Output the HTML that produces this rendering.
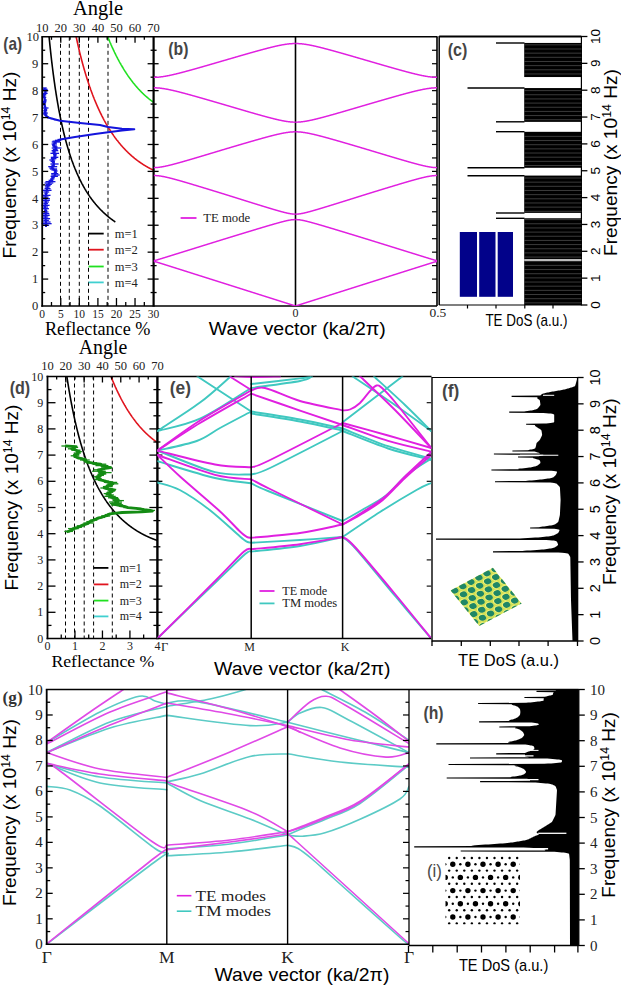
<!DOCTYPE html>
<html><head><meta charset="utf-8"><style>
html,body{margin:0;padding:0;background:#fff;}
svg{display:block;}
</style></head><body>
<svg width="621" height="987" viewBox="0 0 621 987">
<rect width="621" height="987" fill="#fff"/>
<line x1="60.50" y1="36.80" x2="60.50" y2="306.00" stroke="#000" stroke-width="1" stroke-linecap="butt" stroke-dasharray="4,3"/>
<line x1="69.30" y1="36.80" x2="69.30" y2="306.00" stroke="#000" stroke-width="1" stroke-linecap="butt" stroke-dasharray="4,3"/>
<line x1="79.30" y1="36.80" x2="79.30" y2="306.00" stroke="#000" stroke-width="1" stroke-linecap="butt" stroke-dasharray="4,3"/>
<line x1="88.50" y1="36.80" x2="88.50" y2="306.00" stroke="#000" stroke-width="1" stroke-linecap="butt" stroke-dasharray="4,3"/>
<line x1="108.00" y1="36.80" x2="108.00" y2="306.00" stroke="#000" stroke-width="1" stroke-linecap="butt" stroke-dasharray="4,3"/>
<polyline points="49.07,36.62 49.26,38.53 49.44,40.42 49.63,42.28 49.81,44.11 50.00,45.92 50.18,47.70 50.37,49.45 50.55,51.19 50.74,52.89 50.93,54.58 51.11,56.24 51.30,57.88 51.48,59.49 51.67,61.09 51.85,62.66 52.04,64.22 52.23,65.75 52.41,67.26 52.60,68.75 52.78,70.23 52.97,71.68 53.15,73.12 53.34,74.54 53.53,75.93 53.71,77.32 53.90,78.68 54.08,80.03 54.27,81.36 54.45,82.68 54.64,83.98 54.83,85.26 55.01,86.53 55.20,87.78 55.38,89.02 55.57,90.25 55.75,91.45 55.94,92.65 56.12,93.83 56.31,95.00 56.50,96.15 56.68,97.29 56.87,98.42 57.05,99.54 57.24,100.64 57.42,101.73 57.61,102.81 57.80,103.88 57.98,104.93 58.17,105.97 58.35,107.00 58.54,108.03 58.72,109.03 58.91,110.03 59.10,111.02 59.28,112.00 59.47,112.97 59.65,113.92 59.84,114.87 60.02,115.81 60.21,116.73 60.40,117.65 60.58,118.56 60.77,119.46 60.95,120.35 61.14,121.23 61.32,122.10 61.51,122.97 61.70,123.82 61.88,124.67 62.07,125.51 62.25,126.33 62.44,127.16 62.62,127.97 62.81,128.78 62.99,129.57 63.18,130.36 63.37,131.15 63.55,131.92 63.74,132.69 63.92,133.45 64.11,134.20 64.29,134.95 64.48,135.69 64.67,136.42 64.85,137.14 65.04,137.86 65.22,138.58 65.41,139.28 65.59,139.98 65.78,140.67 65.97,141.36 66.15,142.04 66.34,142.72 66.52,143.38 66.71,144.05 66.89,144.70 67.08,145.35 67.27,146.00 67.45,146.64 67.64,147.27 67.82,147.90 68.01,148.52 68.19,149.14 68.38,149.75 68.56,150.36 68.75,150.96 68.94,151.56 69.12,152.15 69.31,152.74 69.49,153.32 69.68,153.90 69.86,154.47 70.05,155.04 70.24,155.60 70.42,156.16 70.61,156.71 70.79,157.26 70.98,157.80 71.16,158.34 71.35,158.88 71.54,159.41 71.72,159.94 71.91,160.46 72.09,160.98 72.28,161.49 72.46,162.00 72.65,162.51 72.84,163.01 73.02,163.51 73.21,164.01 73.39,164.50 73.58,164.98 73.76,165.47 73.95,165.95 74.13,166.42 74.32,166.90 74.51,167.36 74.69,167.83 74.88,168.29 75.06,168.75 75.25,169.20 75.43,169.65 75.62,170.10 75.81,170.55 75.99,170.99 76.18,171.43 76.36,171.86 76.55,172.29 76.73,172.72 76.92,173.14 77.11,173.57 77.29,173.99 77.48,174.40 77.66,174.81 77.85,175.22 78.03,175.63 78.22,176.03 78.41,176.44 78.59,176.83 78.78,177.23 78.96,177.62 79.15,178.01 79.33,178.40 79.52,178.78 79.70,179.17 79.89,179.54 80.08,179.92 80.26,180.29 80.45,180.67 80.63,181.03 80.82,181.40 81.00,181.76 81.19,182.12 81.38,182.48 81.56,182.84 81.75,183.19 81.93,183.54 82.12,183.89 82.30,184.24 82.49,184.58 82.68,184.93 82.86,185.27 83.05,185.60 83.23,185.94 83.42,186.27 83.60,186.60 83.79,186.93 83.97,187.26 84.16,187.58 84.35,187.90 84.53,188.22 84.72,188.54 84.90,188.86 85.09,189.17 85.27,189.48 85.46,189.79 85.65,190.10 85.83,190.41 86.02,190.71 86.20,191.01 86.39,191.31 86.57,191.61 86.76,191.91 86.95,192.20 87.13,192.49 87.32,192.78 87.50,193.07 87.69,193.36 87.87,193.64 88.06,193.93 88.25,194.21 88.43,194.49 88.62,194.77 88.80,195.04 88.99,195.32 89.17,195.59 89.36,195.86 89.55,196.13 89.73,196.40 89.92,196.67 90.10,196.93 90.29,197.19 90.47,197.46 90.66,197.72 90.84,197.97 91.03,198.23 91.22,198.49 91.40,198.74 91.59,198.99 91.77,199.24 91.96,199.49 92.14,199.74 92.33,199.99 92.52,200.23 92.70,200.47 92.89,200.72 93.07,200.96 93.26,201.20 93.44,201.43 93.63,201.67 93.82,201.91 94.00,202.14 94.19,202.37 94.37,202.60 94.56,202.83 94.74,203.06 94.93,203.29 95.11,203.51 95.30,203.74 95.49,203.96 95.67,204.18 95.86,204.40 96.04,204.62 96.23,204.84 96.41,205.05 96.60,205.27 96.79,205.48 96.97,205.70 97.16,205.91 97.34,206.12 97.53,206.33 97.71,206.54 97.90,206.74 98.09,206.95 98.27,207.15 98.46,207.36 98.64,207.56 98.83,207.76 99.01,207.96 99.20,208.16 99.39,208.36 99.57,208.56 99.76,208.75 99.94,208.95 100.13,209.14 100.31,209.33 100.50,209.52 100.69,209.71 100.87,209.90 101.06,210.09 101.24,210.28 101.43,210.47 101.61,210.65 101.80,210.84 101.98,211.02 102.17,211.20 102.36,211.38 102.54,211.56 102.73,211.74 102.91,211.92 103.10,212.10 103.28,212.28 103.47,212.45 103.66,212.63 103.84,212.80 104.03,212.97 104.21,213.14 104.40,213.31 104.58,213.48 104.77,213.65 104.96,213.82 105.14,213.99 105.33,214.16 105.51,214.32 105.70,214.49 105.88,214.65 106.07,214.81 106.25,214.97 106.44,215.14 106.63,215.30 106.81,215.46 107.00,215.61 107.18,215.77 107.37,215.93 107.55,216.09 107.74,216.24 107.93,216.40 108.11,216.55 108.30,216.70 108.48,216.86 108.67,217.01 108.85,217.16 109.04,217.31 109.23,217.46 109.41,217.60 109.60,217.75 109.78,217.90 109.97,218.04 110.15,218.19 110.34,218.33 110.53,218.48 110.71,218.62 110.90,218.76 111.08,218.91 111.27,219.05 111.45,219.19 111.64,219.33 111.83,219.46 112.01,219.60 112.20,219.74 112.38,219.88 112.57,220.01 112.75,220.15 112.94,220.28 113.12,220.42 113.31,220.55 113.50,220.68 113.68,220.81 113.87,220.95 114.05,221.08 114.24,221.21 114.42,221.34 114.61,221.46 114.80,221.59 114.98,221.72 115.17,221.85 115.35,221.97" fill="none" stroke="#000" stroke-width="1.6" stroke-linejoin="round"/>
<polyline points="76.18,36.85 76.36,37.72 76.55,38.58 76.73,39.44 76.92,40.29 77.11,41.13 77.29,41.97 77.48,42.80 77.66,43.63 77.85,44.45 78.03,45.26 78.22,46.07 78.41,46.87 78.59,47.67 78.78,48.46 78.96,49.24 79.15,50.02 79.33,50.80 79.52,51.57 79.70,52.33 79.89,53.09 80.08,53.84 80.26,54.59 80.45,55.33 80.63,56.07 80.82,56.80 81.00,57.53 81.19,58.25 81.38,58.97 81.56,59.68 81.75,60.39 81.93,61.09 82.12,61.79 82.30,62.48 82.49,63.17 82.68,63.85 82.86,64.53 83.05,65.21 83.23,65.88 83.42,66.54 83.60,67.20 83.79,67.86 83.97,68.51 84.16,69.16 84.35,69.81 84.53,70.45 84.72,71.08 84.90,71.71 85.09,72.34 85.27,72.97 85.46,73.59 85.65,74.20 85.83,74.81 86.02,75.42 86.20,76.02 86.39,76.62 86.57,77.22 86.76,77.81 86.95,78.40 87.13,78.99 87.32,79.57 87.50,80.14 87.69,80.72 87.87,81.29 88.06,81.86 88.25,82.42 88.43,82.98 88.62,83.53 88.80,84.09 88.99,84.64 89.17,85.18 89.36,85.73 89.55,86.26 89.73,86.80 89.92,87.33 90.10,87.86 90.29,88.39 90.47,88.91 90.66,89.43 90.84,89.95 91.03,90.46 91.22,90.97 91.40,91.48 91.59,91.99 91.77,92.49 91.96,92.99 92.14,93.48 92.33,93.97 92.52,94.46 92.70,94.95 92.89,95.43 93.07,95.91 93.26,96.39 93.44,96.87 93.63,97.34 93.82,97.81 94.00,98.28 94.19,98.74 94.37,99.20 94.56,99.66 94.74,100.12 94.93,100.57 95.11,101.02 95.30,101.47 95.49,101.92 95.67,102.36 95.86,102.80 96.04,103.24 96.23,103.68 96.41,104.11 96.60,104.54 96.79,104.97 96.97,105.39 97.16,105.82 97.34,106.24 97.53,106.66 97.71,107.07 97.90,107.49 98.09,107.90 98.27,108.31 98.46,108.72 98.64,109.12 98.83,109.52 99.01,109.92 99.20,110.32 99.39,110.72 99.57,111.11 99.76,111.50 99.94,111.89 100.13,112.28 100.31,112.67 100.50,113.05 100.69,113.43 100.87,113.81 101.06,114.19 101.24,114.56 101.43,114.93 101.61,115.30 101.80,115.67 101.98,116.04 102.17,116.40 102.36,116.77 102.54,117.13 102.73,117.49 102.91,117.84 103.10,118.20 103.28,118.55 103.47,118.90 103.66,119.25 103.84,119.60 104.03,119.94 104.21,120.29 104.40,120.63 104.58,120.97 104.77,121.31 104.96,121.64 105.14,121.98 105.33,122.31 105.51,122.64 105.70,122.97 105.88,123.30 106.07,123.63 106.25,123.95 106.44,124.27 106.63,124.59 106.81,124.91 107.00,125.23 107.18,125.55 107.37,125.86 107.55,126.17 107.74,126.48 107.93,126.79 108.11,127.10 108.30,127.41 108.48,127.71 108.67,128.01 108.85,128.31 109.04,128.61 109.23,128.91 109.41,129.21 109.60,129.50 109.78,129.80 109.97,130.09 110.15,130.38 110.34,130.67 110.53,130.96 110.71,131.24 110.90,131.53 111.08,131.81 111.27,132.09 111.45,132.37 111.64,132.65 111.83,132.93 112.01,133.21 112.20,133.48 112.38,133.75 112.57,134.03 112.75,134.30 112.94,134.57 113.12,134.83 113.31,135.10 113.50,135.36 113.68,135.63 113.87,135.89 114.05,136.15 114.24,136.41 114.42,136.67 114.61,136.93 114.80,137.18 114.98,137.44 115.17,137.69 115.35,137.94 115.54,138.19 115.72,138.44 115.91,138.69 116.10,138.94 116.28,139.18 116.47,139.43 116.65,139.67 116.84,139.91 117.02,140.16 117.21,140.40 117.39,140.63 117.58,140.87 117.77,141.11 117.95,141.34 118.14,141.58 118.32,141.81 118.51,142.04 118.69,142.27 118.88,142.50 119.07,142.73 119.25,142.95 119.44,143.18 119.62,143.40 119.81,143.63 119.99,143.85 120.18,144.07 120.37,144.29 120.55,144.51 120.74,144.73 120.92,144.95 121.11,145.16 121.29,145.38 121.48,145.59 121.67,145.80 121.85,146.02 122.04,146.23 122.22,146.44 122.41,146.64 122.59,146.85 122.78,147.06 122.97,147.26 123.15,147.47 123.34,147.67 123.52,147.87 123.71,148.08 123.89,148.28 124.08,148.48 124.26,148.67 124.45,148.87 124.64,149.07 124.82,149.26 125.01,149.46 125.19,149.65 125.38,149.85 125.56,150.04 125.75,150.23 125.94,150.42 126.12,150.61 126.31,150.80 126.49,150.98 126.68,151.17 126.86,151.35 127.05,151.54 127.24,151.72 127.42,151.90 127.61,152.09 127.79,152.27 127.98,152.45 128.16,152.63 128.35,152.80 128.53,152.98 128.72,153.16 128.91,153.33 129.09,153.51 129.28,153.68 129.46,153.85 129.65,154.03 129.83,154.20 130.02,154.37 130.21,154.54 130.39,154.71 130.58,154.87 130.76,155.04 130.95,155.21 131.13,155.37 131.32,155.54 131.51,155.70 131.69,155.86 131.88,156.02 132.06,156.19 132.25,156.35 132.43,156.51 132.62,156.66 132.81,156.82 132.99,156.98 133.18,157.14 133.36,157.29 133.55,157.45 133.73,157.60 133.92,157.75 134.10,157.91 134.29,158.06 134.48,158.21 134.66,158.36 134.85,158.51 135.03,158.66 135.22,158.81 135.40,158.95 135.59,159.10 135.78,159.25 135.96,159.39 136.15,159.54 136.33,159.68 136.52,159.82 136.70,159.97 136.89,160.11 137.08,160.25 137.26,160.39 137.45,160.53 137.63,160.67 137.82,160.80 138.00,160.94 138.19,161.08 138.38,161.21 138.56,161.35 138.75,161.48 138.93,161.62 139.12,161.75 139.30,161.88 139.49,162.01 139.68,162.15 139.86,162.28 140.05,162.41 140.23,162.53 140.42,162.66 140.60,162.79 140.79,162.92 140.97,163.04 141.16,163.17 141.35,163.29 141.53,163.42 141.72,163.54 141.90,163.67 142.09,163.79 142.27,163.91 142.46,164.03 142.65,164.15 142.83,164.27 143.02,164.39 143.20,164.51 143.39,164.63 143.57,164.74 143.76,164.86 143.95,164.98 144.13,165.09 144.32,165.21 144.50,165.32 144.69,165.44 144.87,165.55 145.06,165.66 145.25,165.77 145.43,165.88 145.62,166.00 145.80,166.11 145.99,166.21 146.17,166.32 146.36,166.43 146.54,166.54 146.73,166.65 146.92,166.75 147.10,166.86 147.29,166.96 147.47,167.07 147.66,167.17 147.84,167.28 148.03,167.38 148.22,167.48 148.40,167.58 148.59,167.69 148.77,167.79 148.96,167.89 149.14,167.99 149.33,168.08 149.52,168.18 149.70,168.28 149.89,168.38 150.07,168.47 150.26,168.57 150.44,168.67 150.63,168.76 150.81,168.86 151.00,168.95 151.19,169.04 151.37,169.14 151.56,169.23 151.74,169.32 151.93,169.41 152.11,169.50 152.30,169.59 152.49,169.68 152.67,169.77 152.86,169.86 153.04,169.95 153.23,170.04 153.41,170.12 153.60,170.21" fill="none" stroke="#e0141e" stroke-width="1.6" stroke-linejoin="round"/>
<polyline points="107.74,36.72 107.93,37.19 108.11,37.65 108.30,38.11 108.48,38.57 108.67,39.02 108.85,39.47 109.04,39.92 109.23,40.37 109.41,40.81 109.60,41.26 109.78,41.70 109.97,42.13 110.15,42.57 110.34,43.00 110.53,43.44 110.71,43.86 110.90,44.29 111.08,44.72 111.27,45.14 111.45,45.56 111.64,45.98 111.83,46.39 112.01,46.81 112.20,47.22 112.38,47.63 112.57,48.04 112.75,48.44 112.94,48.85 113.12,49.25 113.31,49.65 113.50,50.05 113.68,50.44 113.87,50.84 114.05,51.23 114.24,51.62 114.42,52.01 114.61,52.39 114.80,52.77 114.98,53.16 115.17,53.54 115.35,53.91 115.54,54.29 115.72,54.67 115.91,55.04 116.10,55.41 116.28,55.78 116.47,56.14 116.65,56.51 116.84,56.87 117.02,57.23 117.21,57.59 117.39,57.95 117.58,58.31 117.77,58.66 117.95,59.01 118.14,59.36 118.32,59.71 118.51,60.06 118.69,60.41 118.88,60.75 119.07,61.09 119.25,61.43 119.44,61.77 119.62,62.11 119.81,62.44 119.99,62.78 120.18,63.11 120.37,63.44 120.55,63.77 120.74,64.09 120.92,64.42 121.11,64.74 121.29,65.07 121.48,65.39 121.67,65.71 121.85,66.02 122.04,66.34 122.22,66.65 122.41,66.97 122.59,67.28 122.78,67.59 122.97,67.90 123.15,68.20 123.34,68.51 123.52,68.81 123.71,69.11 123.89,69.42 124.08,69.71 124.26,70.01 124.45,70.31 124.64,70.60 124.82,70.90 125.01,71.19 125.19,71.48 125.38,71.77 125.56,72.06 125.75,72.34 125.94,72.63 126.12,72.91 126.31,73.19 126.49,73.47 126.68,73.75 126.86,74.03 127.05,74.31 127.24,74.58 127.42,74.86 127.61,75.13 127.79,75.40 127.98,75.67 128.16,75.94 128.35,76.20 128.53,76.47 128.72,76.74 128.91,77.00 129.09,77.26 129.28,77.52 129.46,77.78 129.65,78.04 129.83,78.30 130.02,78.55 130.21,78.80 130.39,79.06 130.58,79.31 130.76,79.56 130.95,79.81 131.13,80.06 131.32,80.30 131.51,80.55 131.69,80.79 131.88,81.04 132.06,81.28 132.25,81.52 132.43,81.76 132.62,82.00 132.81,82.23 132.99,82.47 133.18,82.70 133.36,82.94 133.55,83.17 133.73,83.40 133.92,83.63 134.10,83.86 134.29,84.09 134.48,84.32 134.66,84.54 134.85,84.77 135.03,84.99 135.22,85.21 135.40,85.43 135.59,85.65 135.78,85.87 135.96,86.09 136.15,86.31 136.33,86.52 136.52,86.74 136.70,86.95 136.89,87.16 137.08,87.37 137.26,87.58 137.45,87.79 137.63,88.00 137.82,88.21 138.00,88.41 138.19,88.62 138.38,88.82 138.56,89.02 138.75,89.22 138.93,89.43 139.12,89.63 139.30,89.82 139.49,90.02 139.68,90.22 139.86,90.41 140.05,90.61 140.23,90.80 140.42,90.99 140.60,91.19 140.79,91.38 140.97,91.57 141.16,91.75 141.35,91.94 141.53,92.13 141.72,92.31 141.90,92.50 142.09,92.68 142.27,92.86 142.46,93.05 142.65,93.23 142.83,93.41 143.02,93.59 143.20,93.76 143.39,93.94 143.57,94.12 143.76,94.29 143.95,94.47 144.13,94.64 144.32,94.81 144.50,94.98 144.69,95.15 144.87,95.32 145.06,95.49 145.25,95.66 145.43,95.83 145.62,95.99 145.80,96.16 145.99,96.32 146.17,96.49 146.36,96.65 146.54,96.81 146.73,96.97 146.92,97.13 147.10,97.29 147.29,97.45 147.47,97.60 147.66,97.76 147.84,97.91 148.03,98.07 148.22,98.22 148.40,98.38 148.59,98.53 148.77,98.68 148.96,98.83 149.14,98.98 149.33,99.13 149.52,99.27 149.70,99.42 149.89,99.57 150.07,99.71 150.26,99.86 150.44,100.00 150.63,100.14 150.81,100.28 151.00,100.43 151.19,100.57 151.37,100.71 151.56,100.84 151.74,100.98 151.93,101.12 152.11,101.25 152.30,101.39 152.49,101.52 152.67,101.66 152.86,101.79 153.04,101.92 153.23,102.05 153.41,102.19 153.60,102.32" fill="none" stroke="#20e020" stroke-width="1.6" stroke-linejoin="round"/>
<polyline points="44.50,88.00 45.50,92.00 44.00,96.00 45.00,100.00 44.20,104.00 45.50,108.00 45.00,112.00 45.50,115.00 48.00,117.50 60.00,120.80 80.00,123.00 100.00,125.00 108.00,127.00 122.00,128.80 134.30,129.30 122.00,130.50 108.00,132.20 95.00,134.00 75.00,137.00 60.00,139.50 55.50,142.00 53.50,145.00 56.00,148.00 54.00,152.00 55.00,156.00 52.50,160.00 54.00,164.00 52.00,168.00 55.50,171.00 55.00,175.00 52.00,179.00 49.00,183.00 47.50,187.00 46.50,192.00 45.50,197.00 46.00,202.00 45.00,207.00 46.00,212.00 45.50,217.00 46.00,222.00 46.00,227.00" fill="none" stroke="#1414dc" stroke-width="2.0" stroke-linejoin="round"/>
<line x1="42.57" y1="88.00" x2="46.71" y2="88.00" stroke="#1414dc" stroke-width="1.3" stroke-linecap="butt"/>
<line x1="42.64" y1="89.33" x2="47.61" y2="89.33" stroke="#1414dc" stroke-width="1.3" stroke-linecap="butt"/>
<line x1="43.06" y1="90.67" x2="47.81" y2="90.67" stroke="#1414dc" stroke-width="1.3" stroke-linecap="butt"/>
<line x1="44.46" y1="92.00" x2="46.52" y2="92.00" stroke="#1414dc" stroke-width="1.3" stroke-linecap="butt"/>
<line x1="42.58" y1="93.33" x2="47.63" y2="93.33" stroke="#1414dc" stroke-width="1.3" stroke-linecap="butt"/>
<line x1="42.15" y1="94.67" x2="46.31" y2="94.67" stroke="#1414dc" stroke-width="1.3" stroke-linecap="butt"/>
<line x1="42.30" y1="96.00" x2="45.44" y2="96.00" stroke="#1414dc" stroke-width="1.3" stroke-linecap="butt"/>
<line x1="42.52" y1="97.33" x2="46.23" y2="97.33" stroke="#1414dc" stroke-width="1.3" stroke-linecap="butt"/>
<line x1="43.65" y1="98.67" x2="45.51" y2="98.67" stroke="#1414dc" stroke-width="1.3" stroke-linecap="butt"/>
<line x1="43.58" y1="100.00" x2="46.77" y2="100.00" stroke="#1414dc" stroke-width="1.3" stroke-linecap="butt"/>
<line x1="42.58" y1="101.33" x2="46.44" y2="101.33" stroke="#1414dc" stroke-width="1.3" stroke-linecap="butt"/>
<line x1="42.27" y1="102.67" x2="46.19" y2="102.67" stroke="#1414dc" stroke-width="1.3" stroke-linecap="butt"/>
<line x1="42.27" y1="104.00" x2="45.69" y2="104.00" stroke="#1414dc" stroke-width="1.3" stroke-linecap="butt"/>
<line x1="43.63" y1="105.33" x2="45.86" y2="105.33" stroke="#1414dc" stroke-width="1.3" stroke-linecap="butt"/>
<line x1="43.75" y1="106.67" x2="46.16" y2="106.67" stroke="#1414dc" stroke-width="1.3" stroke-linecap="butt"/>
<line x1="43.03" y1="108.00" x2="48.53" y2="108.00" stroke="#1414dc" stroke-width="1.3" stroke-linecap="butt"/>
<line x1="43.90" y1="109.33" x2="47.16" y2="109.33" stroke="#1414dc" stroke-width="1.3" stroke-linecap="butt"/>
<line x1="43.36" y1="110.67" x2="47.17" y2="110.67" stroke="#1414dc" stroke-width="1.3" stroke-linecap="butt"/>
<line x1="43.69" y1="112.00" x2="46.65" y2="112.00" stroke="#1414dc" stroke-width="1.3" stroke-linecap="butt"/>
<line x1="43.13" y1="113.00" x2="47.77" y2="113.00" stroke="#1414dc" stroke-width="1.3" stroke-linecap="butt"/>
<line x1="42.99" y1="114.00" x2="47.39" y2="114.00" stroke="#1414dc" stroke-width="1.3" stroke-linecap="butt"/>
<line x1="43.96" y1="115.00" x2="46.73" y2="115.00" stroke="#1414dc" stroke-width="1.3" stroke-linecap="butt"/>
<line x1="45.11" y1="115.83" x2="47.23" y2="115.83" stroke="#1414dc" stroke-width="1.3" stroke-linecap="butt"/>
<line x1="45.71" y1="116.67" x2="48.71" y2="116.67" stroke="#1414dc" stroke-width="1.3" stroke-linecap="butt"/>
<line x1="46.99" y1="117.50" x2="49.11" y2="117.50" stroke="#1414dc" stroke-width="1.3" stroke-linecap="butt"/>
<line x1="50.49" y1="118.60" x2="53.34" y2="118.60" stroke="#1414dc" stroke-width="1.3" stroke-linecap="butt"/>
<line x1="53.77" y1="119.70" x2="58.20" y2="119.70" stroke="#1414dc" stroke-width="1.3" stroke-linecap="butt"/>
<line x1="57.55" y1="139.50" x2="62.42" y2="139.50" stroke="#1414dc" stroke-width="1.3" stroke-linecap="butt"/>
<line x1="54.89" y1="140.33" x2="61.15" y2="140.33" stroke="#1414dc" stroke-width="1.3" stroke-linecap="butt"/>
<line x1="52.57" y1="141.17" x2="60.16" y2="141.17" stroke="#1414dc" stroke-width="1.3" stroke-linecap="butt"/>
<line x1="51.75" y1="142.00" x2="60.03" y2="142.00" stroke="#1414dc" stroke-width="1.3" stroke-linecap="butt"/>
<line x1="53.28" y1="143.00" x2="56.66" y2="143.00" stroke="#1414dc" stroke-width="1.3" stroke-linecap="butt"/>
<line x1="51.57" y1="144.00" x2="56.89" y2="144.00" stroke="#1414dc" stroke-width="1.3" stroke-linecap="butt"/>
<line x1="51.97" y1="145.00" x2="54.61" y2="145.00" stroke="#1414dc" stroke-width="1.3" stroke-linecap="butt"/>
<line x1="52.29" y1="146.00" x2="56.93" y2="146.00" stroke="#1414dc" stroke-width="1.3" stroke-linecap="butt"/>
<line x1="53.08" y1="147.00" x2="57.58" y2="147.00" stroke="#1414dc" stroke-width="1.3" stroke-linecap="butt"/>
<line x1="51.71" y1="148.00" x2="61.43" y2="148.00" stroke="#1414dc" stroke-width="1.3" stroke-linecap="butt"/>
<line x1="52.80" y1="149.33" x2="57.65" y2="149.33" stroke="#1414dc" stroke-width="1.3" stroke-linecap="butt"/>
<line x1="51.59" y1="150.67" x2="58.25" y2="150.67" stroke="#1414dc" stroke-width="1.3" stroke-linecap="butt"/>
<line x1="52.18" y1="152.00" x2="56.10" y2="152.00" stroke="#1414dc" stroke-width="1.3" stroke-linecap="butt"/>
<line x1="50.44" y1="153.33" x2="59.06" y2="153.33" stroke="#1414dc" stroke-width="1.3" stroke-linecap="butt"/>
<line x1="53.06" y1="154.67" x2="56.71" y2="154.67" stroke="#1414dc" stroke-width="1.3" stroke-linecap="butt"/>
<line x1="53.23" y1="156.00" x2="56.60" y2="156.00" stroke="#1414dc" stroke-width="1.3" stroke-linecap="butt"/>
<line x1="50.83" y1="157.33" x2="58.34" y2="157.33" stroke="#1414dc" stroke-width="1.3" stroke-linecap="butt"/>
<line x1="50.81" y1="158.67" x2="56.49" y2="158.67" stroke="#1414dc" stroke-width="1.3" stroke-linecap="butt"/>
<line x1="49.36" y1="160.00" x2="55.28" y2="160.00" stroke="#1414dc" stroke-width="1.3" stroke-linecap="butt"/>
<line x1="50.55" y1="161.33" x2="54.98" y2="161.33" stroke="#1414dc" stroke-width="1.3" stroke-linecap="butt"/>
<line x1="51.77" y1="162.67" x2="54.87" y2="162.67" stroke="#1414dc" stroke-width="1.3" stroke-linecap="butt"/>
<line x1="50.43" y1="164.00" x2="58.63" y2="164.00" stroke="#1414dc" stroke-width="1.3" stroke-linecap="butt"/>
<line x1="51.35" y1="165.33" x2="54.78" y2="165.33" stroke="#1414dc" stroke-width="1.3" stroke-linecap="butt"/>
<line x1="48.21" y1="166.67" x2="57.22" y2="166.67" stroke="#1414dc" stroke-width="1.3" stroke-linecap="butt"/>
<line x1="49.28" y1="168.00" x2="54.29" y2="168.00" stroke="#1414dc" stroke-width="1.3" stroke-linecap="butt"/>
<line x1="49.88" y1="169.00" x2="57.09" y2="169.00" stroke="#1414dc" stroke-width="1.3" stroke-linecap="butt"/>
<line x1="51.47" y1="170.00" x2="57.07" y2="170.00" stroke="#1414dc" stroke-width="1.3" stroke-linecap="butt"/>
<line x1="53.83" y1="171.00" x2="57.58" y2="171.00" stroke="#1414dc" stroke-width="1.3" stroke-linecap="butt"/>
<line x1="53.74" y1="172.33" x2="56.93" y2="172.33" stroke="#1414dc" stroke-width="1.3" stroke-linecap="butt"/>
<line x1="51.15" y1="173.67" x2="58.29" y2="173.67" stroke="#1414dc" stroke-width="1.3" stroke-linecap="butt"/>
<line x1="51.31" y1="175.00" x2="59.69" y2="175.00" stroke="#1414dc" stroke-width="1.3" stroke-linecap="butt"/>
<line x1="50.61" y1="176.33" x2="57.98" y2="176.33" stroke="#1414dc" stroke-width="1.3" stroke-linecap="butt"/>
<line x1="51.18" y1="177.67" x2="54.75" y2="177.67" stroke="#1414dc" stroke-width="1.3" stroke-linecap="butt"/>
<line x1="50.05" y1="179.00" x2="54.35" y2="179.00" stroke="#1414dc" stroke-width="1.3" stroke-linecap="butt"/>
<line x1="48.62" y1="180.33" x2="53.32" y2="180.33" stroke="#1414dc" stroke-width="1.3" stroke-linecap="butt"/>
<line x1="45.50" y1="181.67" x2="55.45" y2="181.67" stroke="#1414dc" stroke-width="1.3" stroke-linecap="butt"/>
<line x1="44.57" y1="183.00" x2="53.30" y2="183.00" stroke="#1414dc" stroke-width="1.3" stroke-linecap="butt"/>
<line x1="45.54" y1="184.33" x2="51.87" y2="184.33" stroke="#1414dc" stroke-width="1.3" stroke-linecap="butt"/>
<line x1="45.06" y1="185.67" x2="50.57" y2="185.67" stroke="#1414dc" stroke-width="1.3" stroke-linecap="butt"/>
<line x1="44.79" y1="187.00" x2="49.64" y2="187.00" stroke="#1414dc" stroke-width="1.3" stroke-linecap="butt"/>
<line x1="44.54" y1="188.67" x2="50.57" y2="188.67" stroke="#1414dc" stroke-width="1.3" stroke-linecap="butt"/>
<line x1="42.45" y1="190.33" x2="51.55" y2="190.33" stroke="#1414dc" stroke-width="1.3" stroke-linecap="butt"/>
<line x1="43.50" y1="192.00" x2="49.21" y2="192.00" stroke="#1414dc" stroke-width="1.3" stroke-linecap="butt"/>
<line x1="44.40" y1="193.67" x2="47.69" y2="193.67" stroke="#1414dc" stroke-width="1.3" stroke-linecap="butt"/>
<line x1="41.99" y1="195.33" x2="50.53" y2="195.33" stroke="#1414dc" stroke-width="1.3" stroke-linecap="butt"/>
<line x1="42.92" y1="197.00" x2="48.53" y2="197.00" stroke="#1414dc" stroke-width="1.3" stroke-linecap="butt"/>
<line x1="41.84" y1="198.67" x2="49.94" y2="198.67" stroke="#1414dc" stroke-width="1.3" stroke-linecap="butt"/>
<line x1="42.34" y1="200.33" x2="49.87" y2="200.33" stroke="#1414dc" stroke-width="1.3" stroke-linecap="butt"/>
<line x1="43.41" y1="202.00" x2="48.91" y2="202.00" stroke="#1414dc" stroke-width="1.3" stroke-linecap="butt"/>
<line x1="43.32" y1="203.67" x2="47.99" y2="203.67" stroke="#1414dc" stroke-width="1.3" stroke-linecap="butt"/>
<line x1="41.52" y1="205.33" x2="49.58" y2="205.33" stroke="#1414dc" stroke-width="1.3" stroke-linecap="butt"/>
<line x1="42.62" y1="207.00" x2="48.02" y2="207.00" stroke="#1414dc" stroke-width="1.3" stroke-linecap="butt"/>
<line x1="41.88" y1="208.67" x2="48.95" y2="208.67" stroke="#1414dc" stroke-width="1.3" stroke-linecap="butt"/>
<line x1="44.13" y1="210.33" x2="47.24" y2="210.33" stroke="#1414dc" stroke-width="1.3" stroke-linecap="butt"/>
<line x1="43.75" y1="212.00" x2="48.48" y2="212.00" stroke="#1414dc" stroke-width="1.3" stroke-linecap="butt"/>
<line x1="42.94" y1="213.67" x2="49.27" y2="213.67" stroke="#1414dc" stroke-width="1.3" stroke-linecap="butt"/>
<line x1="42.22" y1="215.33" x2="49.72" y2="215.33" stroke="#1414dc" stroke-width="1.3" stroke-linecap="butt"/>
<line x1="42.96" y1="217.00" x2="48.26" y2="217.00" stroke="#1414dc" stroke-width="1.3" stroke-linecap="butt"/>
<line x1="41.95" y1="218.67" x2="50.11" y2="218.67" stroke="#1414dc" stroke-width="1.3" stroke-linecap="butt"/>
<line x1="43.28" y1="220.33" x2="48.91" y2="220.33" stroke="#1414dc" stroke-width="1.3" stroke-linecap="butt"/>
<line x1="41.89" y1="222.00" x2="50.57" y2="222.00" stroke="#1414dc" stroke-width="1.3" stroke-linecap="butt"/>
<line x1="41.57" y1="223.67" x2="51.64" y2="223.67" stroke="#1414dc" stroke-width="1.3" stroke-linecap="butt"/>
<line x1="42.95" y1="225.33" x2="49.11" y2="225.33" stroke="#1414dc" stroke-width="1.3" stroke-linecap="butt"/>
<line x1="42.20" y1="36.80" x2="42.20" y2="306.80" stroke="#000" stroke-width="1.8" stroke-linecap="butt"/>
<line x1="41.30" y1="306.00" x2="153.60" y2="306.00" stroke="#000" stroke-width="1.6" stroke-linecap="butt"/>
<line x1="41.30" y1="36.80" x2="437.50" y2="36.80" stroke="#000" stroke-width="1.5" stroke-linecap="butt"/>
<line x1="153.60" y1="36.80" x2="153.60" y2="306.80" stroke="#000" stroke-width="2.2" stroke-linecap="butt"/>
<line x1="42.20" y1="292.54" x2="45.20" y2="292.54" stroke="#000" stroke-width="1.3" stroke-linecap="butt"/>
<line x1="150.60" y1="292.54" x2="156.60" y2="292.54" stroke="#000" stroke-width="1.3" stroke-linecap="butt"/>
<line x1="42.20" y1="279.08" x2="48.20" y2="279.08" stroke="#000" stroke-width="1.3" stroke-linecap="butt"/>
<line x1="147.60" y1="279.08" x2="158.60" y2="279.08" stroke="#000" stroke-width="1.3" stroke-linecap="butt"/>
<line x1="42.20" y1="265.62" x2="45.20" y2="265.62" stroke="#000" stroke-width="1.3" stroke-linecap="butt"/>
<line x1="150.60" y1="265.62" x2="156.60" y2="265.62" stroke="#000" stroke-width="1.3" stroke-linecap="butt"/>
<line x1="42.20" y1="252.16" x2="48.20" y2="252.16" stroke="#000" stroke-width="1.3" stroke-linecap="butt"/>
<line x1="147.60" y1="252.16" x2="158.60" y2="252.16" stroke="#000" stroke-width="1.3" stroke-linecap="butt"/>
<line x1="42.20" y1="238.70" x2="45.20" y2="238.70" stroke="#000" stroke-width="1.3" stroke-linecap="butt"/>
<line x1="150.60" y1="238.70" x2="156.60" y2="238.70" stroke="#000" stroke-width="1.3" stroke-linecap="butt"/>
<line x1="42.20" y1="225.24" x2="48.20" y2="225.24" stroke="#000" stroke-width="1.3" stroke-linecap="butt"/>
<line x1="147.60" y1="225.24" x2="158.60" y2="225.24" stroke="#000" stroke-width="1.3" stroke-linecap="butt"/>
<line x1="42.20" y1="211.78" x2="45.20" y2="211.78" stroke="#000" stroke-width="1.3" stroke-linecap="butt"/>
<line x1="150.60" y1="211.78" x2="156.60" y2="211.78" stroke="#000" stroke-width="1.3" stroke-linecap="butt"/>
<line x1="42.20" y1="198.32" x2="48.20" y2="198.32" stroke="#000" stroke-width="1.3" stroke-linecap="butt"/>
<line x1="147.60" y1="198.32" x2="158.60" y2="198.32" stroke="#000" stroke-width="1.3" stroke-linecap="butt"/>
<line x1="42.20" y1="184.86" x2="45.20" y2="184.86" stroke="#000" stroke-width="1.3" stroke-linecap="butt"/>
<line x1="150.60" y1="184.86" x2="156.60" y2="184.86" stroke="#000" stroke-width="1.3" stroke-linecap="butt"/>
<line x1="42.20" y1="171.40" x2="48.20" y2="171.40" stroke="#000" stroke-width="1.3" stroke-linecap="butt"/>
<line x1="147.60" y1="171.40" x2="158.60" y2="171.40" stroke="#000" stroke-width="1.3" stroke-linecap="butt"/>
<line x1="42.20" y1="157.94" x2="45.20" y2="157.94" stroke="#000" stroke-width="1.3" stroke-linecap="butt"/>
<line x1="150.60" y1="157.94" x2="156.60" y2="157.94" stroke="#000" stroke-width="1.3" stroke-linecap="butt"/>
<line x1="42.20" y1="144.48" x2="48.20" y2="144.48" stroke="#000" stroke-width="1.3" stroke-linecap="butt"/>
<line x1="147.60" y1="144.48" x2="158.60" y2="144.48" stroke="#000" stroke-width="1.3" stroke-linecap="butt"/>
<line x1="42.20" y1="131.02" x2="45.20" y2="131.02" stroke="#000" stroke-width="1.3" stroke-linecap="butt"/>
<line x1="150.60" y1="131.02" x2="156.60" y2="131.02" stroke="#000" stroke-width="1.3" stroke-linecap="butt"/>
<line x1="42.20" y1="117.56" x2="48.20" y2="117.56" stroke="#000" stroke-width="1.3" stroke-linecap="butt"/>
<line x1="147.60" y1="117.56" x2="158.60" y2="117.56" stroke="#000" stroke-width="1.3" stroke-linecap="butt"/>
<line x1="42.20" y1="104.10" x2="45.20" y2="104.10" stroke="#000" stroke-width="1.3" stroke-linecap="butt"/>
<line x1="150.60" y1="104.10" x2="156.60" y2="104.10" stroke="#000" stroke-width="1.3" stroke-linecap="butt"/>
<line x1="42.20" y1="90.64" x2="48.20" y2="90.64" stroke="#000" stroke-width="1.3" stroke-linecap="butt"/>
<line x1="147.60" y1="90.64" x2="158.60" y2="90.64" stroke="#000" stroke-width="1.3" stroke-linecap="butt"/>
<line x1="42.20" y1="77.18" x2="45.20" y2="77.18" stroke="#000" stroke-width="1.3" stroke-linecap="butt"/>
<line x1="150.60" y1="77.18" x2="156.60" y2="77.18" stroke="#000" stroke-width="1.3" stroke-linecap="butt"/>
<line x1="42.20" y1="63.72" x2="48.20" y2="63.72" stroke="#000" stroke-width="1.3" stroke-linecap="butt"/>
<line x1="147.60" y1="63.72" x2="158.60" y2="63.72" stroke="#000" stroke-width="1.3" stroke-linecap="butt"/>
<line x1="42.20" y1="50.26" x2="45.20" y2="50.26" stroke="#000" stroke-width="1.3" stroke-linecap="butt"/>
<line x1="150.60" y1="50.26" x2="156.60" y2="50.26" stroke="#000" stroke-width="1.3" stroke-linecap="butt"/>
<line x1="51.48" y1="306.00" x2="51.48" y2="302.00" stroke="#000" stroke-width="1.3" stroke-linecap="butt"/>
<line x1="60.77" y1="306.00" x2="60.77" y2="298.00" stroke="#000" stroke-width="1.3" stroke-linecap="butt"/>
<line x1="70.05" y1="306.00" x2="70.05" y2="302.00" stroke="#000" stroke-width="1.3" stroke-linecap="butt"/>
<line x1="79.33" y1="306.00" x2="79.33" y2="298.00" stroke="#000" stroke-width="1.3" stroke-linecap="butt"/>
<line x1="88.62" y1="306.00" x2="88.62" y2="302.00" stroke="#000" stroke-width="1.3" stroke-linecap="butt"/>
<line x1="97.90" y1="306.00" x2="97.90" y2="298.00" stroke="#000" stroke-width="1.3" stroke-linecap="butt"/>
<line x1="107.18" y1="306.00" x2="107.18" y2="302.00" stroke="#000" stroke-width="1.3" stroke-linecap="butt"/>
<line x1="116.47" y1="306.00" x2="116.47" y2="298.00" stroke="#000" stroke-width="1.3" stroke-linecap="butt"/>
<line x1="125.75" y1="306.00" x2="125.75" y2="302.00" stroke="#000" stroke-width="1.3" stroke-linecap="butt"/>
<line x1="135.03" y1="306.00" x2="135.03" y2="298.00" stroke="#000" stroke-width="1.3" stroke-linecap="butt"/>
<line x1="144.32" y1="306.00" x2="144.32" y2="302.00" stroke="#000" stroke-width="1.3" stroke-linecap="butt"/>
<line x1="51.48" y1="36.80" x2="51.48" y2="39.80" stroke="#000" stroke-width="1.3" stroke-linecap="butt"/>
<line x1="60.77" y1="36.80" x2="60.77" y2="42.80" stroke="#000" stroke-width="1.3" stroke-linecap="butt"/>
<line x1="70.05" y1="36.80" x2="70.05" y2="39.80" stroke="#000" stroke-width="1.3" stroke-linecap="butt"/>
<line x1="79.33" y1="36.80" x2="79.33" y2="42.80" stroke="#000" stroke-width="1.3" stroke-linecap="butt"/>
<line x1="88.62" y1="36.80" x2="88.62" y2="39.80" stroke="#000" stroke-width="1.3" stroke-linecap="butt"/>
<line x1="97.90" y1="36.80" x2="97.90" y2="42.80" stroke="#000" stroke-width="1.3" stroke-linecap="butt"/>
<line x1="107.18" y1="36.80" x2="107.18" y2="39.80" stroke="#000" stroke-width="1.3" stroke-linecap="butt"/>
<line x1="116.47" y1="36.80" x2="116.47" y2="42.80" stroke="#000" stroke-width="1.3" stroke-linecap="butt"/>
<line x1="125.75" y1="36.80" x2="125.75" y2="39.80" stroke="#000" stroke-width="1.3" stroke-linecap="butt"/>
<line x1="135.03" y1="36.80" x2="135.03" y2="42.80" stroke="#000" stroke-width="1.3" stroke-linecap="butt"/>
<line x1="144.32" y1="36.80" x2="144.32" y2="39.80" stroke="#000" stroke-width="1.3" stroke-linecap="butt"/>
<text x="38.20" y="310.20" font-family='"Liberation Serif", serif' font-size="12.5" text-anchor="end" fill="#222">0</text>
<text x="38.20" y="283.28" font-family='"Liberation Serif", serif' font-size="12.5" text-anchor="end" fill="#222">1</text>
<text x="38.20" y="256.36" font-family='"Liberation Serif", serif' font-size="12.5" text-anchor="end" fill="#222">2</text>
<text x="38.20" y="229.44" font-family='"Liberation Serif", serif' font-size="12.5" text-anchor="end" fill="#222">3</text>
<text x="38.20" y="202.52" font-family='"Liberation Serif", serif' font-size="12.5" text-anchor="end" fill="#222">4</text>
<text x="38.20" y="175.60" font-family='"Liberation Serif", serif' font-size="12.5" text-anchor="end" fill="#222">5</text>
<text x="38.20" y="148.68" font-family='"Liberation Serif", serif' font-size="12.5" text-anchor="end" fill="#222">6</text>
<text x="38.20" y="121.76" font-family='"Liberation Serif", serif' font-size="12.5" text-anchor="end" fill="#222">7</text>
<text x="38.20" y="94.84" font-family='"Liberation Serif", serif' font-size="12.5" text-anchor="end" fill="#222">8</text>
<text x="38.20" y="67.92" font-family='"Liberation Serif", serif' font-size="12.5" text-anchor="end" fill="#222">9</text>
<text x="39.00" y="41.00" font-family='"Liberation Serif", serif' font-size="12.5" text-anchor="end" fill="#222">10</text>
<text x="42.20" y="317.50" font-family='"Liberation Serif", serif' font-size="11.5" text-anchor="middle" fill="#222">0</text>
<text x="60.77" y="317.50" font-family='"Liberation Serif", serif' font-size="11.5" text-anchor="middle" fill="#222">5</text>
<text x="79.33" y="317.50" font-family='"Liberation Serif", serif' font-size="11.5" text-anchor="middle" fill="#222">10</text>
<text x="97.90" y="317.50" font-family='"Liberation Serif", serif' font-size="11.5" text-anchor="middle" fill="#222">15</text>
<text x="116.47" y="317.50" font-family='"Liberation Serif", serif' font-size="11.5" text-anchor="middle" fill="#222">20</text>
<text x="135.03" y="317.50" font-family='"Liberation Serif", serif' font-size="11.5" text-anchor="middle" fill="#222">25</text>
<text x="153.60" y="317.50" font-family='"Liberation Serif", serif' font-size="11.5" text-anchor="middle" fill="#222">30</text>
<text x="42.20" y="32.20" font-family='"Liberation Serif", serif' font-size="12.5" text-anchor="middle" fill="#222">10</text>
<text x="60.77" y="32.20" font-family='"Liberation Serif", serif' font-size="12.5" text-anchor="middle" fill="#222">20</text>
<text x="79.33" y="32.20" font-family='"Liberation Serif", serif' font-size="12.5" text-anchor="middle" fill="#222">30</text>
<text x="97.90" y="32.20" font-family='"Liberation Serif", serif' font-size="12.5" text-anchor="middle" fill="#222">40</text>
<text x="116.47" y="32.20" font-family='"Liberation Serif", serif' font-size="12.5" text-anchor="middle" fill="#222">50</text>
<text x="135.03" y="32.20" font-family='"Liberation Serif", serif' font-size="12.5" text-anchor="middle" fill="#222">60</text>
<text x="153.60" y="32.20" font-family='"Liberation Serif", serif' font-size="12.5" text-anchor="middle" fill="#222">70</text>
<line x1="88.60" y1="233.60" x2="103.70" y2="233.60" stroke="#000" stroke-width="1.8" stroke-linecap="butt"/>
<text x="114.80" y="237.90" font-family='"Liberation Serif", serif' font-size="13" text-anchor="start" fill="#222" textLength="23" lengthAdjust="spacingAndGlyphs">m=1</text>
<line x1="88.60" y1="249.70" x2="103.70" y2="249.70" stroke="#e0141e" stroke-width="1.8" stroke-linecap="butt"/>
<text x="114.80" y="254.00" font-family='"Liberation Serif", serif' font-size="13" text-anchor="start" fill="#222" textLength="23" lengthAdjust="spacingAndGlyphs">m=2</text>
<line x1="88.60" y1="266.50" x2="103.70" y2="266.50" stroke="#20e020" stroke-width="1.8" stroke-linecap="butt"/>
<text x="114.80" y="270.80" font-family='"Liberation Serif", serif' font-size="13" text-anchor="start" fill="#222" textLength="23" lengthAdjust="spacingAndGlyphs">m=3</text>
<line x1="88.60" y1="282.40" x2="103.70" y2="282.40" stroke="#40d0d0" stroke-width="1.8" stroke-linecap="butt"/>
<text x="114.80" y="286.70" font-family='"Liberation Serif", serif' font-size="13" text-anchor="start" fill="#222" textLength="23" lengthAdjust="spacingAndGlyphs">m=4</text>
<text x="73.00" y="15.20" font-family='"Liberation Serif", serif' font-size="20" text-anchor="start" fill="#000" textLength="50" lengthAdjust="spacingAndGlyphs">Angle</text>
<text x="45.00" y="335.00" font-family='"Liberation Serif", serif' font-size="18" text-anchor="start" fill="#000" textLength="105.4" lengthAdjust="spacingAndGlyphs">Reflectance %</text>
<text x="3.30" y="50.00" font-family='"Liberation Sans", sans-serif' font-size="18.5" text-anchor="start" fill="#454545" font-weight="bold" textLength="18.8" lengthAdjust="spacingAndGlyphs">(a)</text>
<text transform="translate(15.8,258.5) rotate(-90)" font-family='"Liberation Sans", sans-serif' font-size="18.5" textLength="187" lengthAdjust="spacingAndGlyphs">Frequency (x 10<tspan dy="-6" font-size="12">14</tspan><tspan dy="6"> Hz)</tspan></text>
<line x1="295.50" y1="36.80" x2="295.50" y2="306.00" stroke="#000" stroke-width="1.6" stroke-linecap="butt"/>
<line x1="153.60" y1="306.00" x2="437.00" y2="306.00" stroke="#000" stroke-width="1.6" stroke-linecap="butt"/>
<line x1="437.00" y1="36.80" x2="437.00" y2="306.00" stroke="#000" stroke-width="1.6" stroke-linecap="butt"/>
<line x1="432.00" y1="292.54" x2="437.00" y2="292.54" stroke="#000" stroke-width="1.2" stroke-linecap="butt"/>
<line x1="432.00" y1="279.08" x2="437.00" y2="279.08" stroke="#000" stroke-width="1.2" stroke-linecap="butt"/>
<line x1="432.00" y1="265.62" x2="437.00" y2="265.62" stroke="#000" stroke-width="1.2" stroke-linecap="butt"/>
<line x1="432.00" y1="252.16" x2="437.00" y2="252.16" stroke="#000" stroke-width="1.2" stroke-linecap="butt"/>
<line x1="432.00" y1="238.70" x2="437.00" y2="238.70" stroke="#000" stroke-width="1.2" stroke-linecap="butt"/>
<line x1="432.00" y1="225.24" x2="437.00" y2="225.24" stroke="#000" stroke-width="1.2" stroke-linecap="butt"/>
<line x1="432.00" y1="211.78" x2="437.00" y2="211.78" stroke="#000" stroke-width="1.2" stroke-linecap="butt"/>
<line x1="432.00" y1="198.32" x2="437.00" y2="198.32" stroke="#000" stroke-width="1.2" stroke-linecap="butt"/>
<line x1="432.00" y1="184.86" x2="437.00" y2="184.86" stroke="#000" stroke-width="1.2" stroke-linecap="butt"/>
<line x1="432.00" y1="171.40" x2="437.00" y2="171.40" stroke="#000" stroke-width="1.2" stroke-linecap="butt"/>
<line x1="432.00" y1="157.94" x2="437.00" y2="157.94" stroke="#000" stroke-width="1.2" stroke-linecap="butt"/>
<line x1="432.00" y1="144.48" x2="437.00" y2="144.48" stroke="#000" stroke-width="1.2" stroke-linecap="butt"/>
<line x1="432.00" y1="131.02" x2="437.00" y2="131.02" stroke="#000" stroke-width="1.2" stroke-linecap="butt"/>
<line x1="432.00" y1="117.56" x2="437.00" y2="117.56" stroke="#000" stroke-width="1.2" stroke-linecap="butt"/>
<line x1="432.00" y1="104.10" x2="437.00" y2="104.10" stroke="#000" stroke-width="1.2" stroke-linecap="butt"/>
<line x1="432.00" y1="90.64" x2="437.00" y2="90.64" stroke="#000" stroke-width="1.2" stroke-linecap="butt"/>
<line x1="432.00" y1="77.18" x2="437.00" y2="77.18" stroke="#000" stroke-width="1.2" stroke-linecap="butt"/>
<line x1="432.00" y1="63.72" x2="437.00" y2="63.72" stroke="#000" stroke-width="1.2" stroke-linecap="butt"/>
<line x1="432.00" y1="50.26" x2="437.00" y2="50.26" stroke="#000" stroke-width="1.2" stroke-linecap="butt"/>
<clipPath id="cb"><rect x="153.6" y="36.8" width="283.4" height="269.2"/></clipPath>
<g clip-path="url(#cb)">
<polyline points="295.50,306.00 295.28,305.93 295.07,305.86 294.85,305.79 294.63,305.73 294.42,305.66 294.20,305.59 293.98,305.52 293.77,305.45 293.55,305.38 293.33,305.31 293.12,305.24 292.90,305.18 292.68,305.11 292.47,305.04 292.25,304.97 292.03,304.90 291.82,304.83 291.60,304.76 291.38,304.70 291.17,304.63 290.95,304.56 290.73,304.49 290.52,304.42 290.30,304.35 290.08,304.28 289.87,304.22 289.65,304.15 289.43,304.08 289.22,304.01 289.00,303.94 288.78,303.87 288.57,303.80 288.35,303.73 288.13,303.67 287.92,303.60 287.70,303.53 287.48,303.46 287.27,303.39 287.05,303.32 286.83,303.25 286.62,303.19 286.40,303.12 286.18,303.05 285.97,302.98 285.75,302.91 285.53,302.84 285.32,302.77 285.10,302.70 284.88,302.64 284.67,302.57 284.45,302.50 284.23,302.43 284.02,302.36 283.80,302.29 283.58,302.22 283.37,302.16 283.15,302.09 282.93,302.02 282.72,301.95 282.50,301.88 282.28,301.81 282.07,301.74 281.85,301.68 281.63,301.61 281.42,301.54 281.20,301.47 280.98,301.40 280.77,301.33 280.55,301.26 280.33,301.19 280.12,301.13 279.90,301.06 279.68,300.99 279.47,300.92 279.25,300.85 279.03,300.78 278.82,300.71 278.60,300.65 278.38,300.58 278.17,300.51 277.95,300.44 277.73,300.37 277.52,300.30 277.30,300.23 277.08,300.17 276.87,300.10 276.65,300.03 276.43,299.96 276.22,299.89 276.00,299.82 275.78,299.75 275.57,299.68 275.35,299.62 275.13,299.55 274.92,299.48 274.70,299.41 274.48,299.34 274.27,299.27 274.05,299.20 273.83,299.14 273.62,299.07 273.40,299.00 273.18,298.93 272.97,298.86 272.75,298.79 272.53,298.72 272.32,298.65 272.10,298.59 271.88,298.52 271.67,298.45 271.45,298.38 271.23,298.31 271.02,298.24 270.80,298.17 270.58,298.11 270.37,298.04 270.15,297.97 269.96,297.90 269.74,297.83 269.53,297.76 269.31,297.69 269.09,297.63 268.88,297.56 268.66,297.49 268.44,297.42 268.23,297.35 268.01,297.28 267.79,297.21 267.57,297.14 267.36,297.08 267.14,297.01 266.92,296.94 266.71,296.87 266.49,296.80 266.27,296.73 266.06,296.66 265.84,296.60 265.62,296.53 265.41,296.46 265.19,296.39 264.97,296.32 264.75,296.25 264.54,296.18 264.32,296.11 264.10,296.05 263.89,295.98 263.67,295.91 263.45,295.84 263.24,295.77 263.02,295.70 262.80,295.63 262.59,295.57 262.37,295.50 262.15,295.43 261.94,295.36 261.72,295.29 261.50,295.22 261.28,295.15 261.07,295.09 260.85,295.02 260.63,294.95 260.42,294.88 260.20,294.81 259.98,294.74 259.77,294.67 259.55,294.60 259.33,294.54 259.12,294.47 258.90,294.40 258.68,294.33 258.47,294.26 258.25,294.19 258.03,294.12 257.82,294.06 257.60,293.99 257.38,293.92 257.16,293.85 256.95,293.78 256.73,293.71 256.51,293.64 256.30,293.58 256.08,293.51 255.86,293.44 255.65,293.37 255.43,293.30 255.21,293.23 255.00,293.16 254.78,293.09 254.56,293.03 254.35,292.96 254.13,292.89 253.91,292.82 253.70,292.75 253.48,292.68 253.26,292.61 253.05,292.55 252.83,292.48 252.61,292.41 252.39,292.34 252.18,292.27 251.96,292.20 251.74,292.13 251.53,292.06 251.31,292.00 251.09,291.93 250.88,291.86 250.66,291.79 250.44,291.72 250.23,291.65 250.01,291.58 249.79,291.52 249.58,291.45 249.36,291.38 249.14,291.31 248.93,291.24 248.71,291.17 248.49,291.10 248.28,291.04 248.06,290.97 247.84,290.90 247.63,290.83 247.41,290.76 247.19,290.69 246.98,290.62 246.76,290.55 246.54,290.49 246.32,290.42 246.11,290.35 245.89,290.28 245.67,290.21 245.46,290.14 245.24,290.07 245.02,290.01 244.81,289.94 244.59,289.87 244.37,289.80 244.16,289.73 243.94,289.66 243.72,289.59 243.51,289.52 243.29,289.46 243.07,289.39 242.86,289.32 242.64,289.25 242.42,289.18 242.21,289.11 241.99,289.04 241.77,288.98 241.56,288.91 241.34,288.84 241.12,288.77 240.91,288.70 240.69,288.63 240.47,288.56 240.25,288.50 240.04,288.43 239.82,288.36 239.60,288.29 239.39,288.22 239.17,288.15 238.95,288.08 238.74,288.01 238.52,287.95 238.30,287.88 238.09,287.81 237.87,287.74 237.65,287.67 237.44,287.60 237.22,287.53 237.00,287.47 236.79,287.40 236.57,287.33 236.35,287.26 236.14,287.19 235.92,287.12 235.70,287.05 235.49,286.99 235.27,286.92 235.05,286.85 234.84,286.78 234.62,286.71 234.40,286.64 234.19,286.57 233.97,286.50 233.75,286.44 233.54,286.37 233.32,286.30 233.10,286.23 232.88,286.16 232.67,286.09 232.45,286.02 232.23,285.96 232.02,285.89 231.80,285.82 231.58,285.75 231.37,285.68 231.15,285.61 230.93,285.54 230.72,285.47 230.50,285.41 230.28,285.34 230.07,285.27 229.85,285.20 229.63,285.13 229.42,285.06 229.20,284.99 228.98,284.93 228.77,284.86 228.55,284.79 228.33,284.72 228.12,284.65 227.90,284.58 227.68,284.51 227.47,284.45 227.25,284.38 227.03,284.31 226.82,284.24 226.60,284.17 226.38,284.10 226.17,284.03 225.95,283.96 225.73,283.90 225.51,283.83 225.30,283.76 225.08,283.69 224.86,283.62 224.65,283.55 224.43,283.48 224.21,283.42 224.00,283.35 223.78,283.28 223.56,283.21 223.35,283.14 223.13,283.07 222.91,283.00 222.70,282.93 222.48,282.87 222.26,282.80 222.05,282.73 221.83,282.66 221.61,282.59 221.40,282.52 221.18,282.45 220.96,282.39 220.75,282.32 220.53,282.25 220.31,282.18 220.10,282.11 219.88,282.04 219.66,281.97 219.45,281.91 219.23,281.84 219.01,281.77 218.80,281.70 218.58,281.63 218.36,281.56 218.14,281.49 217.93,281.42 217.71,281.36 217.49,281.29 217.28,281.22 217.06,281.15 216.84,281.08 216.63,281.01 216.41,280.94 216.19,280.88 215.98,280.81 215.76,280.74 215.54,280.67 215.33,280.60 215.11,280.53 214.89,280.46 214.68,280.40 214.46,280.33 214.24,280.26 214.03,280.19 213.81,280.12 213.59,280.05 213.38,279.98 213.16,279.91 212.94,279.85 212.73,279.78 212.51,279.71 212.29,279.64 212.08,279.57 211.86,279.50 211.64,279.43 211.43,279.37 211.21,279.30 210.99,279.23 210.77,279.16 210.56,279.09 210.34,279.02 210.12,278.95 209.91,278.88 209.69,278.82 209.47,278.75 209.26,278.68 209.04,278.61 208.82,278.54 208.61,278.47 208.39,278.40 208.17,278.34 207.96,278.27 207.74,278.20 207.52,278.13 207.31,278.06 207.09,277.99 206.87,277.92 206.66,277.86 206.44,277.79 206.22,277.72 206.01,277.65 205.79,277.58 205.57,277.51 205.36,277.44 205.14,277.37 204.92,277.31 204.71,277.24 204.49,277.17 204.27,277.10 204.05,277.03 203.84,276.96 203.62,276.89 203.40,276.83 203.19,276.76 202.97,276.69 202.75,276.62 202.54,276.55 202.32,276.48 202.10,276.41 201.89,276.34 201.67,276.28 201.45,276.21 201.24,276.14 201.02,276.07 200.80,276.00 200.59,275.93 200.37,275.86 200.15,275.80 199.94,275.73 199.72,275.66 199.50,275.59 199.29,275.52 199.07,275.45 198.85,275.38 198.64,275.32 198.42,275.25 198.20,275.18 197.98,275.11 197.77,275.04 197.55,274.97 197.33,274.90 197.12,274.83 196.90,274.77 196.68,274.70 196.47,274.63 196.25,274.56 196.03,274.49 195.82,274.42 195.60,274.35 195.38,274.29 195.17,274.22 194.95,274.15 194.73,274.08 194.52,274.01 194.30,273.94 194.08,273.87 193.87,273.81 193.65,273.74 193.43,273.67 193.21,273.60 193.00,273.53 192.78,273.46 192.56,273.39 192.35,273.32 192.13,273.26 191.91,273.19 191.70,273.12 191.48,273.05 191.26,272.98 191.05,272.91 190.83,272.84 190.61,272.78 190.40,272.71 190.18,272.64 189.96,272.57 189.75,272.50 189.53,272.43 189.31,272.36 189.09,272.29 188.88,272.23 188.66,272.16 188.44,272.09 188.23,272.02 188.01,271.95 187.79,271.88 187.58,271.81 187.36,271.75 187.14,271.68 186.93,271.61 186.71,271.54 186.49,271.47 186.28,271.40 186.06,271.33 185.84,271.27 185.63,271.20 185.41,271.13 185.19,271.06 184.97,270.99 184.76,270.92 184.54,270.85 184.32,270.78 184.11,270.72 183.89,270.65 183.67,270.58 183.46,270.51 183.24,270.44 183.02,270.37 182.81,270.30 182.59,270.24 182.37,270.17 182.15,270.10 181.94,270.03 181.72,269.96 181.50,269.89 181.29,269.82 181.07,269.75 180.85,269.69 180.64,269.62 180.42,269.55 180.20,269.48 179.99,269.41 179.77,269.34 179.55,269.27 179.33,269.21 179.12,269.14 178.90,269.07 178.68,269.00 178.47,268.93 178.25,268.86 178.03,268.79 177.82,268.73 177.60,268.66 177.38,268.59 177.16,268.52 176.95,268.45 176.73,268.38 176.51,268.31 176.30,268.24 176.08,268.18 175.86,268.11 175.65,268.04 175.43,267.97 175.21,267.90 174.99,267.83 174.78,267.76 174.56,267.70 174.34,267.63 174.13,267.56 173.91,267.49 173.69,267.42 173.47,267.35 173.26,267.28 173.04,267.22 172.82,267.15 172.61,267.08 172.39,267.01 172.17,266.94 171.95,266.87 171.74,266.80 171.52,266.73 171.30,266.67 171.08,266.60 170.87,266.53 170.65,266.46 170.43,266.39 170.22,266.32 170.00,266.25 169.78,266.19 169.56,266.12 169.35,266.05 169.13,265.98 168.91,265.91 168.69,265.84 168.48,265.77 168.26,265.70 168.04,265.64 167.82,265.57 167.61,265.50 167.39,265.43 167.17,265.36 166.95,265.29 166.73,265.22 166.52,265.16 166.30,265.09 166.08,265.02 165.86,264.95 165.65,264.88 165.43,264.81 165.21,264.74 164.99,264.68 164.77,264.61 164.56,264.54 164.34,264.47 164.12,264.40 163.90,264.33 163.68,264.26 163.46,264.19 163.24,264.13 163.03,264.06 162.81,263.99 162.59,263.92 162.37,263.85 162.15,263.78 161.93,263.71 161.71,263.65 161.49,263.58 161.27,263.51 161.05,263.44 160.83,263.37 160.61,263.30 160.39,263.23 160.17,263.16 159.95,263.10 159.73,263.03 159.51,262.96 159.29,262.89 159.06,262.82 158.84,262.75 158.62,262.68 158.39,262.62 158.17,262.55 157.94,262.48 157.72,262.41 157.49,262.34 157.26,262.27 157.03,262.20 156.80,262.14 156.56,262.07 156.32,262.00 156.08,261.93 155.84,261.86 155.58,261.79 155.32,261.72 155.04,261.65 154.73,261.59 154.36,261.52 153.60,261.48" fill="none" stroke="#e020e0" stroke-width="1.5" stroke-linejoin="round"/>
</g>
<g clip-path="url(#cb)">
<polyline points="295.50,306.00 295.72,305.93 295.93,305.86 296.15,305.79 296.37,305.73 296.58,305.66 296.80,305.59 297.02,305.52 297.23,305.45 297.45,305.38 297.67,305.31 297.88,305.24 298.10,305.18 298.32,305.11 298.53,305.04 298.75,304.97 298.97,304.90 299.18,304.83 299.40,304.76 299.62,304.70 299.83,304.63 300.05,304.56 300.27,304.49 300.48,304.42 300.70,304.35 300.92,304.28 301.13,304.22 301.35,304.15 301.57,304.08 301.78,304.01 302.00,303.94 302.22,303.87 302.43,303.80 302.65,303.73 302.87,303.67 303.08,303.60 303.30,303.53 303.52,303.46 303.73,303.39 303.95,303.32 304.17,303.25 304.38,303.19 304.60,303.12 304.82,303.05 305.03,302.98 305.25,302.91 305.47,302.84 305.68,302.77 305.90,302.70 306.12,302.64 306.33,302.57 306.55,302.50 306.77,302.43 306.98,302.36 307.20,302.29 307.42,302.22 307.63,302.16 307.85,302.09 308.07,302.02 308.28,301.95 308.50,301.88 308.72,301.81 308.93,301.74 309.15,301.68 309.37,301.61 309.58,301.54 309.80,301.47 310.02,301.40 310.23,301.33 310.45,301.26 310.67,301.19 310.88,301.13 311.10,301.06 311.32,300.99 311.53,300.92 311.75,300.85 311.97,300.78 312.18,300.71 312.40,300.65 312.62,300.58 312.83,300.51 313.05,300.44 313.27,300.37 313.48,300.30 313.70,300.23 313.92,300.17 314.13,300.10 314.35,300.03 314.57,299.96 314.78,299.89 315.00,299.82 315.22,299.75 315.43,299.68 315.65,299.62 315.87,299.55 316.08,299.48 316.30,299.41 316.52,299.34 316.73,299.27 316.95,299.20 317.17,299.14 317.38,299.07 317.60,299.00 317.82,298.93 318.03,298.86 318.25,298.79 318.47,298.72 318.68,298.65 318.90,298.59 319.12,298.52 319.33,298.45 319.55,298.38 319.77,298.31 319.98,298.24 320.20,298.17 320.42,298.11 320.63,298.04 320.85,297.97 321.04,297.90 321.26,297.83 321.47,297.76 321.69,297.69 321.91,297.63 322.12,297.56 322.34,297.49 322.56,297.42 322.77,297.35 322.99,297.28 323.21,297.21 323.43,297.14 323.64,297.08 323.86,297.01 324.08,296.94 324.29,296.87 324.51,296.80 324.73,296.73 324.94,296.66 325.16,296.60 325.38,296.53 325.59,296.46 325.81,296.39 326.03,296.32 326.25,296.25 326.46,296.18 326.68,296.11 326.90,296.05 327.11,295.98 327.33,295.91 327.55,295.84 327.76,295.77 327.98,295.70 328.20,295.63 328.41,295.57 328.63,295.50 328.85,295.43 329.06,295.36 329.28,295.29 329.50,295.22 329.72,295.15 329.93,295.09 330.15,295.02 330.37,294.95 330.58,294.88 330.80,294.81 331.02,294.74 331.23,294.67 331.45,294.60 331.67,294.54 331.88,294.47 332.10,294.40 332.32,294.33 332.53,294.26 332.75,294.19 332.97,294.12 333.18,294.06 333.40,293.99 333.62,293.92 333.84,293.85 334.05,293.78 334.27,293.71 334.49,293.64 334.70,293.58 334.92,293.51 335.14,293.44 335.35,293.37 335.57,293.30 335.79,293.23 336.00,293.16 336.22,293.09 336.44,293.03 336.65,292.96 336.87,292.89 337.09,292.82 337.30,292.75 337.52,292.68 337.74,292.61 337.95,292.55 338.17,292.48 338.39,292.41 338.61,292.34 338.82,292.27 339.04,292.20 339.26,292.13 339.47,292.06 339.69,292.00 339.91,291.93 340.12,291.86 340.34,291.79 340.56,291.72 340.77,291.65 340.99,291.58 341.21,291.52 341.42,291.45 341.64,291.38 341.86,291.31 342.07,291.24 342.29,291.17 342.51,291.10 342.72,291.04 342.94,290.97 343.16,290.90 343.37,290.83 343.59,290.76 343.81,290.69 344.02,290.62 344.24,290.55 344.46,290.49 344.68,290.42 344.89,290.35 345.11,290.28 345.33,290.21 345.54,290.14 345.76,290.07 345.98,290.01 346.19,289.94 346.41,289.87 346.63,289.80 346.84,289.73 347.06,289.66 347.28,289.59 347.49,289.52 347.71,289.46 347.93,289.39 348.14,289.32 348.36,289.25 348.58,289.18 348.79,289.11 349.01,289.04 349.23,288.98 349.44,288.91 349.66,288.84 349.88,288.77 350.09,288.70 350.31,288.63 350.53,288.56 350.75,288.50 350.96,288.43 351.18,288.36 351.40,288.29 351.61,288.22 351.83,288.15 352.05,288.08 352.26,288.01 352.48,287.95 352.70,287.88 352.91,287.81 353.13,287.74 353.35,287.67 353.56,287.60 353.78,287.53 354.00,287.47 354.21,287.40 354.43,287.33 354.65,287.26 354.86,287.19 355.08,287.12 355.30,287.05 355.51,286.99 355.73,286.92 355.95,286.85 356.16,286.78 356.38,286.71 356.60,286.64 356.81,286.57 357.03,286.50 357.25,286.44 357.46,286.37 357.68,286.30 357.90,286.23 358.12,286.16 358.33,286.09 358.55,286.02 358.77,285.96 358.98,285.89 359.20,285.82 359.42,285.75 359.63,285.68 359.85,285.61 360.07,285.54 360.28,285.47 360.50,285.41 360.72,285.34 360.93,285.27 361.15,285.20 361.37,285.13 361.58,285.06 361.80,284.99 362.02,284.93 362.23,284.86 362.45,284.79 362.67,284.72 362.88,284.65 363.10,284.58 363.32,284.51 363.53,284.45 363.75,284.38 363.97,284.31 364.18,284.24 364.40,284.17 364.62,284.10 364.83,284.03 365.05,283.96 365.27,283.90 365.49,283.83 365.70,283.76 365.92,283.69 366.14,283.62 366.35,283.55 366.57,283.48 366.79,283.42 367.00,283.35 367.22,283.28 367.44,283.21 367.65,283.14 367.87,283.07 368.09,283.00 368.30,282.93 368.52,282.87 368.74,282.80 368.95,282.73 369.17,282.66 369.39,282.59 369.60,282.52 369.82,282.45 370.04,282.39 370.25,282.32 370.47,282.25 370.69,282.18 370.90,282.11 371.12,282.04 371.34,281.97 371.55,281.91 371.77,281.84 371.99,281.77 372.20,281.70 372.42,281.63 372.64,281.56 372.86,281.49 373.07,281.42 373.29,281.36 373.51,281.29 373.72,281.22 373.94,281.15 374.16,281.08 374.37,281.01 374.59,280.94 374.81,280.88 375.02,280.81 375.24,280.74 375.46,280.67 375.67,280.60 375.89,280.53 376.11,280.46 376.32,280.40 376.54,280.33 376.76,280.26 376.97,280.19 377.19,280.12 377.41,280.05 377.62,279.98 377.84,279.91 378.06,279.85 378.27,279.78 378.49,279.71 378.71,279.64 378.92,279.57 379.14,279.50 379.36,279.43 379.57,279.37 379.79,279.30 380.01,279.23 380.23,279.16 380.44,279.09 380.66,279.02 380.88,278.95 381.09,278.88 381.31,278.82 381.53,278.75 381.74,278.68 381.96,278.61 382.18,278.54 382.39,278.47 382.61,278.40 382.83,278.34 383.04,278.27 383.26,278.20 383.48,278.13 383.69,278.06 383.91,277.99 384.13,277.92 384.34,277.86 384.56,277.79 384.78,277.72 384.99,277.65 385.21,277.58 385.43,277.51 385.64,277.44 385.86,277.37 386.08,277.31 386.29,277.24 386.51,277.17 386.73,277.10 386.95,277.03 387.16,276.96 387.38,276.89 387.60,276.83 387.81,276.76 388.03,276.69 388.25,276.62 388.46,276.55 388.68,276.48 388.90,276.41 389.11,276.34 389.33,276.28 389.55,276.21 389.76,276.14 389.98,276.07 390.20,276.00 390.41,275.93 390.63,275.86 390.85,275.80 391.06,275.73 391.28,275.66 391.50,275.59 391.71,275.52 391.93,275.45 392.15,275.38 392.36,275.32 392.58,275.25 392.80,275.18 393.02,275.11 393.23,275.04 393.45,274.97 393.67,274.90 393.88,274.83 394.10,274.77 394.32,274.70 394.53,274.63 394.75,274.56 394.97,274.49 395.18,274.42 395.40,274.35 395.62,274.29 395.83,274.22 396.05,274.15 396.27,274.08 396.48,274.01 396.70,273.94 396.92,273.87 397.13,273.81 397.35,273.74 397.57,273.67 397.79,273.60 398.00,273.53 398.22,273.46 398.44,273.39 398.65,273.32 398.87,273.26 399.09,273.19 399.30,273.12 399.52,273.05 399.74,272.98 399.95,272.91 400.17,272.84 400.39,272.78 400.60,272.71 400.82,272.64 401.04,272.57 401.25,272.50 401.47,272.43 401.69,272.36 401.91,272.29 402.12,272.23 402.34,272.16 402.56,272.09 402.77,272.02 402.99,271.95 403.21,271.88 403.42,271.81 403.64,271.75 403.86,271.68 404.07,271.61 404.29,271.54 404.51,271.47 404.72,271.40 404.94,271.33 405.16,271.27 405.37,271.20 405.59,271.13 405.81,271.06 406.03,270.99 406.24,270.92 406.46,270.85 406.68,270.78 406.89,270.72 407.11,270.65 407.33,270.58 407.54,270.51 407.76,270.44 407.98,270.37 408.19,270.30 408.41,270.24 408.63,270.17 408.85,270.10 409.06,270.03 409.28,269.96 409.50,269.89 409.71,269.82 409.93,269.75 410.15,269.69 410.36,269.62 410.58,269.55 410.80,269.48 411.01,269.41 411.23,269.34 411.45,269.27 411.67,269.21 411.88,269.14 412.10,269.07 412.32,269.00 412.53,268.93 412.75,268.86 412.97,268.79 413.18,268.73 413.40,268.66 413.62,268.59 413.84,268.52 414.05,268.45 414.27,268.38 414.49,268.31 414.70,268.24 414.92,268.18 415.14,268.11 415.35,268.04 415.57,267.97 415.79,267.90 416.01,267.83 416.22,267.76 416.44,267.70 416.66,267.63 416.87,267.56 417.09,267.49 417.31,267.42 417.53,267.35 417.74,267.28 417.96,267.22 418.18,267.15 418.39,267.08 418.61,267.01 418.83,266.94 419.05,266.87 419.26,266.80 419.48,266.73 419.70,266.67 419.92,266.60 420.13,266.53 420.35,266.46 420.57,266.39 420.78,266.32 421.00,266.25 421.22,266.19 421.44,266.12 421.65,266.05 421.87,265.98 422.09,265.91 422.31,265.84 422.52,265.77 422.74,265.70 422.96,265.64 423.18,265.57 423.39,265.50 423.61,265.43 423.83,265.36 424.05,265.29 424.27,265.22 424.48,265.16 424.70,265.09 424.92,265.02 425.14,264.95 425.35,264.88 425.57,264.81 425.79,264.74 426.01,264.68 426.23,264.61 426.44,264.54 426.66,264.47 426.88,264.40 427.10,264.33 427.32,264.26 427.54,264.19 427.76,264.13 427.97,264.06 428.19,263.99 428.41,263.92 428.63,263.85 428.85,263.78 429.07,263.71 429.29,263.65 429.51,263.58 429.73,263.51 429.95,263.44 430.17,263.37 430.39,263.30 430.61,263.23 430.83,263.16 431.05,263.10 431.27,263.03 431.49,262.96 431.71,262.89 431.94,262.82 432.16,262.75 432.38,262.68 432.61,262.62 432.83,262.55 433.06,262.48 433.28,262.41 433.51,262.34 433.74,262.27 433.97,262.20 434.20,262.14 434.44,262.07 434.68,262.00 434.92,261.93 435.16,261.86 435.42,261.79 435.68,261.72 435.96,261.65 436.27,261.59 436.64,261.52 437.40,261.48" fill="none" stroke="#e020e0" stroke-width="1.5" stroke-linejoin="round"/>
</g>
<g clip-path="url(#cb)">
<polyline points="153.60,260.66 154.00,260.62 154.49,260.56 154.84,260.49 155.14,260.42 155.42,260.35 155.68,260.28 155.94,260.21 156.19,260.14 156.43,260.08 156.67,260.01 156.91,259.94 157.15,259.87 157.38,259.80 157.61,259.73 157.84,259.66 158.07,259.60 158.30,259.53 158.53,259.46 158.76,259.39 158.99,259.32 159.21,259.25 159.44,259.18 159.67,259.11 159.89,259.05 160.12,258.98 160.34,258.91 160.57,258.84 160.79,258.77 161.01,258.70 161.24,258.63 161.46,258.57 161.68,258.50 161.91,258.43 162.13,258.36 162.35,258.29 162.58,258.22 162.80,258.15 163.02,258.09 163.25,258.02 163.47,257.95 163.69,257.88 163.91,257.81 164.14,257.74 164.36,257.67 164.58,257.60 164.80,257.54 165.02,257.47 165.25,257.40 165.47,257.33 165.69,257.26 165.91,257.19 166.13,257.12 166.36,257.06 166.58,256.99 166.80,256.92 167.02,256.85 167.24,256.78 167.46,256.71 167.69,256.64 167.91,256.57 168.13,256.51 168.35,256.44 168.57,256.37 168.79,256.30 169.01,256.23 169.24,256.16 169.46,256.09 169.68,256.03 169.90,255.96 170.12,255.89 170.34,255.82 170.56,255.75 170.79,255.68 171.01,255.61 171.23,255.55 171.45,255.48 171.67,255.41 171.89,255.34 172.11,255.27 172.33,255.20 172.56,255.13 172.78,255.06 173.00,255.00 173.22,254.93 173.44,254.86 173.66,254.79 173.88,254.72 174.10,254.65 174.32,254.58 174.55,254.52 174.77,254.45 174.99,254.38 175.21,254.31 175.43,254.24 175.65,254.17 175.87,254.10 176.09,254.03 176.31,253.97 176.54,253.90 176.76,253.83 176.98,253.76 177.20,253.69 177.42,253.62 177.64,253.55 177.86,253.49 178.08,253.42 178.30,253.35 178.52,253.28 178.74,253.21 178.97,253.14 179.19,253.07 179.41,253.01 179.63,252.94 179.85,252.87 180.07,252.80 180.29,252.73 180.51,252.66 180.73,252.59 180.95,252.52 181.18,252.46 181.40,252.39 181.62,252.32 181.84,252.25 182.06,252.18 182.28,252.11 182.50,252.04 182.72,251.98 182.94,251.91 183.16,251.84 183.38,251.77 183.60,251.70 183.83,251.63 184.05,251.56 184.27,251.50 184.49,251.43 184.71,251.36 184.93,251.29 185.15,251.22 185.37,251.15 185.59,251.08 185.81,251.01 186.03,250.95 186.26,250.88 186.48,250.81 186.70,250.74 186.92,250.67 187.14,250.60 187.36,250.53 187.58,250.47 187.80,250.40 188.02,250.33 188.24,250.26 188.46,250.19 188.68,250.12 188.91,250.05 189.13,249.98 189.35,249.92 189.57,249.85 189.79,249.78 190.01,249.71 190.23,249.64 190.45,249.57 190.67,249.50 190.89,249.44 191.11,249.37 191.33,249.30 191.55,249.23 191.78,249.16 192.00,249.09 192.22,249.02 192.44,248.96 192.66,248.89 192.88,248.82 193.10,248.75 193.32,248.68 193.54,248.61 193.76,248.54 193.98,248.47 194.20,248.41 194.43,248.34 194.65,248.27 194.87,248.20 195.09,248.13 195.31,248.06 195.53,247.99 195.75,247.93 195.97,247.86 196.19,247.79 196.41,247.72 196.63,247.65 196.85,247.58 197.07,247.51 197.30,247.44 197.52,247.38 197.74,247.31 197.96,247.24 198.18,247.17 198.40,247.10 198.62,247.03 198.84,246.96 199.06,246.90 199.28,246.83 199.50,246.76 199.72,246.69 199.94,246.62 200.17,246.55 200.39,246.48 200.61,246.42 200.83,246.35 201.05,246.28 201.27,246.21 201.49,246.14 201.71,246.07 201.93,246.00 202.15,245.93 202.37,245.87 202.59,245.80 202.81,245.73 203.03,245.66 203.26,245.59 203.48,245.52 203.70,245.45 203.92,245.39 204.14,245.32 204.36,245.25 204.58,245.18 204.80,245.11 205.02,245.04 205.24,244.97 205.46,244.91 205.68,244.84 205.90,244.77 206.13,244.70 206.35,244.63 206.57,244.56 206.79,244.49 207.01,244.42 207.23,244.36 207.45,244.29 207.67,244.22 207.89,244.15 208.11,244.08 208.33,244.01 208.55,243.94 208.77,243.88 209.00,243.81 209.22,243.74 209.44,243.67 209.66,243.60 209.88,243.53 210.10,243.46 210.32,243.39 210.54,243.33 210.76,243.26 210.98,243.19 211.20,243.12 211.42,243.05 211.64,242.98 211.86,242.91 212.09,242.85 212.31,242.78 212.53,242.71 212.75,242.64 212.97,242.57 213.19,242.50 213.41,242.43 213.63,242.37 213.85,242.30 214.07,242.23 214.29,242.16 214.51,242.09 214.73,242.02 214.95,241.95 215.18,241.88 215.40,241.82 215.62,241.75 215.84,241.68 216.06,241.61 216.28,241.54 216.50,241.47 216.72,241.40 216.94,241.34 217.16,241.27 217.38,241.20 217.60,241.13 217.82,241.06 218.05,240.99 218.27,240.92 218.49,240.85 218.71,240.79 218.93,240.72 219.15,240.65 219.37,240.58 219.59,240.51 219.81,240.44 220.03,240.37 220.25,240.31 220.47,240.24 220.69,240.17 220.91,240.10 221.14,240.03 221.36,239.96 221.58,239.89 221.80,239.83 222.02,239.76 222.24,239.69 222.46,239.62 222.68,239.55 222.90,239.48 223.12,239.41 223.34,239.34 223.56,239.28 223.78,239.21 224.00,239.14 224.23,239.07 224.45,239.00 224.67,238.93 224.89,238.86 225.12,238.80 225.34,238.73 225.57,238.66 225.79,238.59 226.02,238.52 226.24,238.45 226.47,238.38 226.69,238.32 226.92,238.25 227.14,238.18 227.37,238.11 227.59,238.04 227.81,237.97 228.04,237.90 228.26,237.83 228.49,237.77 228.71,237.70 228.94,237.63 229.16,237.56 229.39,237.49 229.61,237.42 229.84,237.35 230.06,237.29 230.29,237.22 230.51,237.15 230.74,237.08 230.96,237.01 231.19,236.94 231.41,236.87 231.63,236.80 231.86,236.74 232.08,236.67 232.31,236.60 232.53,236.53 232.76,236.46 232.98,236.39 233.21,236.32 233.43,236.26 233.66,236.19 233.88,236.12 234.11,236.05 234.33,235.98 234.56,235.91 234.78,235.84 235.01,235.78 235.23,235.71 235.46,235.64 235.68,235.57 235.91,235.50 236.13,235.43 236.36,235.36 236.58,235.29 236.81,235.23 237.03,235.16 237.26,235.09 237.48,235.02 237.71,234.95 237.93,234.88 238.16,234.81 238.38,234.75 238.61,234.68 238.83,234.61 239.06,234.54 239.28,234.47 239.51,234.40 239.73,234.33 239.96,234.26 240.18,234.20 240.41,234.13 240.63,234.06 240.86,233.99 241.08,233.92 241.31,233.85 241.53,233.78 241.76,233.72 241.99,233.65 242.21,233.58 242.44,233.51 242.66,233.44 242.89,233.37 243.11,233.30 243.34,233.24 243.56,233.17 243.79,233.10 244.01,233.03 244.24,232.96 244.46,232.89 244.69,232.82 244.92,232.75 245.14,232.69 245.37,232.62 245.59,232.55 245.82,232.48 246.04,232.41 246.27,232.34 246.50,232.27 246.72,232.21 246.95,232.14 247.17,232.07 247.40,232.00 247.63,231.93 247.85,231.86 248.08,231.79 248.30,231.73 248.53,231.66 248.76,231.59 248.98,231.52 249.21,231.45 249.43,231.38 249.66,231.31 249.89,231.24 250.11,231.18 250.34,231.11 250.57,231.04 250.79,230.97 251.02,230.90 251.24,230.83 251.47,230.76 251.70,230.70 251.92,230.63 252.15,230.56 252.38,230.49 252.60,230.42 252.83,230.35 253.06,230.28 253.28,230.21 253.51,230.15 253.74,230.08 253.96,230.01 254.19,229.94 254.42,229.87 254.65,229.80 254.87,229.73 255.10,229.67 255.33,229.60 255.55,229.53 255.78,229.46 256.01,229.39 256.24,229.32 256.46,229.25 256.69,229.19 256.92,229.12 257.15,229.05 257.38,228.98 257.60,228.91 257.83,228.84 258.06,228.77 258.29,228.70 258.52,228.64 258.74,228.57 258.97,228.50 259.20,228.43 259.43,228.36 259.66,228.29 259.89,228.22 260.11,228.16 260.34,228.09 260.57,228.02 260.80,227.95 261.03,227.88 261.26,227.81 261.49,227.74 261.72,227.67 261.95,227.61 262.18,227.54 262.41,227.47 262.63,227.40 262.86,227.33 263.09,227.26 263.32,227.19 263.55,227.13 263.78,227.06 264.01,226.99 264.25,226.92 264.48,226.85 264.71,226.78 264.94,226.71 265.17,226.65 265.40,226.58 265.63,226.51 265.86,226.44 266.09,226.37 266.32,226.30 266.56,226.23 266.79,226.16 267.02,226.10 267.25,226.03 267.48,225.96 267.72,225.89 267.95,225.82 268.18,225.75 268.41,225.68 268.65,225.62 268.88,225.55 269.11,225.48 269.35,225.41 269.58,225.34 269.82,225.27 270.05,225.20 270.29,225.14 270.52,225.07 270.76,225.00 270.99,224.93 271.23,224.86 271.46,224.79 271.70,224.72 271.93,224.65 272.17,224.59 272.41,224.52 272.65,224.45 272.88,224.38 273.12,224.31 273.36,224.24 273.60,224.17 273.84,224.11 274.08,224.04 274.31,223.97 274.55,223.90 274.79,223.83 275.04,223.76 275.28,223.69 275.52,223.62 275.76,223.56 276.00,223.49 276.25,223.42 276.49,223.35 276.73,223.28 276.98,223.21 277.22,223.14 277.47,223.08 277.72,223.01 277.96,222.94 278.21,222.87 278.46,222.80 278.71,222.73 278.96,222.66 279.21,222.60 279.46,222.53 279.71,222.46 279.97,222.39 280.22,222.32 280.48,222.25 280.73,222.18 280.99,222.11 281.25,222.05 281.51,221.98 281.77,221.91 282.03,221.84 282.30,221.77 282.56,221.70 282.83,221.63 283.10,221.57 283.37,221.50 283.65,221.43 283.92,221.36 284.20,221.29 284.48,221.22 284.76,221.15 285.05,221.08 285.34,221.02 285.63,220.95 285.93,220.88 286.23,220.81 286.54,220.74 286.85,220.67 287.16,220.60 287.49,220.54 287.82,220.47 288.15,220.40 288.50,220.33 288.86,220.26 289.23,220.19 289.62,220.12 290.02,220.06 290.45,219.99 290.90,219.92 291.39,219.85 291.94,219.78 292.57,219.71 293.36,219.64 294.67,219.57 295.50,219.54" fill="none" stroke="#e020e0" stroke-width="1.5" stroke-linejoin="round"/>
</g>
<g clip-path="url(#cb)">
<polyline points="437.40,260.66 437.00,260.62 436.51,260.56 436.16,260.49 435.86,260.42 435.58,260.35 435.32,260.28 435.06,260.21 434.81,260.14 434.57,260.08 434.33,260.01 434.09,259.94 433.85,259.87 433.62,259.80 433.39,259.73 433.16,259.66 432.93,259.60 432.70,259.53 432.47,259.46 432.24,259.39 432.01,259.32 431.79,259.25 431.56,259.18 431.33,259.11 431.11,259.05 430.88,258.98 430.66,258.91 430.43,258.84 430.21,258.77 429.99,258.70 429.76,258.63 429.54,258.57 429.32,258.50 429.09,258.43 428.87,258.36 428.65,258.29 428.42,258.22 428.20,258.15 427.98,258.09 427.75,258.02 427.53,257.95 427.31,257.88 427.09,257.81 426.86,257.74 426.64,257.67 426.42,257.60 426.20,257.54 425.98,257.47 425.75,257.40 425.53,257.33 425.31,257.26 425.09,257.19 424.87,257.12 424.64,257.06 424.42,256.99 424.20,256.92 423.98,256.85 423.76,256.78 423.54,256.71 423.31,256.64 423.09,256.57 422.87,256.51 422.65,256.44 422.43,256.37 422.21,256.30 421.99,256.23 421.76,256.16 421.54,256.09 421.32,256.03 421.10,255.96 420.88,255.89 420.66,255.82 420.44,255.75 420.21,255.68 419.99,255.61 419.77,255.55 419.55,255.48 419.33,255.41 419.11,255.34 418.89,255.27 418.67,255.20 418.44,255.13 418.22,255.06 418.00,255.00 417.78,254.93 417.56,254.86 417.34,254.79 417.12,254.72 416.90,254.65 416.68,254.58 416.45,254.52 416.23,254.45 416.01,254.38 415.79,254.31 415.57,254.24 415.35,254.17 415.13,254.10 414.91,254.03 414.69,253.97 414.46,253.90 414.24,253.83 414.02,253.76 413.80,253.69 413.58,253.62 413.36,253.55 413.14,253.49 412.92,253.42 412.70,253.35 412.48,253.28 412.26,253.21 412.03,253.14 411.81,253.07 411.59,253.01 411.37,252.94 411.15,252.87 410.93,252.80 410.71,252.73 410.49,252.66 410.27,252.59 410.05,252.52 409.82,252.46 409.60,252.39 409.38,252.32 409.16,252.25 408.94,252.18 408.72,252.11 408.50,252.04 408.28,251.98 408.06,251.91 407.84,251.84 407.62,251.77 407.40,251.70 407.17,251.63 406.95,251.56 406.73,251.50 406.51,251.43 406.29,251.36 406.07,251.29 405.85,251.22 405.63,251.15 405.41,251.08 405.19,251.01 404.97,250.95 404.74,250.88 404.52,250.81 404.30,250.74 404.08,250.67 403.86,250.60 403.64,250.53 403.42,250.47 403.20,250.40 402.98,250.33 402.76,250.26 402.54,250.19 402.32,250.12 402.09,250.05 401.87,249.98 401.65,249.92 401.43,249.85 401.21,249.78 400.99,249.71 400.77,249.64 400.55,249.57 400.33,249.50 400.11,249.44 399.89,249.37 399.67,249.30 399.45,249.23 399.22,249.16 399.00,249.09 398.78,249.02 398.56,248.96 398.34,248.89 398.12,248.82 397.90,248.75 397.68,248.68 397.46,248.61 397.24,248.54 397.02,248.47 396.80,248.41 396.57,248.34 396.35,248.27 396.13,248.20 395.91,248.13 395.69,248.06 395.47,247.99 395.25,247.93 395.03,247.86 394.81,247.79 394.59,247.72 394.37,247.65 394.15,247.58 393.93,247.51 393.70,247.44 393.48,247.38 393.26,247.31 393.04,247.24 392.82,247.17 392.60,247.10 392.38,247.03 392.16,246.96 391.94,246.90 391.72,246.83 391.50,246.76 391.28,246.69 391.06,246.62 390.83,246.55 390.61,246.48 390.39,246.42 390.17,246.35 389.95,246.28 389.73,246.21 389.51,246.14 389.29,246.07 389.07,246.00 388.85,245.93 388.63,245.87 388.41,245.80 388.19,245.73 387.97,245.66 387.74,245.59 387.52,245.52 387.30,245.45 387.08,245.39 386.86,245.32 386.64,245.25 386.42,245.18 386.20,245.11 385.98,245.04 385.76,244.97 385.54,244.91 385.32,244.84 385.10,244.77 384.87,244.70 384.65,244.63 384.43,244.56 384.21,244.49 383.99,244.42 383.77,244.36 383.55,244.29 383.33,244.22 383.11,244.15 382.89,244.08 382.67,244.01 382.45,243.94 382.23,243.88 382.00,243.81 381.78,243.74 381.56,243.67 381.34,243.60 381.12,243.53 380.90,243.46 380.68,243.39 380.46,243.33 380.24,243.26 380.02,243.19 379.80,243.12 379.58,243.05 379.36,242.98 379.14,242.91 378.91,242.85 378.69,242.78 378.47,242.71 378.25,242.64 378.03,242.57 377.81,242.50 377.59,242.43 377.37,242.37 377.15,242.30 376.93,242.23 376.71,242.16 376.49,242.09 376.27,242.02 376.05,241.95 375.82,241.88 375.60,241.82 375.38,241.75 375.16,241.68 374.94,241.61 374.72,241.54 374.50,241.47 374.28,241.40 374.06,241.34 373.84,241.27 373.62,241.20 373.40,241.13 373.18,241.06 372.95,240.99 372.73,240.92 372.51,240.85 372.29,240.79 372.07,240.72 371.85,240.65 371.63,240.58 371.41,240.51 371.19,240.44 370.97,240.37 370.75,240.31 370.53,240.24 370.31,240.17 370.09,240.10 369.86,240.03 369.64,239.96 369.42,239.89 369.20,239.83 368.98,239.76 368.76,239.69 368.54,239.62 368.32,239.55 368.10,239.48 367.88,239.41 367.66,239.34 367.44,239.28 367.22,239.21 367.00,239.14 366.77,239.07 366.55,239.00 366.33,238.93 366.11,238.86 365.88,238.80 365.66,238.73 365.43,238.66 365.21,238.59 364.98,238.52 364.76,238.45 364.53,238.38 364.31,238.32 364.08,238.25 363.86,238.18 363.63,238.11 363.41,238.04 363.19,237.97 362.96,237.90 362.74,237.83 362.51,237.77 362.29,237.70 362.06,237.63 361.84,237.56 361.61,237.49 361.39,237.42 361.16,237.35 360.94,237.29 360.71,237.22 360.49,237.15 360.26,237.08 360.04,237.01 359.81,236.94 359.59,236.87 359.37,236.80 359.14,236.74 358.92,236.67 358.69,236.60 358.47,236.53 358.24,236.46 358.02,236.39 357.79,236.32 357.57,236.26 357.34,236.19 357.12,236.12 356.89,236.05 356.67,235.98 356.44,235.91 356.22,235.84 355.99,235.78 355.77,235.71 355.54,235.64 355.32,235.57 355.09,235.50 354.87,235.43 354.64,235.36 354.42,235.29 354.19,235.23 353.97,235.16 353.74,235.09 353.52,235.02 353.29,234.95 353.07,234.88 352.84,234.81 352.62,234.75 352.39,234.68 352.17,234.61 351.94,234.54 351.72,234.47 351.49,234.40 351.27,234.33 351.04,234.26 350.82,234.20 350.59,234.13 350.37,234.06 350.14,233.99 349.92,233.92 349.69,233.85 349.47,233.78 349.24,233.72 349.01,233.65 348.79,233.58 348.56,233.51 348.34,233.44 348.11,233.37 347.89,233.30 347.66,233.24 347.44,233.17 347.21,233.10 346.99,233.03 346.76,232.96 346.54,232.89 346.31,232.82 346.08,232.75 345.86,232.69 345.63,232.62 345.41,232.55 345.18,232.48 344.96,232.41 344.73,232.34 344.50,232.27 344.28,232.21 344.05,232.14 343.83,232.07 343.60,232.00 343.37,231.93 343.15,231.86 342.92,231.79 342.70,231.73 342.47,231.66 342.24,231.59 342.02,231.52 341.79,231.45 341.57,231.38 341.34,231.31 341.11,231.24 340.89,231.18 340.66,231.11 340.43,231.04 340.21,230.97 339.98,230.90 339.76,230.83 339.53,230.76 339.30,230.70 339.08,230.63 338.85,230.56 338.62,230.49 338.40,230.42 338.17,230.35 337.94,230.28 337.72,230.21 337.49,230.15 337.26,230.08 337.04,230.01 336.81,229.94 336.58,229.87 336.35,229.80 336.13,229.73 335.90,229.67 335.67,229.60 335.45,229.53 335.22,229.46 334.99,229.39 334.76,229.32 334.54,229.25 334.31,229.19 334.08,229.12 333.85,229.05 333.62,228.98 333.40,228.91 333.17,228.84 332.94,228.77 332.71,228.70 332.48,228.64 332.26,228.57 332.03,228.50 331.80,228.43 331.57,228.36 331.34,228.29 331.11,228.22 330.89,228.16 330.66,228.09 330.43,228.02 330.20,227.95 329.97,227.88 329.74,227.81 329.51,227.74 329.28,227.67 329.05,227.61 328.82,227.54 328.59,227.47 328.37,227.40 328.14,227.33 327.91,227.26 327.68,227.19 327.45,227.13 327.22,227.06 326.99,226.99 326.75,226.92 326.52,226.85 326.29,226.78 326.06,226.71 325.83,226.65 325.60,226.58 325.37,226.51 325.14,226.44 324.91,226.37 324.68,226.30 324.44,226.23 324.21,226.16 323.98,226.10 323.75,226.03 323.52,225.96 323.28,225.89 323.05,225.82 322.82,225.75 322.59,225.68 322.35,225.62 322.12,225.55 321.89,225.48 321.65,225.41 321.42,225.34 321.18,225.27 320.95,225.20 320.71,225.14 320.48,225.07 320.24,225.00 320.01,224.93 319.77,224.86 319.54,224.79 319.30,224.72 319.07,224.65 318.83,224.59 318.59,224.52 318.35,224.45 318.12,224.38 317.88,224.31 317.64,224.24 317.40,224.17 317.16,224.11 316.92,224.04 316.69,223.97 316.45,223.90 316.21,223.83 315.96,223.76 315.72,223.69 315.48,223.62 315.24,223.56 315.00,223.49 314.75,223.42 314.51,223.35 314.27,223.28 314.02,223.21 313.78,223.14 313.53,223.08 313.28,223.01 313.04,222.94 312.79,222.87 312.54,222.80 312.29,222.73 312.04,222.66 311.79,222.60 311.54,222.53 311.29,222.46 311.03,222.39 310.78,222.32 310.52,222.25 310.27,222.18 310.01,222.11 309.75,222.05 309.49,221.98 309.23,221.91 308.97,221.84 308.70,221.77 308.44,221.70 308.17,221.63 307.90,221.57 307.63,221.50 307.35,221.43 307.08,221.36 306.80,221.29 306.52,221.22 306.24,221.15 305.95,221.08 305.66,221.02 305.37,220.95 305.07,220.88 304.77,220.81 304.46,220.74 304.15,220.67 303.84,220.60 303.51,220.54 303.18,220.47 302.85,220.40 302.50,220.33 302.14,220.26 301.77,220.19 301.38,220.12 300.98,220.06 300.55,219.99 300.10,219.92 299.61,219.85 299.06,219.78 298.43,219.71 297.64,219.64 296.33,219.57 295.50,219.54" fill="none" stroke="#e020e0" stroke-width="1.5" stroke-linejoin="round"/>
</g>
<g clip-path="url(#cb)">
<polyline points="295.50,214.19 295.14,214.15 293.52,214.08 292.71,214.01 292.07,213.95 291.53,213.88 291.03,213.81 290.58,213.74 290.16,213.67 289.76,213.60 289.38,213.53 289.01,213.47 288.66,213.40 288.32,213.33 287.98,213.26 287.66,213.19 287.34,213.12 287.03,213.05 286.72,212.98 286.42,212.92 286.13,212.85 285.83,212.78 285.55,212.71 285.26,212.64 284.98,212.57 284.70,212.50 284.43,212.44 284.16,212.37 283.89,212.30 283.62,212.23 283.35,212.16 283.09,212.09 282.83,212.02 282.57,211.95 282.31,211.89 282.05,211.82 281.79,211.75 281.54,211.68 281.28,211.61 281.03,211.54 280.78,211.47 280.53,211.41 280.28,211.34 280.03,211.27 279.79,211.20 279.54,211.13 279.30,211.06 279.05,210.99 278.81,210.93 278.57,210.86 278.32,210.79 278.08,210.72 277.84,210.65 277.60,210.58 277.36,210.51 277.12,210.44 276.88,210.38 276.65,210.31 276.41,210.24 276.17,210.17 275.94,210.10 275.70,210.03 275.46,209.96 275.23,209.90 274.99,209.83 274.76,209.76 274.53,209.69 274.29,209.62 274.06,209.55 273.83,209.48 273.59,209.42 273.36,209.35 273.13,209.28 272.90,209.21 272.67,209.14 272.44,209.07 272.21,209.00 271.98,208.93 271.75,208.87 271.52,208.80 271.29,208.73 271.06,208.66 270.83,208.59 270.60,208.52 270.37,208.45 270.14,208.39 269.91,208.32 269.69,208.25 269.46,208.18 269.23,208.11 269.00,208.04 268.78,207.97 268.55,207.90 268.32,207.84 268.10,207.77 267.87,207.70 267.64,207.63 267.42,207.56 267.19,207.49 266.96,207.42 266.74,207.36 266.51,207.29 266.29,207.22 266.06,207.15 265.84,207.08 265.61,207.01 265.39,206.94 265.16,206.88 264.94,206.81 264.71,206.74 264.49,206.67 264.26,206.60 264.04,206.53 263.82,206.46 263.59,206.39 263.37,206.33 263.14,206.26 262.92,206.19 262.70,206.12 262.47,206.05 262.25,205.98 262.03,205.91 261.80,205.85 261.58,205.78 261.36,205.71 261.13,205.64 260.91,205.57 260.69,205.50 260.47,205.43 260.24,205.36 260.02,205.30 259.80,205.23 259.58,205.16 259.35,205.09 259.13,205.02 258.91,204.95 258.69,204.88 258.46,204.82 258.24,204.75 258.02,204.68 257.80,204.61 257.58,204.54 257.36,204.47 257.13,204.40 256.91,204.34 256.69,204.27 256.47,204.20 256.25,204.13 256.03,204.06 255.80,203.99 255.58,203.92 255.36,203.85 255.14,203.79 254.92,203.72 254.70,203.65 254.48,203.58 254.26,203.51 254.04,203.44 253.81,203.37 253.59,203.31 253.37,203.24 253.15,203.17 252.93,203.10 252.71,203.03 252.49,202.96 252.27,202.89 252.05,202.83 251.83,202.76 251.61,202.69 251.39,202.62 251.17,202.55 250.95,202.48 250.73,202.41 250.51,202.34 250.29,202.28 250.07,202.21 249.85,202.14 249.63,202.07 249.40,202.00 249.18,201.93 248.96,201.86 248.74,201.80 248.52,201.73 248.30,201.66 248.08,201.59 247.86,201.52 247.64,201.45 247.42,201.38 247.21,201.31 246.99,201.25 246.77,201.18 246.55,201.11 246.33,201.04 246.11,200.97 245.89,200.90 245.67,200.83 245.45,200.77 245.23,200.70 245.01,200.63 244.79,200.56 244.57,200.49 244.35,200.42 244.13,200.35 243.91,200.29 243.69,200.22 243.47,200.15 243.25,200.08 243.03,200.01 242.81,199.94 242.59,199.87 242.37,199.80 242.16,199.74 241.94,199.67 241.72,199.60 241.50,199.53 241.28,199.46 241.06,199.39 240.84,199.32 240.62,199.26 240.40,199.19 240.18,199.12 239.96,199.05 239.74,198.98 239.52,198.91 239.31,198.84 239.09,198.77 238.87,198.71 238.65,198.64 238.43,198.57 238.21,198.50 237.99,198.43 237.77,198.36 237.55,198.29 237.33,198.23 237.11,198.16 236.90,198.09 236.68,198.02 236.46,197.95 236.24,197.88 236.02,197.81 235.80,197.75 235.58,197.68 235.36,197.61 235.14,197.54 234.93,197.47 234.71,197.40 234.49,197.33 234.27,197.26 234.05,197.20 233.83,197.13 233.61,197.06 233.39,196.99 233.17,196.92 232.96,196.85 232.74,196.78 232.52,196.72 232.30,196.65 232.08,196.58 231.86,196.51 231.64,196.44 231.42,196.37 231.21,196.30 230.99,196.24 230.77,196.17 230.55,196.10 230.33,196.03 230.11,195.96 229.89,195.89 229.67,195.82 229.46,195.75 229.24,195.69 229.02,195.62 228.80,195.55 228.58,195.48 228.36,195.41 228.14,195.34 227.92,195.27 227.71,195.21 227.49,195.14 227.27,195.07 227.05,195.00 226.83,194.93 226.61,194.86 226.39,194.79 226.18,194.72 225.96,194.66 225.74,194.59 225.52,194.52 225.30,194.45 225.08,194.38 224.86,194.31 224.64,194.24 224.42,194.18 224.20,194.11 223.98,194.04 223.75,193.97 223.53,193.90 223.31,193.83 223.08,193.76 222.86,193.70 222.64,193.63 222.41,193.56 222.19,193.49 221.97,193.42 221.75,193.35 221.52,193.28 221.30,193.21 221.08,193.15 220.85,193.08 220.63,193.01 220.41,192.94 220.18,192.87 219.96,192.80 219.74,192.73 219.51,192.67 219.29,192.60 219.07,192.53 218.84,192.46 218.62,192.39 218.40,192.32 218.17,192.25 217.95,192.18 217.73,192.12 217.50,192.05 217.28,191.98 217.06,191.91 216.83,191.84 216.61,191.77 216.39,191.70 216.16,191.64 215.94,191.57 215.72,191.50 215.49,191.43 215.27,191.36 215.05,191.29 214.82,191.22 214.60,191.16 214.38,191.09 214.15,191.02 213.93,190.95 213.70,190.88 213.48,190.81 213.26,190.74 213.03,190.67 212.81,190.61 212.59,190.54 212.36,190.47 212.14,190.40 211.91,190.33 211.69,190.26 211.47,190.19 211.24,190.13 211.02,190.06 210.80,189.99 210.57,189.92 210.35,189.85 210.12,189.78 209.90,189.71 209.67,189.65 209.45,189.58 209.23,189.51 209.00,189.44 208.78,189.37 208.55,189.30 208.33,189.23 208.11,189.16 207.88,189.10 207.66,189.03 207.43,188.96 207.21,188.89 206.98,188.82 206.76,188.75 206.53,188.68 206.31,188.62 206.08,188.55 205.86,188.48 205.64,188.41 205.41,188.34 205.19,188.27 204.96,188.20 204.74,188.13 204.51,188.07 204.29,188.00 204.06,187.93 203.84,187.86 203.61,187.79 203.39,187.72 203.16,187.65 202.93,187.59 202.71,187.52 202.48,187.45 202.26,187.38 202.03,187.31 201.81,187.24 201.58,187.17 201.36,187.11 201.13,187.04 200.90,186.97 200.68,186.90 200.45,186.83 200.23,186.76 200.00,186.69 199.77,186.62 199.55,186.56 199.32,186.49 199.10,186.42 198.87,186.35 198.64,186.28 198.42,186.21 198.19,186.14 197.96,186.08 197.74,186.01 197.51,185.94 197.28,185.87 197.05,185.80 196.83,185.73 196.60,185.66 196.37,185.59 196.15,185.53 195.92,185.46 195.69,185.39 195.46,185.32 195.23,185.25 195.01,185.18 194.78,185.11 194.55,185.05 194.32,184.98 194.09,184.91 193.87,184.84 193.64,184.77 193.41,184.70 193.18,184.63 192.95,184.57 192.72,184.50 192.49,184.43 192.26,184.36 192.03,184.29 191.81,184.22 191.58,184.15 191.35,184.08 191.12,184.02 190.89,183.95 190.66,183.88 190.43,183.81 190.20,183.74 189.96,183.67 189.73,183.60 189.50,183.54 189.27,183.47 189.04,183.40 188.81,183.33 188.58,183.26 188.35,183.19 188.11,183.12 187.88,183.06 187.65,182.99 187.42,182.92 187.19,182.85 186.95,182.78 186.72,182.71 186.49,182.64 186.25,182.57 186.02,182.51 185.79,182.44 185.55,182.37 185.32,182.30 185.08,182.23 184.85,182.16 184.61,182.09 184.38,182.03 184.14,181.96 183.91,181.89 183.67,181.82 183.43,181.75 183.20,181.68 182.96,181.61 182.72,181.54 182.49,181.48 182.25,181.41 182.01,181.34 181.77,181.27 181.53,181.20 181.29,181.13 181.06,181.06 180.82,181.00 180.58,180.93 180.33,180.86 180.09,180.79 179.85,180.72 179.61,180.65 179.37,180.58 179.13,180.52 178.88,180.45 178.64,180.38 178.40,180.31 178.15,180.24 177.91,180.17 177.66,180.10 177.41,180.03 177.17,179.97 176.92,179.90 176.67,179.83 176.43,179.76 176.18,179.69 175.93,179.62 175.68,179.55 175.43,179.49 175.17,179.42 174.92,179.35 174.67,179.28 174.41,179.21 174.16,179.14 173.90,179.07 173.65,179.00 173.39,178.94 173.13,178.87 172.87,178.80 172.61,178.73 172.35,178.66 172.09,178.59 171.82,178.52 171.56,178.46 171.29,178.39 171.02,178.32 170.75,178.25 170.48,178.18 170.21,178.11 169.94,178.04 169.66,177.98 169.38,177.91 169.11,177.84 168.82,177.77 168.54,177.70 168.25,177.63 167.97,177.56 167.68,177.49 167.38,177.43 167.09,177.36 166.79,177.29 166.48,177.22 166.18,177.15 165.87,177.08 165.55,177.01 165.24,176.95 164.91,176.88 164.59,176.81 164.25,176.74 163.91,176.67 163.56,176.60 163.21,176.53 162.85,176.46 162.47,176.40 162.09,176.33 161.70,176.26 161.29,176.19 160.86,176.12 160.41,176.05 159.94,175.98 159.44,175.92 158.91,175.85 158.32,175.78 157.66,175.71 156.88,175.64 155.87,175.57 153.60,175.54" fill="none" stroke="#e020e0" stroke-width="1.5" stroke-linejoin="round"/>
</g>
<g clip-path="url(#cb)">
<polyline points="295.50,214.19 295.86,214.15 297.48,214.08 298.29,214.01 298.93,213.95 299.47,213.88 299.97,213.81 300.42,213.74 300.84,213.67 301.24,213.60 301.62,213.53 301.99,213.47 302.34,213.40 302.68,213.33 303.02,213.26 303.34,213.19 303.66,213.12 303.97,213.05 304.28,212.98 304.58,212.92 304.87,212.85 305.17,212.78 305.45,212.71 305.74,212.64 306.02,212.57 306.30,212.50 306.57,212.44 306.84,212.37 307.11,212.30 307.38,212.23 307.65,212.16 307.91,212.09 308.17,212.02 308.43,211.95 308.69,211.89 308.95,211.82 309.21,211.75 309.46,211.68 309.72,211.61 309.97,211.54 310.22,211.47 310.47,211.41 310.72,211.34 310.97,211.27 311.21,211.20 311.46,211.13 311.70,211.06 311.95,210.99 312.19,210.93 312.43,210.86 312.68,210.79 312.92,210.72 313.16,210.65 313.40,210.58 313.64,210.51 313.88,210.44 314.12,210.38 314.35,210.31 314.59,210.24 314.83,210.17 315.06,210.10 315.30,210.03 315.54,209.96 315.77,209.90 316.01,209.83 316.24,209.76 316.47,209.69 316.71,209.62 316.94,209.55 317.17,209.48 317.41,209.42 317.64,209.35 317.87,209.28 318.10,209.21 318.33,209.14 318.56,209.07 318.79,209.00 319.02,208.93 319.25,208.87 319.48,208.80 319.71,208.73 319.94,208.66 320.17,208.59 320.40,208.52 320.63,208.45 320.86,208.39 321.09,208.32 321.31,208.25 321.54,208.18 321.77,208.11 322.00,208.04 322.22,207.97 322.45,207.90 322.68,207.84 322.90,207.77 323.13,207.70 323.36,207.63 323.58,207.56 323.81,207.49 324.04,207.42 324.26,207.36 324.49,207.29 324.71,207.22 324.94,207.15 325.16,207.08 325.39,207.01 325.61,206.94 325.84,206.88 326.06,206.81 326.29,206.74 326.51,206.67 326.74,206.60 326.96,206.53 327.18,206.46 327.41,206.39 327.63,206.33 327.86,206.26 328.08,206.19 328.30,206.12 328.53,206.05 328.75,205.98 328.97,205.91 329.20,205.85 329.42,205.78 329.64,205.71 329.87,205.64 330.09,205.57 330.31,205.50 330.53,205.43 330.76,205.36 330.98,205.30 331.20,205.23 331.42,205.16 331.65,205.09 331.87,205.02 332.09,204.95 332.31,204.88 332.54,204.82 332.76,204.75 332.98,204.68 333.20,204.61 333.42,204.54 333.64,204.47 333.87,204.40 334.09,204.34 334.31,204.27 334.53,204.20 334.75,204.13 334.97,204.06 335.20,203.99 335.42,203.92 335.64,203.85 335.86,203.79 336.08,203.72 336.30,203.65 336.52,203.58 336.74,203.51 336.96,203.44 337.19,203.37 337.41,203.31 337.63,203.24 337.85,203.17 338.07,203.10 338.29,203.03 338.51,202.96 338.73,202.89 338.95,202.83 339.17,202.76 339.39,202.69 339.61,202.62 339.83,202.55 340.05,202.48 340.27,202.41 340.49,202.34 340.71,202.28 340.93,202.21 341.15,202.14 341.37,202.07 341.60,202.00 341.82,201.93 342.04,201.86 342.26,201.80 342.48,201.73 342.70,201.66 342.92,201.59 343.14,201.52 343.36,201.45 343.58,201.38 343.79,201.31 344.01,201.25 344.23,201.18 344.45,201.11 344.67,201.04 344.89,200.97 345.11,200.90 345.33,200.83 345.55,200.77 345.77,200.70 345.99,200.63 346.21,200.56 346.43,200.49 346.65,200.42 346.87,200.35 347.09,200.29 347.31,200.22 347.53,200.15 347.75,200.08 347.97,200.01 348.19,199.94 348.41,199.87 348.63,199.80 348.84,199.74 349.06,199.67 349.28,199.60 349.50,199.53 349.72,199.46 349.94,199.39 350.16,199.32 350.38,199.26 350.60,199.19 350.82,199.12 351.04,199.05 351.26,198.98 351.48,198.91 351.69,198.84 351.91,198.77 352.13,198.71 352.35,198.64 352.57,198.57 352.79,198.50 353.01,198.43 353.23,198.36 353.45,198.29 353.67,198.23 353.89,198.16 354.10,198.09 354.32,198.02 354.54,197.95 354.76,197.88 354.98,197.81 355.20,197.75 355.42,197.68 355.64,197.61 355.86,197.54 356.07,197.47 356.29,197.40 356.51,197.33 356.73,197.26 356.95,197.20 357.17,197.13 357.39,197.06 357.61,196.99 357.83,196.92 358.04,196.85 358.26,196.78 358.48,196.72 358.70,196.65 358.92,196.58 359.14,196.51 359.36,196.44 359.58,196.37 359.79,196.30 360.01,196.24 360.23,196.17 360.45,196.10 360.67,196.03 360.89,195.96 361.11,195.89 361.33,195.82 361.54,195.75 361.76,195.69 361.98,195.62 362.20,195.55 362.42,195.48 362.64,195.41 362.86,195.34 363.08,195.27 363.29,195.21 363.51,195.14 363.73,195.07 363.95,195.00 364.17,194.93 364.39,194.86 364.61,194.79 364.82,194.72 365.04,194.66 365.26,194.59 365.48,194.52 365.70,194.45 365.92,194.38 366.14,194.31 366.36,194.24 366.58,194.18 366.80,194.11 367.02,194.04 367.25,193.97 367.47,193.90 367.69,193.83 367.92,193.76 368.14,193.70 368.36,193.63 368.59,193.56 368.81,193.49 369.03,193.42 369.25,193.35 369.48,193.28 369.70,193.21 369.92,193.15 370.15,193.08 370.37,193.01 370.59,192.94 370.82,192.87 371.04,192.80 371.26,192.73 371.49,192.67 371.71,192.60 371.93,192.53 372.16,192.46 372.38,192.39 372.60,192.32 372.83,192.25 373.05,192.18 373.27,192.12 373.50,192.05 373.72,191.98 373.94,191.91 374.17,191.84 374.39,191.77 374.61,191.70 374.84,191.64 375.06,191.57 375.28,191.50 375.51,191.43 375.73,191.36 375.95,191.29 376.18,191.22 376.40,191.16 376.62,191.09 376.85,191.02 377.07,190.95 377.30,190.88 377.52,190.81 377.74,190.74 377.97,190.67 378.19,190.61 378.41,190.54 378.64,190.47 378.86,190.40 379.09,190.33 379.31,190.26 379.53,190.19 379.76,190.13 379.98,190.06 380.20,189.99 380.43,189.92 380.65,189.85 380.88,189.78 381.10,189.71 381.33,189.65 381.55,189.58 381.77,189.51 382.00,189.44 382.22,189.37 382.45,189.30 382.67,189.23 382.89,189.16 383.12,189.10 383.34,189.03 383.57,188.96 383.79,188.89 384.02,188.82 384.24,188.75 384.47,188.68 384.69,188.62 384.92,188.55 385.14,188.48 385.36,188.41 385.59,188.34 385.81,188.27 386.04,188.20 386.26,188.13 386.49,188.07 386.71,188.00 386.94,187.93 387.16,187.86 387.39,187.79 387.61,187.72 387.84,187.65 388.07,187.59 388.29,187.52 388.52,187.45 388.74,187.38 388.97,187.31 389.19,187.24 389.42,187.17 389.64,187.11 389.87,187.04 390.10,186.97 390.32,186.90 390.55,186.83 390.77,186.76 391.00,186.69 391.23,186.62 391.45,186.56 391.68,186.49 391.90,186.42 392.13,186.35 392.36,186.28 392.58,186.21 392.81,186.14 393.04,186.08 393.26,186.01 393.49,185.94 393.72,185.87 393.95,185.80 394.17,185.73 394.40,185.66 394.63,185.59 394.85,185.53 395.08,185.46 395.31,185.39 395.54,185.32 395.77,185.25 395.99,185.18 396.22,185.11 396.45,185.05 396.68,184.98 396.91,184.91 397.13,184.84 397.36,184.77 397.59,184.70 397.82,184.63 398.05,184.57 398.28,184.50 398.51,184.43 398.74,184.36 398.97,184.29 399.19,184.22 399.42,184.15 399.65,184.08 399.88,184.02 400.11,183.95 400.34,183.88 400.57,183.81 400.80,183.74 401.04,183.67 401.27,183.60 401.50,183.54 401.73,183.47 401.96,183.40 402.19,183.33 402.42,183.26 402.65,183.19 402.89,183.12 403.12,183.06 403.35,182.99 403.58,182.92 403.81,182.85 404.05,182.78 404.28,182.71 404.51,182.64 404.75,182.57 404.98,182.51 405.21,182.44 405.45,182.37 405.68,182.30 405.92,182.23 406.15,182.16 406.39,182.09 406.62,182.03 406.86,181.96 407.09,181.89 407.33,181.82 407.57,181.75 407.80,181.68 408.04,181.61 408.28,181.54 408.51,181.48 408.75,181.41 408.99,181.34 409.23,181.27 409.47,181.20 409.71,181.13 409.94,181.06 410.18,181.00 410.42,180.93 410.67,180.86 410.91,180.79 411.15,180.72 411.39,180.65 411.63,180.58 411.87,180.52 412.12,180.45 412.36,180.38 412.60,180.31 412.85,180.24 413.09,180.17 413.34,180.10 413.59,180.03 413.83,179.97 414.08,179.90 414.33,179.83 414.57,179.76 414.82,179.69 415.07,179.62 415.32,179.55 415.57,179.49 415.83,179.42 416.08,179.35 416.33,179.28 416.59,179.21 416.84,179.14 417.10,179.07 417.35,179.00 417.61,178.94 417.87,178.87 418.13,178.80 418.39,178.73 418.65,178.66 418.91,178.59 419.18,178.52 419.44,178.46 419.71,178.39 419.98,178.32 420.25,178.25 420.52,178.18 420.79,178.11 421.06,178.04 421.34,177.98 421.62,177.91 421.89,177.84 422.18,177.77 422.46,177.70 422.75,177.63 423.03,177.56 423.32,177.49 423.62,177.43 423.91,177.36 424.21,177.29 424.52,177.22 424.82,177.15 425.13,177.08 425.45,177.01 425.76,176.95 426.09,176.88 426.41,176.81 426.75,176.74 427.09,176.67 427.44,176.60 427.79,176.53 428.15,176.46 428.53,176.40 428.91,176.33 429.30,176.26 429.71,176.19 430.14,176.12 430.59,176.05 431.06,175.98 431.56,175.92 432.09,175.85 432.68,175.78 433.34,175.71 434.12,175.64 435.13,175.57 437.40,175.54" fill="none" stroke="#e020e0" stroke-width="1.5" stroke-linejoin="round"/>
</g>
<g clip-path="url(#cb)">
<polyline points="153.60,167.64 154.92,167.61 156.32,167.54 157.23,167.47 157.96,167.40 158.60,167.34 159.17,167.27 159.70,167.20 160.19,167.13 160.65,167.06 161.10,166.99 161.52,166.92 161.93,166.85 162.33,166.79 162.71,166.72 163.08,166.65 163.45,166.58 163.80,166.51 164.15,166.44 164.49,166.37 164.83,166.31 165.16,166.24 165.48,166.17 165.80,166.10 166.12,166.03 166.43,165.96 166.74,165.89 167.04,165.82 167.35,165.76 167.65,165.69 167.94,165.62 168.24,165.55 168.53,165.48 168.82,165.41 169.10,165.34 169.39,165.28 169.67,165.21 169.95,165.14 170.23,165.07 170.50,165.00 170.78,164.93 171.05,164.86 171.33,164.80 171.60,164.73 171.87,164.66 172.14,164.59 172.40,164.52 172.67,164.45 172.93,164.38 173.20,164.31 173.46,164.25 173.72,164.18 173.98,164.11 174.24,164.04 174.50,163.97 174.76,163.90 175.02,163.83 175.28,163.77 175.53,163.70 175.79,163.63 176.04,163.56 176.30,163.49 176.55,163.42 176.80,163.35 177.05,163.28 177.30,163.22 177.55,163.15 177.80,163.08 178.05,163.01 178.30,162.94 178.55,162.87 178.80,162.80 179.05,162.74 179.29,162.67 179.54,162.60 179.79,162.53 180.03,162.46 180.28,162.39 180.52,162.32 180.77,162.26 181.01,162.19 181.26,162.12 181.50,162.05 181.74,161.98 181.99,161.91 182.23,161.84 182.47,161.77 182.71,161.71 182.95,161.64 183.19,161.57 183.43,161.50 183.68,161.43 183.92,161.36 184.16,161.29 184.40,161.23 184.63,161.16 184.87,161.09 185.11,161.02 185.35,160.95 185.59,160.88 185.83,160.81 186.07,160.75 186.30,160.68 186.54,160.61 186.78,160.54 187.02,160.47 187.25,160.40 187.49,160.33 187.73,160.26 187.96,160.20 188.20,160.13 188.44,160.06 188.67,159.99 188.91,159.92 189.14,159.85 189.38,159.78 189.61,159.72 189.85,159.65 190.08,159.58 190.32,159.51 190.55,159.44 190.79,159.37 191.02,159.30 191.25,159.23 191.49,159.17 191.72,159.10 191.96,159.03 192.19,158.96 192.42,158.89 192.66,158.82 192.89,158.75 193.12,158.69 193.35,158.62 193.59,158.55 193.82,158.48 194.05,158.41 194.29,158.34 194.52,158.27 194.75,158.21 194.98,158.14 195.21,158.07 195.45,158.00 195.68,157.93 195.91,157.86 196.14,157.79 196.37,157.72 196.60,157.66 196.84,157.59 197.07,157.52 197.30,157.45 197.53,157.38 197.76,157.31 197.99,157.24 198.22,157.18 198.45,157.11 198.68,157.04 198.91,156.97 199.14,156.90 199.37,156.83 199.61,156.76 199.84,156.69 200.07,156.63 200.30,156.56 200.53,156.49 200.76,156.42 200.99,156.35 201.22,156.28 201.45,156.21 201.68,156.15 201.91,156.08 202.14,156.01 202.36,155.94 202.59,155.87 202.82,155.80 203.05,155.73 203.28,155.67 203.51,155.60 203.74,155.53 203.97,155.46 204.20,155.39 204.43,155.32 204.66,155.25 204.89,155.18 205.12,155.12 205.34,155.05 205.57,154.98 205.80,154.91 206.03,154.84 206.26,154.77 206.49,154.70 206.72,154.64 206.95,154.57 207.17,154.50 207.40,154.43 207.63,154.36 207.86,154.29 208.09,154.22 208.32,154.16 208.55,154.09 208.77,154.02 209.00,153.95 209.23,153.88 209.46,153.81 209.69,153.74 209.91,153.67 210.14,153.61 210.37,153.54 210.60,153.47 210.83,153.40 211.05,153.33 211.28,153.26 211.51,153.19 211.74,153.13 211.97,153.06 212.19,152.99 212.42,152.92 212.65,152.85 212.88,152.78 213.11,152.71 213.33,152.64 213.56,152.58 213.79,152.51 214.02,152.44 214.24,152.37 214.47,152.30 214.70,152.23 214.93,152.16 215.15,152.10 215.38,152.03 215.61,151.96 215.84,151.89 216.06,151.82 216.29,151.75 216.52,151.68 216.75,151.62 216.97,151.55 217.20,151.48 217.43,151.41 217.66,151.34 217.88,151.27 218.11,151.20 218.34,151.13 218.57,151.07 218.79,151.00 219.02,150.93 219.25,150.86 219.48,150.79 219.70,150.72 219.93,150.65 220.16,150.59 220.38,150.52 220.61,150.45 220.84,150.38 221.07,150.31 221.29,150.24 221.52,150.17 221.75,150.10 221.98,150.04 222.20,149.97 222.43,149.90 222.66,149.83 222.88,149.76 223.11,149.69 223.34,149.62 223.57,149.56 223.79,149.49 224.02,149.42 224.25,149.35 224.47,149.28 224.70,149.21 224.94,149.14 225.17,149.08 225.40,149.01 225.63,148.94 225.86,148.87 226.10,148.80 226.33,148.73 226.56,148.66 226.79,148.59 227.03,148.53 227.26,148.46 227.49,148.39 227.72,148.32 227.95,148.25 228.19,148.18 228.42,148.11 228.65,148.05 228.88,147.98 229.11,147.91 229.35,147.84 229.58,147.77 229.81,147.70 230.04,147.63 230.28,147.57 230.51,147.50 230.74,147.43 230.97,147.36 231.20,147.29 231.44,147.22 231.67,147.15 231.90,147.08 232.13,147.02 232.37,146.95 232.60,146.88 232.83,146.81 233.06,146.74 233.30,146.67 233.53,146.60 233.76,146.54 233.99,146.47 234.23,146.40 234.46,146.33 234.69,146.26 234.93,146.19 235.16,146.12 235.39,146.05 235.62,145.99 235.86,145.92 236.09,145.85 236.32,145.78 236.56,145.71 236.79,145.64 237.02,145.57 237.25,145.51 237.49,145.44 237.72,145.37 237.95,145.30 238.19,145.23 238.42,145.16 238.65,145.09 238.89,145.03 239.12,144.96 239.35,144.89 239.59,144.82 239.82,144.75 240.06,144.68 240.29,144.61 240.52,144.54 240.76,144.48 240.99,144.41 241.23,144.34 241.46,144.27 241.69,144.20 241.93,144.13 242.16,144.06 242.40,144.00 242.63,143.93 242.86,143.86 243.10,143.79 243.33,143.72 243.57,143.65 243.80,143.58 244.04,143.51 244.27,143.45 244.51,143.38 244.74,143.31 244.98,143.24 245.21,143.17 245.45,143.10 245.68,143.03 245.92,142.97 246.15,142.90 246.39,142.83 246.63,142.76 246.86,142.69 247.10,142.62 247.33,142.55 247.57,142.49 247.80,142.42 248.04,142.35 248.28,142.28 248.51,142.21 248.75,142.14 248.99,142.07 249.22,142.00 249.46,141.94 249.70,141.87 249.93,141.80 250.17,141.73 250.41,141.66 250.65,141.59 250.88,141.52 251.12,141.46 251.36,141.39 251.60,141.32 251.84,141.25 252.07,141.18 252.31,141.11 252.55,141.04 252.79,140.98 253.03,140.91 253.27,140.84 253.51,140.77 253.75,140.70 253.99,140.63 254.23,140.56 254.46,140.49 254.70,140.43 254.94,140.36 255.19,140.29 255.43,140.22 255.67,140.15 255.91,140.08 256.15,140.01 256.39,139.95 256.63,139.88 256.87,139.81 257.11,139.74 257.36,139.67 257.60,139.60 257.84,139.53 258.08,139.46 258.33,139.40 258.57,139.33 258.81,139.26 259.06,139.19 259.30,139.12 259.54,139.05 259.79,138.98 260.03,138.92 260.28,138.85 260.52,138.78 260.77,138.71 261.01,138.64 261.26,138.57 261.51,138.50 261.75,138.44 262.00,138.37 262.25,138.30 262.50,138.23 262.74,138.16 262.99,138.09 263.24,138.02 263.49,137.95 263.74,137.89 263.99,137.82 264.24,137.75 264.49,137.68 264.74,137.61 264.99,137.54 265.24,137.47 265.49,137.41 265.75,137.34 266.00,137.27 266.25,137.20 266.51,137.13 266.76,137.06 267.02,136.99 267.27,136.92 267.53,136.86 267.79,136.79 268.04,136.72 268.30,136.65 268.56,136.58 268.82,136.51 269.08,136.44 269.34,136.38 269.60,136.31 269.86,136.24 270.12,136.17 270.39,136.10 270.65,136.03 270.92,135.96 271.18,135.90 271.45,135.83 271.72,135.76 271.98,135.69 272.25,135.62 272.52,135.55 272.79,135.48 273.07,135.41 273.34,135.35 273.62,135.28 273.89,135.21 274.17,135.14 274.45,135.07 274.73,135.00 275.01,134.93 275.29,134.87 275.57,134.80 275.86,134.73 276.14,134.66 276.43,134.59 276.72,134.52 277.02,134.45 277.31,134.39 277.61,134.32 277.90,134.25 278.21,134.18 278.51,134.11 278.81,134.04 279.12,133.97 279.43,133.90 279.75,133.84 280.06,133.77 280.38,133.70 280.71,133.63 281.04,133.56 281.37,133.49 281.71,133.42 282.05,133.36 282.39,133.29 282.74,133.22 283.10,133.15 283.47,133.08 283.84,133.01 284.22,132.94 284.60,132.87 285.00,132.81 285.41,132.74 285.83,132.67 286.26,132.60 286.71,132.53 287.18,132.46 287.67,132.39 288.18,132.33 288.73,132.26 289.31,132.19 289.95,132.12 290.66,132.05 291.49,131.98 292.52,131.91 294.16,131.85 295.50,131.81" fill="none" stroke="#e020e0" stroke-width="1.5" stroke-linejoin="round"/>
</g>
<g clip-path="url(#cb)">
<polyline points="437.40,167.64 436.08,167.61 434.68,167.54 433.77,167.47 433.04,167.40 432.40,167.34 431.83,167.27 431.30,167.20 430.81,167.13 430.35,167.06 429.90,166.99 429.48,166.92 429.07,166.85 428.67,166.79 428.29,166.72 427.92,166.65 427.55,166.58 427.20,166.51 426.85,166.44 426.51,166.37 426.17,166.31 425.84,166.24 425.52,166.17 425.20,166.10 424.88,166.03 424.57,165.96 424.26,165.89 423.96,165.82 423.65,165.76 423.35,165.69 423.06,165.62 422.76,165.55 422.47,165.48 422.18,165.41 421.90,165.34 421.61,165.28 421.33,165.21 421.05,165.14 420.77,165.07 420.50,165.00 420.22,164.93 419.95,164.86 419.67,164.80 419.40,164.73 419.13,164.66 418.86,164.59 418.60,164.52 418.33,164.45 418.07,164.38 417.80,164.31 417.54,164.25 417.28,164.18 417.02,164.11 416.76,164.04 416.50,163.97 416.24,163.90 415.98,163.83 415.72,163.77 415.47,163.70 415.21,163.63 414.96,163.56 414.70,163.49 414.45,163.42 414.20,163.35 413.95,163.28 413.70,163.22 413.45,163.15 413.20,163.08 412.95,163.01 412.70,162.94 412.45,162.87 412.20,162.80 411.95,162.74 411.71,162.67 411.46,162.60 411.21,162.53 410.97,162.46 410.72,162.39 410.48,162.32 410.23,162.26 409.99,162.19 409.74,162.12 409.50,162.05 409.26,161.98 409.01,161.91 408.77,161.84 408.53,161.77 408.29,161.71 408.05,161.64 407.81,161.57 407.57,161.50 407.32,161.43 407.08,161.36 406.84,161.29 406.60,161.23 406.37,161.16 406.13,161.09 405.89,161.02 405.65,160.95 405.41,160.88 405.17,160.81 404.93,160.75 404.70,160.68 404.46,160.61 404.22,160.54 403.98,160.47 403.75,160.40 403.51,160.33 403.27,160.26 403.04,160.20 402.80,160.13 402.56,160.06 402.33,159.99 402.09,159.92 401.86,159.85 401.62,159.78 401.39,159.72 401.15,159.65 400.92,159.58 400.68,159.51 400.45,159.44 400.21,159.37 399.98,159.30 399.75,159.23 399.51,159.17 399.28,159.10 399.04,159.03 398.81,158.96 398.58,158.89 398.34,158.82 398.11,158.75 397.88,158.69 397.65,158.62 397.41,158.55 397.18,158.48 396.95,158.41 396.71,158.34 396.48,158.27 396.25,158.21 396.02,158.14 395.79,158.07 395.55,158.00 395.32,157.93 395.09,157.86 394.86,157.79 394.63,157.72 394.40,157.66 394.16,157.59 393.93,157.52 393.70,157.45 393.47,157.38 393.24,157.31 393.01,157.24 392.78,157.18 392.55,157.11 392.32,157.04 392.09,156.97 391.86,156.90 391.63,156.83 391.39,156.76 391.16,156.69 390.93,156.63 390.70,156.56 390.47,156.49 390.24,156.42 390.01,156.35 389.78,156.28 389.55,156.21 389.32,156.15 389.09,156.08 388.86,156.01 388.64,155.94 388.41,155.87 388.18,155.80 387.95,155.73 387.72,155.67 387.49,155.60 387.26,155.53 387.03,155.46 386.80,155.39 386.57,155.32 386.34,155.25 386.11,155.18 385.88,155.12 385.66,155.05 385.43,154.98 385.20,154.91 384.97,154.84 384.74,154.77 384.51,154.70 384.28,154.64 384.05,154.57 383.83,154.50 383.60,154.43 383.37,154.36 383.14,154.29 382.91,154.22 382.68,154.16 382.45,154.09 382.23,154.02 382.00,153.95 381.77,153.88 381.54,153.81 381.31,153.74 381.09,153.67 380.86,153.61 380.63,153.54 380.40,153.47 380.17,153.40 379.95,153.33 379.72,153.26 379.49,153.19 379.26,153.13 379.03,153.06 378.81,152.99 378.58,152.92 378.35,152.85 378.12,152.78 377.89,152.71 377.67,152.64 377.44,152.58 377.21,152.51 376.98,152.44 376.76,152.37 376.53,152.30 376.30,152.23 376.07,152.16 375.85,152.10 375.62,152.03 375.39,151.96 375.16,151.89 374.94,151.82 374.71,151.75 374.48,151.68 374.25,151.62 374.03,151.55 373.80,151.48 373.57,151.41 373.34,151.34 373.12,151.27 372.89,151.20 372.66,151.13 372.43,151.07 372.21,151.00 371.98,150.93 371.75,150.86 371.52,150.79 371.30,150.72 371.07,150.65 370.84,150.59 370.62,150.52 370.39,150.45 370.16,150.38 369.93,150.31 369.71,150.24 369.48,150.17 369.25,150.10 369.02,150.04 368.80,149.97 368.57,149.90 368.34,149.83 368.12,149.76 367.89,149.69 367.66,149.62 367.43,149.56 367.21,149.49 366.98,149.42 366.75,149.35 366.53,149.28 366.30,149.21 366.06,149.14 365.83,149.08 365.60,149.01 365.37,148.94 365.14,148.87 364.90,148.80 364.67,148.73 364.44,148.66 364.21,148.59 363.97,148.53 363.74,148.46 363.51,148.39 363.28,148.32 363.05,148.25 362.81,148.18 362.58,148.11 362.35,148.05 362.12,147.98 361.89,147.91 361.65,147.84 361.42,147.77 361.19,147.70 360.96,147.63 360.72,147.57 360.49,147.50 360.26,147.43 360.03,147.36 359.80,147.29 359.56,147.22 359.33,147.15 359.10,147.08 358.87,147.02 358.63,146.95 358.40,146.88 358.17,146.81 357.94,146.74 357.70,146.67 357.47,146.60 357.24,146.54 357.01,146.47 356.77,146.40 356.54,146.33 356.31,146.26 356.07,146.19 355.84,146.12 355.61,146.05 355.38,145.99 355.14,145.92 354.91,145.85 354.68,145.78 354.44,145.71 354.21,145.64 353.98,145.57 353.75,145.51 353.51,145.44 353.28,145.37 353.05,145.30 352.81,145.23 352.58,145.16 352.35,145.09 352.11,145.03 351.88,144.96 351.65,144.89 351.41,144.82 351.18,144.75 350.94,144.68 350.71,144.61 350.48,144.54 350.24,144.48 350.01,144.41 349.77,144.34 349.54,144.27 349.31,144.20 349.07,144.13 348.84,144.06 348.60,144.00 348.37,143.93 348.14,143.86 347.90,143.79 347.67,143.72 347.43,143.65 347.20,143.58 346.96,143.51 346.73,143.45 346.49,143.38 346.26,143.31 346.02,143.24 345.79,143.17 345.55,143.10 345.32,143.03 345.08,142.97 344.85,142.90 344.61,142.83 344.37,142.76 344.14,142.69 343.90,142.62 343.67,142.55 343.43,142.49 343.20,142.42 342.96,142.35 342.72,142.28 342.49,142.21 342.25,142.14 342.01,142.07 341.78,142.00 341.54,141.94 341.30,141.87 341.07,141.80 340.83,141.73 340.59,141.66 340.35,141.59 340.12,141.52 339.88,141.46 339.64,141.39 339.40,141.32 339.16,141.25 338.93,141.18 338.69,141.11 338.45,141.04 338.21,140.98 337.97,140.91 337.73,140.84 337.49,140.77 337.25,140.70 337.01,140.63 336.77,140.56 336.54,140.49 336.30,140.43 336.06,140.36 335.81,140.29 335.57,140.22 335.33,140.15 335.09,140.08 334.85,140.01 334.61,139.95 334.37,139.88 334.13,139.81 333.89,139.74 333.64,139.67 333.40,139.60 333.16,139.53 332.92,139.46 332.67,139.40 332.43,139.33 332.19,139.26 331.94,139.19 331.70,139.12 331.46,139.05 331.21,138.98 330.97,138.92 330.72,138.85 330.48,138.78 330.23,138.71 329.99,138.64 329.74,138.57 329.49,138.50 329.25,138.44 329.00,138.37 328.75,138.30 328.50,138.23 328.26,138.16 328.01,138.09 327.76,138.02 327.51,137.95 327.26,137.89 327.01,137.82 326.76,137.75 326.51,137.68 326.26,137.61 326.01,137.54 325.76,137.47 325.51,137.41 325.25,137.34 325.00,137.27 324.75,137.20 324.49,137.13 324.24,137.06 323.98,136.99 323.73,136.92 323.47,136.86 323.21,136.79 322.96,136.72 322.70,136.65 322.44,136.58 322.18,136.51 321.92,136.44 321.66,136.38 321.40,136.31 321.14,136.24 320.88,136.17 320.61,136.10 320.35,136.03 320.08,135.96 319.82,135.90 319.55,135.83 319.28,135.76 319.02,135.69 318.75,135.62 318.48,135.55 318.21,135.48 317.93,135.41 317.66,135.35 317.38,135.28 317.11,135.21 316.83,135.14 316.55,135.07 316.27,135.00 315.99,134.93 315.71,134.87 315.43,134.80 315.14,134.73 314.86,134.66 314.57,134.59 314.28,134.52 313.98,134.45 313.69,134.39 313.39,134.32 313.10,134.25 312.79,134.18 312.49,134.11 312.19,134.04 311.88,133.97 311.57,133.90 311.25,133.84 310.94,133.77 310.62,133.70 310.29,133.63 309.96,133.56 309.63,133.49 309.29,133.42 308.95,133.36 308.61,133.29 308.26,133.22 307.90,133.15 307.53,133.08 307.16,133.01 306.78,132.94 306.40,132.87 306.00,132.81 305.59,132.74 305.17,132.67 304.74,132.60 304.29,132.53 303.82,132.46 303.33,132.39 302.82,132.33 302.27,132.26 301.69,132.19 301.05,132.12 300.34,132.05 299.51,131.98 298.48,131.91 296.84,131.85 295.50,131.81" fill="none" stroke="#e020e0" stroke-width="1.5" stroke-linejoin="round"/>
</g>
<g clip-path="url(#cb)">
<polyline points="295.50,122.13 293.15,122.10 291.93,122.03 291.03,121.96 290.27,121.89 289.60,121.82 288.99,121.75 288.42,121.69 287.89,121.62 287.39,121.55 286.91,121.48 286.46,121.41 286.01,121.34 285.59,121.27 285.17,121.20 284.77,121.14 284.38,121.07 284.00,121.00 283.62,120.93 283.25,120.86 282.89,120.79 282.54,120.72 282.19,120.66 281.84,120.59 281.50,120.52 281.17,120.45 280.84,120.38 280.51,120.31 280.19,120.24 279.87,120.18 279.55,120.11 279.24,120.04 278.93,119.97 278.62,119.90 278.32,119.83 278.01,119.76 277.71,119.69 277.42,119.63 277.12,119.56 276.83,119.49 276.54,119.42 276.25,119.35 275.96,119.28 275.67,119.21 275.38,119.15 275.10,119.08 274.82,119.01 274.54,118.94 274.26,118.87 273.98,118.80 273.70,118.73 273.43,118.67 273.15,118.60 272.88,118.53 272.61,118.46 272.34,118.39 272.07,118.32 271.80,118.25 271.53,118.18 271.26,118.12 270.99,118.05 270.73,117.98 270.46,117.91 270.20,117.84 269.94,117.77 269.67,117.70 269.41,117.64 269.15,117.57 268.89,117.50 268.63,117.43 268.37,117.36 268.11,117.29 267.85,117.22 267.59,117.15 267.34,117.09 267.08,117.02 266.82,116.95 266.57,116.88 266.31,116.81 266.06,116.74 265.81,116.67 265.55,116.61 265.30,116.54 265.05,116.47 264.79,116.40 264.54,116.33 264.29,116.26 264.04,116.19 263.79,116.13 263.54,116.06 263.29,115.99 263.04,115.92 262.79,115.85 262.54,115.78 262.29,115.71 262.05,115.64 261.80,115.58 261.55,115.51 261.30,115.44 261.06,115.37 260.81,115.30 260.56,115.23 260.32,115.16 260.07,115.10 259.83,115.03 259.58,114.96 259.34,114.89 259.09,114.82 258.85,114.75 258.60,114.68 258.36,114.61 258.12,114.55 257.87,114.48 257.63,114.41 257.39,114.34 257.14,114.27 256.90,114.20 256.66,114.13 256.42,114.07 256.18,114.00 255.93,113.93 255.69,113.86 255.45,113.79 255.21,113.72 254.97,113.65 254.73,113.59 254.49,113.52 254.25,113.45 254.01,113.38 253.77,113.31 253.53,113.24 253.29,113.17 253.05,113.10 252.81,113.04 252.57,112.97 252.33,112.90 252.09,112.83 251.85,112.76 251.61,112.69 251.37,112.62 251.13,112.56 250.90,112.49 250.66,112.42 250.42,112.35 250.18,112.28 249.94,112.21 249.71,112.14 249.47,112.08 249.23,112.01 248.99,111.94 248.75,111.87 248.52,111.80 248.28,111.73 248.04,111.66 247.81,111.59 247.57,111.53 247.33,111.46 247.10,111.39 246.86,111.32 246.62,111.25 246.39,111.18 246.15,111.11 245.91,111.05 245.68,110.98 245.44,110.91 245.21,110.84 244.97,110.77 244.73,110.70 244.50,110.63 244.26,110.56 244.03,110.50 243.79,110.43 243.56,110.36 243.32,110.29 243.09,110.22 242.85,110.15 242.62,110.08 242.38,110.02 242.15,109.95 241.91,109.88 241.68,109.81 241.44,109.74 241.21,109.67 240.97,109.60 240.74,109.54 240.50,109.47 240.27,109.40 240.03,109.33 239.80,109.26 239.57,109.19 239.33,109.12 239.10,109.05 238.86,108.99 238.63,108.92 238.39,108.85 238.16,108.78 237.93,108.71 237.69,108.64 237.46,108.57 237.22,108.51 236.99,108.44 236.76,108.37 236.52,108.30 236.29,108.23 236.06,108.16 235.82,108.09 235.59,108.02 235.36,107.96 235.12,107.89 234.89,107.82 234.65,107.75 234.42,107.68 234.19,107.61 233.95,107.54 233.72,107.48 233.49,107.41 233.25,107.34 233.02,107.27 232.79,107.20 232.56,107.13 232.32,107.06 232.09,107.00 231.86,106.93 231.62,106.86 231.39,106.79 231.16,106.72 230.92,106.65 230.69,106.58 230.46,106.51 230.22,106.45 229.99,106.38 229.76,106.31 229.53,106.24 229.29,106.17 229.06,106.10 228.83,106.03 228.59,105.97 228.36,105.90 228.13,105.83 227.90,105.76 227.66,105.69 227.43,105.62 227.20,105.55 226.96,105.49 226.73,105.42 226.50,105.35 226.27,105.28 226.03,105.21 225.80,105.14 225.57,105.07 225.33,105.00 225.10,104.94 224.87,104.87 224.64,104.80 224.40,104.73 224.17,104.66 223.93,104.59 223.70,104.52 223.46,104.46 223.23,104.39 222.99,104.32 222.76,104.25 222.52,104.18 222.29,104.11 222.05,104.04 221.81,103.97 221.58,103.91 221.34,103.84 221.11,103.77 220.87,103.70 220.64,103.63 220.40,103.56 220.17,103.49 219.93,103.43 219.70,103.36 219.46,103.29 219.23,103.22 218.99,103.15 218.75,103.08 218.52,103.01 218.28,102.95 218.05,102.88 217.81,102.81 217.58,102.74 217.34,102.67 217.11,102.60 216.87,102.53 216.63,102.46 216.40,102.40 216.16,102.33 215.93,102.26 215.69,102.19 215.46,102.12 215.22,102.05 214.98,101.98 214.75,101.92 214.51,101.85 214.28,101.78 214.04,101.71 213.80,101.64 213.57,101.57 213.33,101.50 213.09,101.43 212.86,101.37 212.62,101.30 212.39,101.23 212.15,101.16 211.91,101.09 211.68,101.02 211.44,100.95 211.20,100.89 210.97,100.82 210.73,100.75 210.49,100.68 210.26,100.61 210.02,100.54 209.78,100.47 209.55,100.41 209.31,100.34 209.07,100.27 208.83,100.20 208.60,100.13 208.36,100.06 208.12,99.99 207.88,99.92 207.65,99.86 207.41,99.79 207.17,99.72 206.93,99.65 206.70,99.58 206.46,99.51 206.22,99.44 205.98,99.38 205.74,99.31 205.51,99.24 205.27,99.17 205.03,99.10 204.79,99.03 204.55,98.96 204.31,98.90 204.07,98.83 203.83,98.76 203.60,98.69 203.36,98.62 203.12,98.55 202.88,98.48 202.64,98.41 202.40,98.35 202.16,98.28 201.92,98.21 201.68,98.14 201.44,98.07 201.20,98.00 200.96,97.93 200.72,97.87 200.48,97.80 200.24,97.73 200.00,97.66 199.76,97.59 199.52,97.52 199.27,97.45 199.03,97.38 198.79,97.32 198.55,97.25 198.31,97.18 198.07,97.11 197.82,97.04 197.58,96.97 197.34,96.90 197.10,96.84 196.86,96.77 196.61,96.70 196.37,96.63 196.13,96.56 195.88,96.49 195.64,96.42 195.40,96.36 195.15,96.29 194.91,96.22 194.66,96.15 194.42,96.08 194.17,96.01 193.93,95.94 193.68,95.87 193.44,95.81 193.19,95.74 192.95,95.67 192.70,95.60 192.46,95.53 192.21,95.46 191.96,95.39 191.72,95.33 191.47,95.26 191.22,95.19 190.97,95.12 190.72,95.05 190.48,94.98 190.23,94.91 189.98,94.84 189.73,94.78 189.48,94.71 189.23,94.64 188.98,94.57 188.73,94.50 188.48,94.43 188.23,94.36 187.98,94.30 187.72,94.23 187.47,94.16 187.22,94.09 186.97,94.02 186.71,93.95 186.46,93.88 186.21,93.82 185.95,93.75 185.70,93.68 185.44,93.61 185.19,93.54 184.93,93.47 184.67,93.40 184.41,93.33 184.16,93.27 183.90,93.20 183.64,93.13 183.38,93.06 183.12,92.99 182.86,92.92 182.60,92.85 182.34,92.79 182.08,92.72 181.81,92.65 181.55,92.58 181.28,92.51 181.02,92.44 180.75,92.37 180.49,92.31 180.22,92.24 179.95,92.17 179.68,92.10 179.42,92.03 179.14,91.96 178.87,91.89 178.60,91.82 178.33,91.76 178.05,91.69 177.78,91.62 177.50,91.55 177.23,91.48 176.95,91.41 176.67,91.34 176.39,91.28 176.11,91.21 175.82,91.14 175.54,91.07 175.25,91.00 174.97,90.93 174.68,90.86 174.39,90.79 174.09,90.73 173.80,90.66 173.50,90.59 173.21,90.52 172.91,90.45 172.61,90.38 172.30,90.31 172.00,90.25 171.69,90.18 171.38,90.11 171.06,90.04 170.75,89.97 170.43,89.90 170.11,89.83 169.78,89.77 169.45,89.70 169.12,89.63 168.78,89.56 168.44,89.49 168.10,89.42 167.75,89.35 167.39,89.28 167.03,89.22 166.66,89.15 166.29,89.08 165.91,89.01 165.52,88.94 165.12,88.87 164.72,88.80 164.30,88.74 163.87,88.67 163.42,88.60 162.97,88.53 162.49,88.46 161.99,88.39 161.47,88.32 160.91,88.25 160.32,88.19 159.68,88.12 158.97,88.05 158.16,87.98 157.19,87.91 155.86,87.84 153.60,87.81" fill="none" stroke="#e020e0" stroke-width="1.5" stroke-linejoin="round"/>
</g>
<g clip-path="url(#cb)">
<polyline points="295.50,122.13 297.85,122.10 299.07,122.03 299.97,121.96 300.73,121.89 301.40,121.82 302.01,121.75 302.58,121.69 303.11,121.62 303.61,121.55 304.09,121.48 304.54,121.41 304.99,121.34 305.41,121.27 305.83,121.20 306.23,121.14 306.62,121.07 307.00,121.00 307.38,120.93 307.75,120.86 308.11,120.79 308.46,120.72 308.81,120.66 309.16,120.59 309.50,120.52 309.83,120.45 310.16,120.38 310.49,120.31 310.81,120.24 311.13,120.18 311.45,120.11 311.76,120.04 312.07,119.97 312.38,119.90 312.68,119.83 312.99,119.76 313.29,119.69 313.58,119.63 313.88,119.56 314.17,119.49 314.46,119.42 314.75,119.35 315.04,119.28 315.33,119.21 315.62,119.15 315.90,119.08 316.18,119.01 316.46,118.94 316.74,118.87 317.02,118.80 317.30,118.73 317.57,118.67 317.85,118.60 318.12,118.53 318.39,118.46 318.66,118.39 318.93,118.32 319.20,118.25 319.47,118.18 319.74,118.12 320.01,118.05 320.27,117.98 320.54,117.91 320.80,117.84 321.06,117.77 321.33,117.70 321.59,117.64 321.85,117.57 322.11,117.50 322.37,117.43 322.63,117.36 322.89,117.29 323.15,117.22 323.41,117.15 323.66,117.09 323.92,117.02 324.18,116.95 324.43,116.88 324.69,116.81 324.94,116.74 325.19,116.67 325.45,116.61 325.70,116.54 325.95,116.47 326.21,116.40 326.46,116.33 326.71,116.26 326.96,116.19 327.21,116.13 327.46,116.06 327.71,115.99 327.96,115.92 328.21,115.85 328.46,115.78 328.71,115.71 328.95,115.64 329.20,115.58 329.45,115.51 329.70,115.44 329.94,115.37 330.19,115.30 330.44,115.23 330.68,115.16 330.93,115.10 331.17,115.03 331.42,114.96 331.66,114.89 331.91,114.82 332.15,114.75 332.40,114.68 332.64,114.61 332.88,114.55 333.13,114.48 333.37,114.41 333.61,114.34 333.86,114.27 334.10,114.20 334.34,114.13 334.58,114.07 334.82,114.00 335.07,113.93 335.31,113.86 335.55,113.79 335.79,113.72 336.03,113.65 336.27,113.59 336.51,113.52 336.75,113.45 336.99,113.38 337.23,113.31 337.47,113.24 337.71,113.17 337.95,113.10 338.19,113.04 338.43,112.97 338.67,112.90 338.91,112.83 339.15,112.76 339.39,112.69 339.63,112.62 339.87,112.56 340.10,112.49 340.34,112.42 340.58,112.35 340.82,112.28 341.06,112.21 341.29,112.14 341.53,112.08 341.77,112.01 342.01,111.94 342.25,111.87 342.48,111.80 342.72,111.73 342.96,111.66 343.19,111.59 343.43,111.53 343.67,111.46 343.90,111.39 344.14,111.32 344.38,111.25 344.61,111.18 344.85,111.11 345.09,111.05 345.32,110.98 345.56,110.91 345.79,110.84 346.03,110.77 346.27,110.70 346.50,110.63 346.74,110.56 346.97,110.50 347.21,110.43 347.44,110.36 347.68,110.29 347.91,110.22 348.15,110.15 348.38,110.08 348.62,110.02 348.85,109.95 349.09,109.88 349.32,109.81 349.56,109.74 349.79,109.67 350.03,109.60 350.26,109.54 350.50,109.47 350.73,109.40 350.97,109.33 351.20,109.26 351.43,109.19 351.67,109.12 351.90,109.05 352.14,108.99 352.37,108.92 352.61,108.85 352.84,108.78 353.07,108.71 353.31,108.64 353.54,108.57 353.78,108.51 354.01,108.44 354.24,108.37 354.48,108.30 354.71,108.23 354.94,108.16 355.18,108.09 355.41,108.02 355.64,107.96 355.88,107.89 356.11,107.82 356.35,107.75 356.58,107.68 356.81,107.61 357.05,107.54 357.28,107.48 357.51,107.41 357.75,107.34 357.98,107.27 358.21,107.20 358.44,107.13 358.68,107.06 358.91,107.00 359.14,106.93 359.38,106.86 359.61,106.79 359.84,106.72 360.08,106.65 360.31,106.58 360.54,106.51 360.78,106.45 361.01,106.38 361.24,106.31 361.47,106.24 361.71,106.17 361.94,106.10 362.17,106.03 362.41,105.97 362.64,105.90 362.87,105.83 363.10,105.76 363.34,105.69 363.57,105.62 363.80,105.55 364.04,105.49 364.27,105.42 364.50,105.35 364.73,105.28 364.97,105.21 365.20,105.14 365.43,105.07 365.67,105.00 365.90,104.94 366.13,104.87 366.36,104.80 366.60,104.73 366.83,104.66 367.07,104.59 367.30,104.52 367.54,104.46 367.77,104.39 368.01,104.32 368.24,104.25 368.48,104.18 368.71,104.11 368.95,104.04 369.19,103.97 369.42,103.91 369.66,103.84 369.89,103.77 370.13,103.70 370.36,103.63 370.60,103.56 370.83,103.49 371.07,103.43 371.30,103.36 371.54,103.29 371.77,103.22 372.01,103.15 372.25,103.08 372.48,103.01 372.72,102.95 372.95,102.88 373.19,102.81 373.42,102.74 373.66,102.67 373.89,102.60 374.13,102.53 374.37,102.46 374.60,102.40 374.84,102.33 375.07,102.26 375.31,102.19 375.54,102.12 375.78,102.05 376.02,101.98 376.25,101.92 376.49,101.85 376.72,101.78 376.96,101.71 377.20,101.64 377.43,101.57 377.67,101.50 377.91,101.43 378.14,101.37 378.38,101.30 378.61,101.23 378.85,101.16 379.09,101.09 379.32,101.02 379.56,100.95 379.80,100.89 380.03,100.82 380.27,100.75 380.51,100.68 380.74,100.61 380.98,100.54 381.22,100.47 381.45,100.41 381.69,100.34 381.93,100.27 382.17,100.20 382.40,100.13 382.64,100.06 382.88,99.99 383.12,99.92 383.35,99.86 383.59,99.79 383.83,99.72 384.07,99.65 384.30,99.58 384.54,99.51 384.78,99.44 385.02,99.38 385.26,99.31 385.49,99.24 385.73,99.17 385.97,99.10 386.21,99.03 386.45,98.96 386.69,98.90 386.93,98.83 387.17,98.76 387.40,98.69 387.64,98.62 387.88,98.55 388.12,98.48 388.36,98.41 388.60,98.35 388.84,98.28 389.08,98.21 389.32,98.14 389.56,98.07 389.80,98.00 390.04,97.93 390.28,97.87 390.52,97.80 390.76,97.73 391.00,97.66 391.24,97.59 391.48,97.52 391.73,97.45 391.97,97.38 392.21,97.32 392.45,97.25 392.69,97.18 392.93,97.11 393.18,97.04 393.42,96.97 393.66,96.90 393.90,96.84 394.14,96.77 394.39,96.70 394.63,96.63 394.87,96.56 395.12,96.49 395.36,96.42 395.60,96.36 395.85,96.29 396.09,96.22 396.34,96.15 396.58,96.08 396.83,96.01 397.07,95.94 397.32,95.87 397.56,95.81 397.81,95.74 398.05,95.67 398.30,95.60 398.54,95.53 398.79,95.46 399.04,95.39 399.28,95.33 399.53,95.26 399.78,95.19 400.03,95.12 400.28,95.05 400.52,94.98 400.77,94.91 401.02,94.84 401.27,94.78 401.52,94.71 401.77,94.64 402.02,94.57 402.27,94.50 402.52,94.43 402.77,94.36 403.02,94.30 403.28,94.23 403.53,94.16 403.78,94.09 404.03,94.02 404.29,93.95 404.54,93.88 404.79,93.82 405.05,93.75 405.30,93.68 405.56,93.61 405.81,93.54 406.07,93.47 406.33,93.40 406.59,93.33 406.84,93.27 407.10,93.20 407.36,93.13 407.62,93.06 407.88,92.99 408.14,92.92 408.40,92.85 408.66,92.79 408.92,92.72 409.19,92.65 409.45,92.58 409.72,92.51 409.98,92.44 410.25,92.37 410.51,92.31 410.78,92.24 411.05,92.17 411.32,92.10 411.58,92.03 411.86,91.96 412.13,91.89 412.40,91.82 412.67,91.76 412.95,91.69 413.22,91.62 413.50,91.55 413.77,91.48 414.05,91.41 414.33,91.34 414.61,91.28 414.89,91.21 415.18,91.14 415.46,91.07 415.75,91.00 416.03,90.93 416.32,90.86 416.61,90.79 416.91,90.73 417.20,90.66 417.50,90.59 417.79,90.52 418.09,90.45 418.39,90.38 418.70,90.31 419.00,90.25 419.31,90.18 419.62,90.11 419.94,90.04 420.25,89.97 420.57,89.90 420.89,89.83 421.22,89.77 421.55,89.70 421.88,89.63 422.22,89.56 422.56,89.49 422.90,89.42 423.25,89.35 423.61,89.28 423.97,89.22 424.34,89.15 424.71,89.08 425.09,89.01 425.48,88.94 425.88,88.87 426.28,88.80 426.70,88.74 427.13,88.67 427.58,88.60 428.03,88.53 428.51,88.46 429.01,88.39 429.53,88.32 430.09,88.25 430.68,88.19 431.32,88.12 432.03,88.05 432.84,87.98 433.81,87.91 435.14,87.84 437.40,87.81" fill="none" stroke="#e020e0" stroke-width="1.5" stroke-linejoin="round"/>
</g>
<g clip-path="url(#cb)">
<polyline points="153.60,77.31 156.18,77.27 157.40,77.20 158.33,77.13 159.11,77.07 159.81,77.00 160.44,76.93 161.02,76.86 161.57,76.79 162.09,76.72 162.58,76.65 163.06,76.59 163.51,76.52 163.95,76.45 164.38,76.38 164.80,76.31 165.20,76.24 165.60,76.17 165.99,76.10 166.36,76.04 166.74,75.97 167.10,75.90 167.46,75.83 167.82,75.76 168.17,75.69 168.51,75.62 168.85,75.56 169.19,75.49 169.52,75.42 169.85,75.35 170.17,75.28 170.49,75.21 170.81,75.14 171.13,75.07 171.44,75.01 171.75,74.94 172.06,74.87 172.36,74.80 172.67,74.73 172.97,74.66 173.27,74.59 173.56,74.53 173.86,74.46 174.15,74.39 174.44,74.32 174.73,74.25 175.02,74.18 175.31,74.11 175.59,74.05 175.88,73.98 176.16,73.91 176.44,73.84 176.72,73.77 177.00,73.70 177.28,73.63 177.56,73.56 177.83,73.50 178.11,73.43 178.38,73.36 178.65,73.29 178.93,73.22 179.20,73.15 179.47,73.08 179.74,73.02 180.01,72.95 180.27,72.88 180.54,72.81 180.81,72.74 181.07,72.67 181.34,72.60 181.60,72.53 181.86,72.47 182.13,72.40 182.39,72.33 182.65,72.26 182.91,72.19 183.17,72.12 183.43,72.05 183.69,71.99 183.95,71.92 184.21,71.85 184.47,71.78 184.72,71.71 184.98,71.64 185.24,71.57 185.49,71.51 185.75,71.44 186.00,71.37 186.26,71.30 186.51,71.23 186.76,71.16 187.02,71.09 187.27,71.02 187.52,70.96 187.77,70.89 188.03,70.82 188.28,70.75 188.53,70.68 188.78,70.61 189.03,70.54 189.28,70.48 189.53,70.41 189.78,70.34 190.03,70.27 190.28,70.20 190.52,70.13 190.77,70.06 191.02,70.00 191.27,69.93 191.52,69.86 191.76,69.79 192.01,69.72 192.26,69.65 192.50,69.58 192.75,69.51 193.00,69.45 193.24,69.38 193.49,69.31 193.73,69.24 193.98,69.17 194.22,69.10 194.47,69.03 194.71,68.97 194.96,68.90 195.20,68.83 195.44,68.76 195.69,68.69 195.93,68.62 196.17,68.55 196.42,68.48 196.66,68.42 196.90,68.35 197.15,68.28 197.39,68.21 197.63,68.14 197.87,68.07 198.11,68.00 198.36,67.94 198.60,67.87 198.84,67.80 199.08,67.73 199.32,67.66 199.56,67.59 199.80,67.52 200.04,67.46 200.29,67.39 200.53,67.32 200.77,67.25 201.01,67.18 201.25,67.11 201.49,67.04 201.73,66.97 201.97,66.91 202.21,66.84 202.45,66.77 202.69,66.70 202.93,66.63 203.16,66.56 203.40,66.49 203.64,66.43 203.88,66.36 204.12,66.29 204.36,66.22 204.60,66.15 204.84,66.08 205.08,66.01 205.31,65.94 205.55,65.88 205.79,65.81 206.03,65.74 206.27,65.67 206.50,65.60 206.74,65.53 206.98,65.46 207.22,65.40 207.46,65.33 207.69,65.26 207.93,65.19 208.17,65.12 208.41,65.05 208.64,64.98 208.88,64.92 209.12,64.85 209.35,64.78 209.59,64.71 209.83,64.64 210.07,64.57 210.30,64.50 210.54,64.43 210.78,64.37 211.01,64.30 211.25,64.23 211.49,64.16 211.72,64.09 211.96,64.02 212.20,63.95 212.43,63.89 212.67,63.82 212.90,63.75 213.14,63.68 213.38,63.61 213.61,63.54 213.85,63.47 214.09,63.41 214.32,63.34 214.56,63.27 214.79,63.20 215.03,63.13 215.27,63.06 215.50,62.99 215.74,62.92 215.97,62.86 216.21,62.79 216.44,62.72 216.68,62.65 216.92,62.58 217.15,62.51 217.39,62.44 217.62,62.38 217.86,62.31 218.09,62.24 218.33,62.17 218.57,62.10 218.80,62.03 219.04,61.96 219.27,61.89 219.51,61.83 219.74,61.76 219.98,61.69 220.21,61.62 220.45,61.55 220.68,61.48 220.92,61.41 221.15,61.35 221.39,61.28 221.63,61.21 221.86,61.14 222.10,61.07 222.33,61.00 222.57,60.93 222.80,60.87 223.04,60.80 223.27,60.73 223.51,60.66 223.74,60.59 223.98,60.52 224.21,60.45 224.45,60.38 224.68,60.32 224.92,60.25 225.16,60.18 225.39,60.11 225.63,60.04 225.86,59.97 226.10,59.90 226.34,59.84 226.57,59.77 226.81,59.70 227.05,59.63 227.28,59.56 227.52,59.49 227.75,59.42 227.99,59.35 228.23,59.29 228.46,59.22 228.70,59.15 228.94,59.08 229.17,59.01 229.41,58.94 229.64,58.87 229.88,58.81 230.12,58.74 230.35,58.67 230.59,58.60 230.83,58.53 231.06,58.46 231.30,58.39 231.54,58.33 231.77,58.26 232.01,58.19 232.25,58.12 232.48,58.05 232.72,57.98 232.95,57.91 233.19,57.84 233.43,57.78 233.67,57.71 233.90,57.64 234.14,57.57 234.38,57.50 234.61,57.43 234.85,57.36 235.09,57.30 235.32,57.23 235.56,57.16 235.80,57.09 236.04,57.02 236.27,56.95 236.51,56.88 236.75,56.82 236.98,56.75 237.22,56.68 237.46,56.61 237.70,56.54 237.93,56.47 238.17,56.40 238.41,56.33 238.65,56.27 238.89,56.20 239.12,56.13 239.36,56.06 239.60,55.99 239.84,55.92 240.08,55.85 240.31,55.79 240.55,55.72 240.79,55.65 241.03,55.58 241.27,55.51 241.51,55.44 241.74,55.37 241.98,55.30 242.22,55.24 242.46,55.17 242.70,55.10 242.94,55.03 243.18,54.96 243.42,54.89 243.66,54.82 243.90,54.76 244.14,54.69 244.38,54.62 244.61,54.55 244.85,54.48 245.09,54.41 245.33,54.34 245.57,54.28 245.81,54.21 246.06,54.14 246.30,54.07 246.54,54.00 246.78,53.93 247.02,53.86 247.26,53.79 247.50,53.73 247.74,53.66 247.98,53.59 248.22,53.52 248.46,53.45 248.71,53.38 248.95,53.31 249.19,53.25 249.43,53.18 249.67,53.11 249.92,53.04 250.16,52.97 250.40,52.90 250.65,52.83 250.89,52.76 251.13,52.70 251.37,52.63 251.62,52.56 251.86,52.49 252.11,52.42 252.35,52.35 252.59,52.28 252.84,52.22 253.08,52.15 253.33,52.08 253.57,52.01 253.82,51.94 254.06,51.87 254.31,51.80 254.55,51.74 254.80,51.67 255.05,51.60 255.29,51.53 255.54,51.46 255.79,51.39 256.03,51.32 256.28,51.25 256.53,51.19 256.78,51.12 257.02,51.05 257.27,50.98 257.52,50.91 257.77,50.84 258.02,50.77 258.27,50.71 258.52,50.64 258.77,50.57 259.02,50.50 259.27,50.43 259.52,50.36 259.77,50.29 260.02,50.23 260.28,50.16 260.53,50.09 260.78,50.02 261.03,49.95 261.29,49.88 261.54,49.81 261.79,49.74 262.05,49.68 262.30,49.61 262.56,49.54 262.82,49.47 263.07,49.40 263.33,49.33 263.59,49.26 263.84,49.20 264.10,49.13 264.36,49.06 264.62,48.99 264.88,48.92 265.14,48.85 265.40,48.78 265.66,48.71 265.92,48.65 266.19,48.58 266.45,48.51 266.71,48.44 266.98,48.37 267.24,48.30 267.51,48.23 267.77,48.17 268.04,48.10 268.31,48.03 268.58,47.96 268.85,47.89 269.12,47.82 269.39,47.75 269.66,47.69 269.93,47.62 270.21,47.55 270.48,47.48 270.76,47.41 271.03,47.34 271.31,47.27 271.59,47.20 271.87,47.14 272.15,47.07 272.43,47.00 272.72,46.93 273.00,46.86 273.29,46.79 273.58,46.72 273.87,46.66 274.16,46.59 274.45,46.52 274.74,46.45 275.04,46.38 275.34,46.31 275.64,46.24 275.94,46.17 276.24,46.11 276.55,46.04 276.86,45.97 277.17,45.90 277.48,45.83 277.80,45.76 278.11,45.69 278.44,45.63 278.76,45.56 279.09,45.49 279.42,45.42 279.76,45.35 280.09,45.28 280.44,45.21 280.79,45.15 281.14,45.08 281.50,45.01 281.86,44.94 282.23,44.87 282.61,44.80 282.99,44.73 283.38,44.66 283.79,44.60 284.20,44.53 284.62,44.46 285.05,44.39 285.50,44.32 285.96,44.25 286.44,44.18 286.95,44.12 287.47,44.05 288.03,43.98 288.63,43.91 289.27,43.84 289.98,43.77 290.78,43.70 291.74,43.63 293.03,43.57 295.50,43.53" fill="none" stroke="#e020e0" stroke-width="1.5" stroke-linejoin="round"/>
</g>
<g clip-path="url(#cb)">
<polyline points="437.40,77.31 434.82,77.27 433.60,77.20 432.67,77.13 431.89,77.07 431.19,77.00 430.56,76.93 429.98,76.86 429.43,76.79 428.91,76.72 428.42,76.65 427.94,76.59 427.49,76.52 427.05,76.45 426.62,76.38 426.20,76.31 425.80,76.24 425.40,76.17 425.01,76.10 424.64,76.04 424.26,75.97 423.90,75.90 423.54,75.83 423.18,75.76 422.83,75.69 422.49,75.62 422.15,75.56 421.81,75.49 421.48,75.42 421.15,75.35 420.83,75.28 420.51,75.21 420.19,75.14 419.87,75.07 419.56,75.01 419.25,74.94 418.94,74.87 418.64,74.80 418.33,74.73 418.03,74.66 417.73,74.59 417.44,74.53 417.14,74.46 416.85,74.39 416.56,74.32 416.27,74.25 415.98,74.18 415.69,74.11 415.41,74.05 415.12,73.98 414.84,73.91 414.56,73.84 414.28,73.77 414.00,73.70 413.72,73.63 413.44,73.56 413.17,73.50 412.89,73.43 412.62,73.36 412.35,73.29 412.07,73.22 411.80,73.15 411.53,73.08 411.26,73.02 410.99,72.95 410.73,72.88 410.46,72.81 410.19,72.74 409.93,72.67 409.66,72.60 409.40,72.53 409.14,72.47 408.87,72.40 408.61,72.33 408.35,72.26 408.09,72.19 407.83,72.12 407.57,72.05 407.31,71.99 407.05,71.92 406.79,71.85 406.53,71.78 406.28,71.71 406.02,71.64 405.76,71.57 405.51,71.51 405.25,71.44 405.00,71.37 404.74,71.30 404.49,71.23 404.24,71.16 403.98,71.09 403.73,71.02 403.48,70.96 403.23,70.89 402.97,70.82 402.72,70.75 402.47,70.68 402.22,70.61 401.97,70.54 401.72,70.48 401.47,70.41 401.22,70.34 400.97,70.27 400.72,70.20 400.48,70.13 400.23,70.06 399.98,70.00 399.73,69.93 399.48,69.86 399.24,69.79 398.99,69.72 398.74,69.65 398.50,69.58 398.25,69.51 398.00,69.45 397.76,69.38 397.51,69.31 397.27,69.24 397.02,69.17 396.78,69.10 396.53,69.03 396.29,68.97 396.04,68.90 395.80,68.83 395.56,68.76 395.31,68.69 395.07,68.62 394.83,68.55 394.58,68.48 394.34,68.42 394.10,68.35 393.85,68.28 393.61,68.21 393.37,68.14 393.13,68.07 392.89,68.00 392.64,67.94 392.40,67.87 392.16,67.80 391.92,67.73 391.68,67.66 391.44,67.59 391.20,67.52 390.96,67.46 390.71,67.39 390.47,67.32 390.23,67.25 389.99,67.18 389.75,67.11 389.51,67.04 389.27,66.97 389.03,66.91 388.79,66.84 388.55,66.77 388.31,66.70 388.07,66.63 387.84,66.56 387.60,66.49 387.36,66.43 387.12,66.36 386.88,66.29 386.64,66.22 386.40,66.15 386.16,66.08 385.92,66.01 385.69,65.94 385.45,65.88 385.21,65.81 384.97,65.74 384.73,65.67 384.50,65.60 384.26,65.53 384.02,65.46 383.78,65.40 383.54,65.33 383.31,65.26 383.07,65.19 382.83,65.12 382.59,65.05 382.36,64.98 382.12,64.92 381.88,64.85 381.65,64.78 381.41,64.71 381.17,64.64 380.93,64.57 380.70,64.50 380.46,64.43 380.22,64.37 379.99,64.30 379.75,64.23 379.51,64.16 379.28,64.09 379.04,64.02 378.80,63.95 378.57,63.89 378.33,63.82 378.10,63.75 377.86,63.68 377.62,63.61 377.39,63.54 377.15,63.47 376.91,63.41 376.68,63.34 376.44,63.27 376.21,63.20 375.97,63.13 375.73,63.06 375.50,62.99 375.26,62.92 375.03,62.86 374.79,62.79 374.56,62.72 374.32,62.65 374.08,62.58 373.85,62.51 373.61,62.44 373.38,62.38 373.14,62.31 372.91,62.24 372.67,62.17 372.43,62.10 372.20,62.03 371.96,61.96 371.73,61.89 371.49,61.83 371.26,61.76 371.02,61.69 370.79,61.62 370.55,61.55 370.32,61.48 370.08,61.41 369.85,61.35 369.61,61.28 369.37,61.21 369.14,61.14 368.90,61.07 368.67,61.00 368.43,60.93 368.20,60.87 367.96,60.80 367.73,60.73 367.49,60.66 367.26,60.59 367.02,60.52 366.79,60.45 366.55,60.38 366.32,60.32 366.08,60.25 365.84,60.18 365.61,60.11 365.37,60.04 365.14,59.97 364.90,59.90 364.66,59.84 364.43,59.77 364.19,59.70 363.95,59.63 363.72,59.56 363.48,59.49 363.25,59.42 363.01,59.35 362.77,59.29 362.54,59.22 362.30,59.15 362.06,59.08 361.83,59.01 361.59,58.94 361.36,58.87 361.12,58.81 360.88,58.74 360.65,58.67 360.41,58.60 360.17,58.53 359.94,58.46 359.70,58.39 359.46,58.33 359.23,58.26 358.99,58.19 358.75,58.12 358.52,58.05 358.28,57.98 358.05,57.91 357.81,57.84 357.57,57.78 357.33,57.71 357.10,57.64 356.86,57.57 356.62,57.50 356.39,57.43 356.15,57.36 355.91,57.30 355.68,57.23 355.44,57.16 355.20,57.09 354.96,57.02 354.73,56.95 354.49,56.88 354.25,56.82 354.02,56.75 353.78,56.68 353.54,56.61 353.30,56.54 353.07,56.47 352.83,56.40 352.59,56.33 352.35,56.27 352.11,56.20 351.88,56.13 351.64,56.06 351.40,55.99 351.16,55.92 350.92,55.85 350.69,55.79 350.45,55.72 350.21,55.65 349.97,55.58 349.73,55.51 349.49,55.44 349.26,55.37 349.02,55.30 348.78,55.24 348.54,55.17 348.30,55.10 348.06,55.03 347.82,54.96 347.58,54.89 347.34,54.82 347.10,54.76 346.86,54.69 346.62,54.62 346.39,54.55 346.15,54.48 345.91,54.41 345.67,54.34 345.43,54.28 345.19,54.21 344.94,54.14 344.70,54.07 344.46,54.00 344.22,53.93 343.98,53.86 343.74,53.79 343.50,53.73 343.26,53.66 343.02,53.59 342.78,53.52 342.54,53.45 342.29,53.38 342.05,53.31 341.81,53.25 341.57,53.18 341.33,53.11 341.08,53.04 340.84,52.97 340.60,52.90 340.35,52.83 340.11,52.76 339.87,52.70 339.63,52.63 339.38,52.56 339.14,52.49 338.89,52.42 338.65,52.35 338.41,52.28 338.16,52.22 337.92,52.15 337.67,52.08 337.43,52.01 337.18,51.94 336.94,51.87 336.69,51.80 336.45,51.74 336.20,51.67 335.95,51.60 335.71,51.53 335.46,51.46 335.21,51.39 334.97,51.32 334.72,51.25 334.47,51.19 334.22,51.12 333.98,51.05 333.73,50.98 333.48,50.91 333.23,50.84 332.98,50.77 332.73,50.71 332.48,50.64 332.23,50.57 331.98,50.50 331.73,50.43 331.48,50.36 331.23,50.29 330.98,50.23 330.72,50.16 330.47,50.09 330.22,50.02 329.97,49.95 329.71,49.88 329.46,49.81 329.21,49.74 328.95,49.68 328.70,49.61 328.44,49.54 328.18,49.47 327.93,49.40 327.67,49.33 327.41,49.26 327.16,49.20 326.90,49.13 326.64,49.06 326.38,48.99 326.12,48.92 325.86,48.85 325.60,48.78 325.34,48.71 325.08,48.65 324.81,48.58 324.55,48.51 324.29,48.44 324.02,48.37 323.76,48.30 323.49,48.23 323.23,48.17 322.96,48.10 322.69,48.03 322.42,47.96 322.15,47.89 321.88,47.82 321.61,47.75 321.34,47.69 321.07,47.62 320.79,47.55 320.52,47.48 320.24,47.41 319.97,47.34 319.69,47.27 319.41,47.20 319.13,47.14 318.85,47.07 318.57,47.00 318.28,46.93 318.00,46.86 317.71,46.79 317.42,46.72 317.13,46.66 316.84,46.59 316.55,46.52 316.26,46.45 315.96,46.38 315.66,46.31 315.36,46.24 315.06,46.17 314.76,46.11 314.45,46.04 314.14,45.97 313.83,45.90 313.52,45.83 313.20,45.76 312.89,45.69 312.56,45.63 312.24,45.56 311.91,45.49 311.58,45.42 311.24,45.35 310.91,45.28 310.56,45.21 310.21,45.15 309.86,45.08 309.50,45.01 309.14,44.94 308.77,44.87 308.39,44.80 308.01,44.73 307.62,44.66 307.21,44.60 306.80,44.53 306.38,44.46 305.95,44.39 305.50,44.32 305.04,44.25 304.56,44.18 304.05,44.12 303.53,44.05 302.97,43.98 302.37,43.91 301.73,43.84 301.02,43.77 300.22,43.70 299.26,43.63 297.97,43.57 295.50,43.53" fill="none" stroke="#e020e0" stroke-width="1.5" stroke-linejoin="round"/>
</g>
<g clip-path="url(#cb)">
<polyline points="295.50,32.75 292.91,32.72 291.66,32.65 290.71,32.58 289.92,32.51 289.22,32.45 288.58,32.38 287.98,32.31 287.43,32.24 286.90,32.17 286.40,32.10 285.92,32.03 285.46,31.97 285.02,31.90 284.58,31.83 284.16,31.76 283.75,31.69 283.35,31.62 282.96,31.55 282.58,31.48 282.20,31.42" fill="none" stroke="#e020e0" stroke-width="1.5" stroke-linejoin="round"/>
</g>
<g clip-path="url(#cb)">
<polyline points="295.50,32.75 298.09,32.72 299.34,32.65 300.29,32.58 301.08,32.51 301.78,32.45 302.42,32.38 303.02,32.31 303.57,32.24 304.10,32.17 304.60,32.10 305.08,32.03 305.54,31.97 305.98,31.90 306.42,31.83 306.84,31.76 307.25,31.69 307.65,31.62 308.04,31.55 308.42,31.48 308.80,31.42" fill="none" stroke="#e020e0" stroke-width="1.5" stroke-linejoin="round"/>
</g>
<line x1="180.60" y1="218.00" x2="196.50" y2="218.00" stroke="#e020e0" stroke-width="1.8" stroke-linecap="butt"/>
<text x="203.20" y="222.30" font-family='"Liberation Serif", serif' font-size="13" text-anchor="start" fill="#222" textLength="47" lengthAdjust="spacingAndGlyphs">TE mode</text>
<text x="295.50" y="317.00" font-family='"Liberation Serif", serif' font-size="12" text-anchor="middle" fill="#222">0</text>
<text x="429.50" y="317.00" font-family='"Liberation Serif", serif' font-size="12" text-anchor="start" fill="#222" textLength="16.8" lengthAdjust="spacingAndGlyphs">0.5</text>
<text x="208.8" y="334.8" font-family='"Liberation Sans", sans-serif' font-size="18" textLength="177" lengthAdjust="spacingAndGlyphs">Wave vector (ka/2π)</text>
<text x="168.30" y="55.30" font-family='"Liberation Sans", sans-serif' font-size="18.5" text-anchor="start" fill="#454545" font-weight="bold" textLength="20.1" lengthAdjust="spacingAndGlyphs">(b)</text>
<line x1="439.20" y1="36.50" x2="581.40" y2="36.50" stroke="#000" stroke-width="1.8" stroke-linecap="butt"/>
<line x1="439.20" y1="35.90" x2="439.20" y2="305.00" stroke="#000" stroke-width="1.5" stroke-linecap="butt"/>
<line x1="439.20" y1="305.00" x2="581.40" y2="305.00" stroke="#000" stroke-width="1.2" stroke-linecap="butt"/>
<line x1="581.40" y1="35.90" x2="581.40" y2="305.60" stroke="#000" stroke-width="1.2" stroke-linecap="butt"/>
<rect x="524.2" y="218.27" width="57.20" height="86.73" fill="#000"/>
<rect x="524.2" y="175.58" width="57.20" height="37.32" fill="#000"/>
<rect x="524.2" y="131.82" width="57.20" height="35.98" fill="#000"/>
<rect x="524.2" y="88.05" width="57.20" height="33.83" fill="#000"/>
<rect x="524.2" y="42.94" width="57.20" height="34.10" fill="#000"/>
<line x1="524.20" y1="302.85" x2="581.40" y2="302.85" stroke="#555" stroke-width="0.7" stroke-linecap="butt"/>
<line x1="524.20" y1="298.69" x2="581.40" y2="298.69" stroke="#555" stroke-width="0.7" stroke-linecap="butt"/>
<line x1="524.20" y1="294.53" x2="581.40" y2="294.53" stroke="#555" stroke-width="0.7" stroke-linecap="butt"/>
<line x1="524.20" y1="290.37" x2="581.40" y2="290.37" stroke="#555" stroke-width="0.7" stroke-linecap="butt"/>
<line x1="524.20" y1="286.20" x2="581.40" y2="286.20" stroke="#555" stroke-width="0.7" stroke-linecap="butt"/>
<line x1="524.20" y1="282.04" x2="581.40" y2="282.04" stroke="#555" stroke-width="0.7" stroke-linecap="butt"/>
<line x1="524.20" y1="277.88" x2="581.40" y2="277.88" stroke="#555" stroke-width="0.7" stroke-linecap="butt"/>
<line x1="524.20" y1="273.72" x2="581.40" y2="273.72" stroke="#555" stroke-width="0.7" stroke-linecap="butt"/>
<line x1="524.20" y1="269.56" x2="581.40" y2="269.56" stroke="#555" stroke-width="0.7" stroke-linecap="butt"/>
<line x1="524.20" y1="265.40" x2="581.40" y2="265.40" stroke="#555" stroke-width="0.7" stroke-linecap="butt"/>
<line x1="524.20" y1="261.23" x2="581.40" y2="261.23" stroke="#555" stroke-width="0.7" stroke-linecap="butt"/>
<line x1="524.20" y1="257.07" x2="581.40" y2="257.07" stroke="#555" stroke-width="0.7" stroke-linecap="butt"/>
<line x1="524.20" y1="252.91" x2="581.40" y2="252.91" stroke="#555" stroke-width="0.7" stroke-linecap="butt"/>
<line x1="524.20" y1="248.75" x2="581.40" y2="248.75" stroke="#555" stroke-width="0.7" stroke-linecap="butt"/>
<line x1="524.20" y1="244.59" x2="581.40" y2="244.59" stroke="#555" stroke-width="0.7" stroke-linecap="butt"/>
<line x1="524.20" y1="240.43" x2="581.40" y2="240.43" stroke="#555" stroke-width="0.7" stroke-linecap="butt"/>
<line x1="524.20" y1="236.26" x2="581.40" y2="236.26" stroke="#555" stroke-width="0.7" stroke-linecap="butt"/>
<line x1="524.20" y1="232.10" x2="581.40" y2="232.10" stroke="#555" stroke-width="0.7" stroke-linecap="butt"/>
<line x1="524.20" y1="227.94" x2="581.40" y2="227.94" stroke="#555" stroke-width="0.7" stroke-linecap="butt"/>
<line x1="524.20" y1="223.78" x2="581.40" y2="223.78" stroke="#555" stroke-width="0.7" stroke-linecap="butt"/>
<line x1="524.20" y1="219.62" x2="581.40" y2="219.62" stroke="#555" stroke-width="0.7" stroke-linecap="butt"/>
<line x1="524.20" y1="211.29" x2="581.40" y2="211.29" stroke="#555" stroke-width="0.7" stroke-linecap="butt"/>
<line x1="524.20" y1="207.13" x2="581.40" y2="207.13" stroke="#555" stroke-width="0.7" stroke-linecap="butt"/>
<line x1="524.20" y1="202.97" x2="581.40" y2="202.97" stroke="#555" stroke-width="0.7" stroke-linecap="butt"/>
<line x1="524.20" y1="198.81" x2="581.40" y2="198.81" stroke="#555" stroke-width="0.7" stroke-linecap="butt"/>
<line x1="524.20" y1="194.65" x2="581.40" y2="194.65" stroke="#555" stroke-width="0.7" stroke-linecap="butt"/>
<line x1="524.20" y1="190.48" x2="581.40" y2="190.48" stroke="#555" stroke-width="0.7" stroke-linecap="butt"/>
<line x1="524.20" y1="186.32" x2="581.40" y2="186.32" stroke="#555" stroke-width="0.7" stroke-linecap="butt"/>
<line x1="524.20" y1="182.16" x2="581.40" y2="182.16" stroke="#555" stroke-width="0.7" stroke-linecap="butt"/>
<line x1="524.20" y1="178.00" x2="581.40" y2="178.00" stroke="#555" stroke-width="0.7" stroke-linecap="butt"/>
<line x1="524.20" y1="165.51" x2="581.40" y2="165.51" stroke="#555" stroke-width="0.7" stroke-linecap="butt"/>
<line x1="524.20" y1="161.35" x2="581.40" y2="161.35" stroke="#555" stroke-width="0.7" stroke-linecap="butt"/>
<line x1="524.20" y1="157.19" x2="581.40" y2="157.19" stroke="#555" stroke-width="0.7" stroke-linecap="butt"/>
<line x1="524.20" y1="153.03" x2="581.40" y2="153.03" stroke="#555" stroke-width="0.7" stroke-linecap="butt"/>
<line x1="524.20" y1="148.87" x2="581.40" y2="148.87" stroke="#555" stroke-width="0.7" stroke-linecap="butt"/>
<line x1="524.20" y1="144.71" x2="581.40" y2="144.71" stroke="#555" stroke-width="0.7" stroke-linecap="butt"/>
<line x1="524.20" y1="140.54" x2="581.40" y2="140.54" stroke="#555" stroke-width="0.7" stroke-linecap="butt"/>
<line x1="524.20" y1="136.38" x2="581.40" y2="136.38" stroke="#555" stroke-width="0.7" stroke-linecap="butt"/>
<line x1="524.20" y1="119.73" x2="581.40" y2="119.73" stroke="#555" stroke-width="0.7" stroke-linecap="butt"/>
<line x1="524.20" y1="115.57" x2="581.40" y2="115.57" stroke="#555" stroke-width="0.7" stroke-linecap="butt"/>
<line x1="524.20" y1="111.41" x2="581.40" y2="111.41" stroke="#555" stroke-width="0.7" stroke-linecap="butt"/>
<line x1="524.20" y1="107.25" x2="581.40" y2="107.25" stroke="#555" stroke-width="0.7" stroke-linecap="butt"/>
<line x1="524.20" y1="103.09" x2="581.40" y2="103.09" stroke="#555" stroke-width="0.7" stroke-linecap="butt"/>
<line x1="524.20" y1="98.93" x2="581.40" y2="98.93" stroke="#555" stroke-width="0.7" stroke-linecap="butt"/>
<line x1="524.20" y1="94.76" x2="581.40" y2="94.76" stroke="#555" stroke-width="0.7" stroke-linecap="butt"/>
<line x1="524.20" y1="90.60" x2="581.40" y2="90.60" stroke="#555" stroke-width="0.7" stroke-linecap="butt"/>
<line x1="524.20" y1="73.96" x2="581.40" y2="73.96" stroke="#555" stroke-width="0.7" stroke-linecap="butt"/>
<line x1="524.20" y1="69.79" x2="581.40" y2="69.79" stroke="#555" stroke-width="0.7" stroke-linecap="butt"/>
<line x1="524.20" y1="65.63" x2="581.40" y2="65.63" stroke="#555" stroke-width="0.7" stroke-linecap="butt"/>
<line x1="524.20" y1="61.47" x2="581.40" y2="61.47" stroke="#555" stroke-width="0.7" stroke-linecap="butt"/>
<line x1="524.20" y1="57.31" x2="581.40" y2="57.31" stroke="#555" stroke-width="0.7" stroke-linecap="butt"/>
<line x1="524.20" y1="53.15" x2="581.40" y2="53.15" stroke="#555" stroke-width="0.7" stroke-linecap="butt"/>
<line x1="524.20" y1="48.99" x2="581.40" y2="48.99" stroke="#555" stroke-width="0.7" stroke-linecap="butt"/>
<line x1="524.20" y1="44.82" x2="581.40" y2="44.82" stroke="#555" stroke-width="0.7" stroke-linecap="butt"/>
<line x1="524.20" y1="259.89" x2="581.40" y2="259.89" stroke="#f4f4f4" stroke-width="1.5" stroke-linecap="butt"/>
<line x1="496.00" y1="43.00" x2="524.50" y2="43.00" stroke="#000" stroke-width="1.4" stroke-linecap="butt"/>
<line x1="467.50" y1="88.00" x2="524.50" y2="88.00" stroke="#000" stroke-width="1.4" stroke-linecap="butt"/>
<line x1="496.00" y1="121.80" x2="524.50" y2="121.80" stroke="#000" stroke-width="1.4" stroke-linecap="butt"/>
<line x1="496.00" y1="131.70" x2="524.50" y2="131.70" stroke="#000" stroke-width="1.4" stroke-linecap="butt"/>
<line x1="467.50" y1="167.70" x2="524.50" y2="167.70" stroke="#000" stroke-width="1.4" stroke-linecap="butt"/>
<line x1="467.50" y1="175.70" x2="524.50" y2="175.70" stroke="#000" stroke-width="1.4" stroke-linecap="butt"/>
<line x1="496.00" y1="213.00" x2="524.50" y2="213.00" stroke="#000" stroke-width="1.4" stroke-linecap="butt"/>
<line x1="496.00" y1="218.30" x2="524.50" y2="218.30" stroke="#000" stroke-width="1.4" stroke-linecap="butt"/>
<line x1="581.40" y1="305.00" x2="587.40" y2="305.00" stroke="#000" stroke-width="1.3" stroke-linecap="butt"/>
<text transform="translate(599.6,305.00) rotate(-90)" font-family='"Liberation Sans", sans-serif' font-size="13.5" text-anchor="middle">0</text>
<line x1="581.40" y1="278.15" x2="587.40" y2="278.15" stroke="#000" stroke-width="1.3" stroke-linecap="butt"/>
<text transform="translate(599.6,278.15) rotate(-90)" font-family='"Liberation Sans", sans-serif' font-size="13.5" text-anchor="middle">1</text>
<line x1="581.40" y1="251.30" x2="587.40" y2="251.30" stroke="#000" stroke-width="1.3" stroke-linecap="butt"/>
<text transform="translate(599.6,251.30) rotate(-90)" font-family='"Liberation Sans", sans-serif' font-size="13.5" text-anchor="middle">2</text>
<line x1="581.40" y1="224.45" x2="587.40" y2="224.45" stroke="#000" stroke-width="1.3" stroke-linecap="butt"/>
<text transform="translate(599.6,224.45) rotate(-90)" font-family='"Liberation Sans", sans-serif' font-size="13.5" text-anchor="middle">3</text>
<line x1="581.40" y1="197.60" x2="587.40" y2="197.60" stroke="#000" stroke-width="1.3" stroke-linecap="butt"/>
<text transform="translate(599.6,197.60) rotate(-90)" font-family='"Liberation Sans", sans-serif' font-size="13.5" text-anchor="middle">4</text>
<line x1="581.40" y1="170.75" x2="587.40" y2="170.75" stroke="#000" stroke-width="1.3" stroke-linecap="butt"/>
<text transform="translate(599.6,170.75) rotate(-90)" font-family='"Liberation Sans", sans-serif' font-size="13.5" text-anchor="middle">5</text>
<line x1="581.40" y1="143.90" x2="587.40" y2="143.90" stroke="#000" stroke-width="1.3" stroke-linecap="butt"/>
<text transform="translate(599.6,143.90) rotate(-90)" font-family='"Liberation Sans", sans-serif' font-size="13.5" text-anchor="middle">6</text>
<line x1="581.40" y1="117.05" x2="587.40" y2="117.05" stroke="#000" stroke-width="1.3" stroke-linecap="butt"/>
<text transform="translate(599.6,117.05) rotate(-90)" font-family='"Liberation Sans", sans-serif' font-size="13.5" text-anchor="middle">7</text>
<line x1="581.40" y1="90.20" x2="587.40" y2="90.20" stroke="#000" stroke-width="1.3" stroke-linecap="butt"/>
<text transform="translate(599.6,90.20) rotate(-90)" font-family='"Liberation Sans", sans-serif' font-size="13.5" text-anchor="middle">8</text>
<line x1="581.40" y1="63.35" x2="587.40" y2="63.35" stroke="#000" stroke-width="1.3" stroke-linecap="butt"/>
<text transform="translate(599.6,63.35) rotate(-90)" font-family='"Liberation Sans", sans-serif' font-size="13.5" text-anchor="middle">9</text>
<line x1="581.40" y1="36.50" x2="587.40" y2="36.50" stroke="#000" stroke-width="1.3" stroke-linecap="butt"/>
<text transform="translate(599.6,36.50) rotate(-90)" font-family='"Liberation Sans", sans-serif' font-size="13.5" text-anchor="middle">10</text>
<line x1="467.50" y1="305.00" x2="467.50" y2="308.50" stroke="#000" stroke-width="1.2" stroke-linecap="butt"/>
<line x1="496.00" y1="305.00" x2="496.00" y2="308.50" stroke="#000" stroke-width="1.2" stroke-linecap="butt"/>
<line x1="524.80" y1="305.00" x2="524.80" y2="308.50" stroke="#000" stroke-width="1.2" stroke-linecap="butt"/>
<line x1="553.00" y1="305.00" x2="553.00" y2="308.50" stroke="#000" stroke-width="1.2" stroke-linecap="butt"/>
<rect x="459.8" y="232" width="17.20" height="64.8" fill="#02028a"/>
<rect x="479.2" y="232" width="16.30" height="64.8" fill="#02028a"/>
<rect x="497.7" y="232" width="15.30" height="64.8" fill="#02028a"/>
<text x="485.4" y="326" font-family='"Liberation Sans", sans-serif' font-size="17" textLength="82" lengthAdjust="spacingAndGlyphs">TE DoS (a.u.)</text>
<text x="447.70" y="55.70" font-family='"Liberation Sans", sans-serif' font-size="18.5" text-anchor="start" fill="#454545" font-weight="bold" textLength="19.7" lengthAdjust="spacingAndGlyphs">(c)</text>
<text transform="translate(617,256) rotate(-90)" font-family='"Liberation Sans", sans-serif' font-size="18.5" textLength="187" lengthAdjust="spacingAndGlyphs">Frequency (x 10<tspan dy="-6" font-size="12">14</tspan><tspan dy="6"> Hz)</tspan></text>
<line x1="65.50" y1="376.50" x2="65.50" y2="638.50" stroke="#000" stroke-width="1" stroke-linecap="butt" stroke-dasharray="4,3"/>
<line x1="74.50" y1="376.50" x2="74.50" y2="638.50" stroke="#000" stroke-width="1" stroke-linecap="butt" stroke-dasharray="4,3"/>
<line x1="84.20" y1="376.50" x2="84.20" y2="638.50" stroke="#000" stroke-width="1" stroke-linecap="butt" stroke-dasharray="4,3"/>
<line x1="93.60" y1="376.50" x2="93.60" y2="638.50" stroke="#000" stroke-width="1" stroke-linecap="butt" stroke-dasharray="4,3"/>
<line x1="112.30" y1="376.50" x2="112.30" y2="638.50" stroke="#000" stroke-width="1" stroke-linecap="butt" stroke-dasharray="4,3"/>
<polyline points="66.92,376.75 67.10,377.96 67.28,379.16 67.47,380.35 67.65,381.52 67.83,382.68 68.01,383.84 68.20,384.98 68.38,386.11 68.56,387.22 68.75,388.33 68.93,389.43 69.11,390.52 69.30,391.59 69.48,392.66 69.66,393.72 69.85,394.77 70.03,395.80 70.21,396.83 70.40,397.85 70.58,398.86 70.76,399.86 70.95,400.85 71.13,401.83 71.31,402.81 71.49,403.77 71.68,404.73 71.86,405.67 72.04,406.61 72.23,407.55 72.41,408.47 72.59,409.38 72.78,410.29 72.96,411.19 73.14,412.08 73.33,412.96 73.51,413.84 73.69,414.71 73.88,415.57 74.06,416.43 74.24,417.27 74.43,418.11 74.61,418.94 74.79,419.77 74.97,420.59 75.16,421.40 75.34,422.21 75.52,423.01 75.71,423.80 75.89,424.58 76.07,425.36 76.26,426.14 76.44,426.90 76.62,427.67 76.81,428.42 76.99,429.17 77.17,429.91 77.36,430.65 77.54,431.38 77.72,432.10 77.91,432.82 78.09,433.54 78.27,434.25 78.46,434.95 78.64,435.65 78.82,436.34 79.00,437.03 79.19,437.71 79.37,438.38 79.55,439.06 79.74,439.72 79.92,440.38 80.10,441.04 80.29,441.69 80.47,442.34 80.65,442.98 80.84,443.62 81.02,444.25 81.20,444.87 81.39,445.50 81.57,446.12 81.75,446.73 81.94,447.34 82.12,447.94 82.30,448.54 82.48,449.14 82.67,449.73 82.85,450.32 83.03,450.90 83.22,451.48 83.40,452.05 83.58,452.63 83.77,453.19 83.95,453.76 84.13,454.31 84.32,454.87 84.50,455.42 84.68,455.97 84.87,456.51 85.05,457.05 85.23,457.59 85.42,458.12 85.60,458.65 85.78,459.17 85.97,459.69 86.15,460.21 86.33,460.72 86.51,461.23 86.70,461.74 86.88,462.24 87.06,462.75 87.25,463.24 87.43,463.74 87.61,464.23 87.80,464.71 87.98,465.20 88.16,465.68 88.35,466.15 88.53,466.63 88.71,467.10 88.90,467.57 89.08,468.03 89.26,468.50 89.45,468.95 89.63,469.41 89.81,469.86 89.99,470.31 90.18,470.76 90.36,471.20 90.54,471.65 90.73,472.08 90.91,472.52 91.09,472.95 91.28,473.38 91.46,473.81 91.64,474.24 91.83,474.66 92.01,475.08 92.19,475.49 92.38,475.91 92.56,476.32 92.74,476.73 92.93,477.14 93.11,477.54 93.29,477.94 93.47,478.34 93.66,478.74 93.84,479.13 94.02,479.52 94.21,479.91 94.39,480.30 94.57,480.68 94.76,481.06 94.94,481.44 95.12,481.82 95.31,482.20 95.49,482.57 95.67,482.94 95.86,483.31 96.04,483.68 96.22,484.04 96.41,484.40 96.59,484.76 96.77,485.12 96.96,485.47 97.14,485.83 97.32,486.18 97.50,486.53 97.69,486.88 97.87,487.22 98.05,487.56 98.24,487.90 98.42,488.24 98.60,488.58 98.79,488.92 98.97,489.25 99.15,489.58 99.34,489.91 99.52,490.24 99.70,490.56 99.89,490.89 100.07,491.21 100.25,491.53 100.44,491.85 100.62,492.16 100.80,492.48 100.98,492.79 101.17,493.10 101.35,493.41 101.53,493.72 101.72,494.02 101.90,494.33 102.08,494.63 102.27,494.93 102.45,495.23 102.63,495.53 102.82,495.82 103.00,496.12 103.18,496.41 103.37,496.70 103.55,496.99 103.73,497.27 103.92,497.56 104.10,497.84 104.28,498.13 104.46,498.41 104.65,498.69 104.83,498.97 105.01,499.24 105.20,499.52 105.38,499.79 105.56,500.06 105.75,500.33 105.93,500.60 106.11,500.87 106.30,501.14 106.48,501.40 106.66,501.66 106.85,501.92 107.03,502.19 107.21,502.44 107.40,502.70 107.58,502.96 107.76,503.21 107.95,503.47 108.13,503.72 108.31,503.97 108.49,504.22 108.68,504.47 108.86,504.71 109.04,504.96 109.23,505.20 109.41,505.45 109.59,505.69 109.78,505.93 109.96,506.17 110.14,506.40 110.33,506.64 110.51,506.88 110.69,507.11 110.88,507.34 111.06,507.57 111.24,507.80 111.43,508.03 111.61,508.26 111.79,508.49 111.97,508.71 112.16,508.94 112.34,509.16 112.52,509.38 112.71,509.60 112.89,509.82 113.07,510.04 113.26,510.26 113.44,510.48 113.62,510.69 113.81,510.90 113.99,511.12 114.17,511.33 114.36,511.54 114.54,511.75 114.72,511.96 114.91,512.17 115.09,512.37 115.27,512.58 115.45,512.78 115.64,512.99 115.82,513.19 116.00,513.39 116.19,513.59 116.37,513.79 116.55,513.99 116.74,514.19 116.92,514.38 117.10,514.58 117.29,514.77 117.47,514.96 117.65,515.16 117.84,515.35 118.02,515.54 118.20,515.73 118.39,515.92 118.57,516.10 118.75,516.29 118.94,516.48 119.12,516.66 119.30,516.84 119.48,517.03 119.67,517.21 119.85,517.39 120.03,517.57 120.22,517.75 120.40,517.93 120.58,518.10 120.77,518.28 120.95,518.46 121.13,518.63 121.32,518.81 121.50,518.98 121.68,519.15 121.87,519.32 122.05,519.49 122.23,519.66 122.42,519.83 122.60,520.00 122.78,520.17 122.96,520.33 123.15,520.50 123.33,520.66 123.51,520.83 123.70,520.99 123.88,521.15 124.06,521.31 124.25,521.47 124.43,521.63 124.61,521.79 124.80,521.95 124.98,522.11 125.16,522.26 125.35,522.42 125.53,522.57 125.71,522.73 125.90,522.88 126.08,523.04 126.26,523.19 126.44,523.34 126.63,523.49 126.81,523.64 126.99,523.79 127.18,523.94 127.36,524.08 127.54,524.23 127.73,524.38 127.91,524.52 128.09,524.67 128.28,524.81 128.46,524.95 128.64,525.10 128.83,525.24 129.01,525.38 129.19,525.52 129.38,525.66 129.56,525.80 129.74,525.94 129.93,526.08 130.11,526.21 130.29,526.35 130.47,526.48 130.66,526.62 130.84,526.75 131.02,526.89 131.21,527.02 131.39,527.15 131.57,527.28 131.76,527.42 131.94,527.55 132.12,527.68 132.31,527.81 132.49,527.93 132.67,528.06 132.86,528.19 133.04,528.32 133.22,528.44 133.41,528.57 133.59,528.69 133.77,528.82 133.95,528.94 134.14,529.06 134.32,529.18 134.50,529.31 134.69,529.43 134.87,529.55 135.05,529.67 135.24,529.79 135.42,529.91 135.60,530.02 135.79,530.14 135.97,530.26 136.15,530.37 136.34,530.49 136.52,530.61 136.70,530.72 136.89,530.83 137.07,530.95 137.25,531.06 137.43,531.17 137.62,531.29 137.80,531.40 137.98,531.51 138.17,531.62 138.35,531.73 138.53,531.84 138.72,531.94 138.90,532.05 139.08,532.16 139.27,532.27 139.45,532.37 139.63,532.48 139.82,532.58 140.00,532.69 140.18,532.79 140.37,532.90 140.55,533.00 140.73,533.10 140.92,533.21 141.10,533.31 141.28,533.41 141.46,533.51 141.65,533.61 141.83,533.71 142.01,533.81 142.20,533.91 142.38,534.00 142.56,534.10 142.75,534.20 142.93,534.29 143.11,534.39 143.30,534.49 143.48,534.58 143.66,534.68 143.85,534.77 144.03,534.86 144.21,534.96 144.40,535.05 144.58,535.14 144.76,535.23 144.94,535.32 145.13,535.42 145.31,535.51 145.49,535.60 145.68,535.68 145.86,535.77 146.04,535.86 146.23,535.95 146.41,536.04 146.59,536.12 146.78,536.21 146.96,536.30 147.14,536.38 147.33,536.47 147.51,536.55 147.69,536.64 147.88,536.72 148.06,536.80 148.24,536.89 148.42,536.97 148.61,537.05 148.79,537.13 148.97,537.21 149.16,537.29 149.34,537.37 149.52,537.45 149.71,537.53 149.89,537.61 150.07,537.69 150.26,537.77 150.44,537.85 150.62,537.92 150.81,538.00 150.99,538.08 151.17,538.15 151.36,538.23 151.54,538.30 151.72,538.38 151.91,538.45 152.09,538.53 152.27,538.60 152.45,538.67 152.64,538.75 152.82,538.82 153.00,538.89 153.19,538.96 153.37,539.03 153.55,539.10 153.74,539.17 153.92,539.24 154.10,539.31 154.29,539.38 154.47,539.45 154.65,539.52 154.84,539.59 155.02,539.66 155.20,539.72 155.39,539.79 155.57,539.86 155.75,539.92 155.93,539.99 156.12,540.05 156.30,540.12 156.48,540.18 156.67,540.24 156.85,540.31 157.03,540.37 157.22,540.43 157.40,540.50" fill="none" stroke="#000" stroke-width="1.6" stroke-linejoin="round"/>
<polyline points="110.88,376.18 111.06,376.65 111.24,377.11 111.43,377.57 111.61,378.02 111.79,378.48 111.97,378.93 112.16,379.37 112.34,379.82 112.52,380.27 112.71,380.71 112.89,381.15 113.07,381.58 113.26,382.02 113.44,382.45 113.62,382.88 113.81,383.31 113.99,383.74 114.17,384.16 114.36,384.58 114.54,385.00 114.72,385.42 114.91,385.83 115.09,386.25 115.27,386.66 115.45,387.07 115.64,387.47 115.82,387.88 116.00,388.28 116.19,388.68 116.37,389.08 116.55,389.48 116.74,389.87 116.92,390.26 117.10,390.65 117.29,391.04 117.47,391.43 117.65,391.81 117.84,392.20 118.02,392.58 118.20,392.96 118.39,393.33 118.57,393.71 118.75,394.08 118.94,394.45 119.12,394.82 119.30,395.19 119.48,395.55 119.67,395.92 119.85,396.28 120.03,396.64 120.22,397.00 120.40,397.35 120.58,397.71 120.77,398.06 120.95,398.41 121.13,398.76 121.32,399.11 121.50,399.46 121.68,399.80 121.87,400.14 122.05,400.48 122.23,400.82 122.42,401.16 122.60,401.50 122.78,401.83 122.96,402.16 123.15,402.49 123.33,402.82 123.51,403.15 123.70,403.48 123.88,403.80 124.06,404.12 124.25,404.45 124.43,404.76 124.61,405.08 124.80,405.40 124.98,405.71 125.16,406.03 125.35,406.34 125.53,406.65 125.71,406.96 125.90,407.26 126.08,407.57 126.26,407.87 126.44,408.18 126.63,408.48 126.81,408.78 126.99,409.08 127.18,409.37 127.36,409.67 127.54,409.96 127.73,410.25 127.91,410.54 128.09,410.83 128.28,411.12 128.46,411.41 128.64,411.69 128.83,411.98 129.01,412.26 129.19,412.54 129.38,412.82 129.56,413.10 129.74,413.37 129.93,413.65 130.11,413.92 130.29,414.20 130.47,414.47 130.66,414.74 130.84,415.01 131.02,415.27 131.21,415.54 131.39,415.81 131.57,416.07 131.76,416.33 131.94,416.59 132.12,416.85 132.31,417.11 132.49,417.37 132.67,417.62 132.86,417.88 133.04,418.13 133.22,418.38 133.41,418.63 133.59,418.88 133.77,419.13 133.95,419.38 134.14,419.62 134.32,419.87 134.50,420.11 134.69,420.35 134.87,420.60 135.05,420.84 135.24,421.07 135.42,421.31 135.60,421.55 135.79,421.78 135.97,422.02 136.15,422.25 136.34,422.48 136.52,422.71 136.70,422.94 136.89,423.17 137.07,423.40 137.25,423.62 137.43,423.85 137.62,424.07 137.80,424.29 137.98,424.51 138.17,424.74 138.35,424.95 138.53,425.17 138.72,425.39 138.90,425.61 139.08,425.82 139.27,426.03 139.45,426.25 139.63,426.46 139.82,426.67 140.00,426.88 140.18,427.09 140.37,427.29 140.55,427.50 140.73,427.71 140.92,427.91 141.10,428.11 141.28,428.32 141.46,428.52 141.65,428.72 141.83,428.92 142.01,429.11 142.20,429.31 142.38,429.51 142.56,429.70 142.75,429.90 142.93,430.09 143.11,430.28 143.30,430.47 143.48,430.66 143.66,430.85 143.85,431.04 144.03,431.23 144.21,431.41 144.40,431.60 144.58,431.78 144.76,431.97 144.94,432.15 145.13,432.33 145.31,432.51 145.49,432.69 145.68,432.87 145.86,433.05 146.04,433.22 146.23,433.40 146.41,433.57 146.59,433.75 146.78,433.92 146.96,434.09 147.14,434.26 147.33,434.44 147.51,434.60 147.69,434.77 147.88,434.94 148.06,435.11 148.24,435.27 148.42,435.44 148.61,435.60 148.79,435.77 148.97,435.93 149.16,436.09 149.34,436.25 149.52,436.41 149.71,436.57 149.89,436.73 150.07,436.88 150.26,437.04 150.44,437.19 150.62,437.35 150.81,437.50 150.99,437.66 151.17,437.81 151.36,437.96 151.54,438.11 151.72,438.26 151.91,438.41 152.09,438.56 152.27,438.70 152.45,438.85 152.64,438.99 152.82,439.14 153.00,439.28 153.19,439.43 153.37,439.57 153.55,439.71 153.74,439.85 153.92,439.99 154.10,440.13 154.29,440.27 154.47,440.40 154.65,440.54 154.84,440.68 155.02,440.81 155.20,440.94 155.39,441.08 155.57,441.21 155.75,441.34 155.93,441.47 156.12,441.60 156.30,441.73 156.48,441.86 156.67,441.99 156.85,442.12 157.03,442.24 157.22,442.37 157.40,442.49" fill="none" stroke="#e0141e" stroke-width="1.6" stroke-linejoin="round"/>
<polyline points="65.20,446.00 76.14,446.70 74.88,447.40 73.39,448.10 71.64,448.80 74.04,449.50 75.94,450.20 77.10,450.90 78.95,451.60 78.92,452.30 77.31,453.00 77.14,453.70 76.60,454.40 74.32,455.10 75.01,455.80 74.69,456.50 76.56,457.20 77.97,457.90 82.13,458.60 83.17,459.30 84.90,460.00 85.68,460.70 85.68,461.40 87.62,462.10 91.83,462.80 93.28,463.50 100.82,464.20 100.62,464.90 101.79,465.60 107.35,466.30 106.12,467.00 110.81,467.70 105.19,468.40 102.44,469.10 98.14,469.80 98.92,470.50 98.83,471.20 99.49,471.90 105.03,472.60 102.00,473.30 103.15,474.00 98.72,474.70 100.94,475.40 98.99,476.10 96.72,476.80 97.44,477.50 98.10,478.20 100.42,478.90 98.96,479.60 102.31,480.30 105.64,481.00 104.84,481.70 110.78,482.40 112.94,483.10 112.88,483.80 111.66,484.50 109.76,485.20 107.10,485.90 107.81,486.60 104.23,487.30 104.30,488.00 106.50,488.70 111.49,489.40 114.36,490.10 111.18,490.80 110.46,491.50 110.05,492.20 110.34,492.90 107.01,493.60 108.99,494.30 109.78,495.00 111.16,495.70 110.00,496.40 111.00,497.10 112.94,497.80 117.14,498.50 115.63,499.20 118.29,499.90 118.23,500.60 117.32,501.30 115.49,502.00 117.60,502.70 115.79,503.40 112.74,504.10 116.85,504.80 119.38,505.50 123.06,506.20 125.92,506.90 127.99,507.60 136.10,508.30 141.16,509.00 144.27,509.70 150.18,510.40 152.38,511.10 141.70,511.80 122.16,512.50 116.13,513.20 110.05,513.90 107.84,514.60 107.62,515.30 105.55,516.00 102.86,516.70 101.72,517.40 97.85,518.10 96.47,518.80 94.98,519.50 93.72,520.20 91.56,520.90 89.75,521.60 88.83,522.30 88.60,523.00 87.24,523.70 85.10,524.40 82.89,525.10 80.76,525.80 80.75,526.50 78.01,527.20 76.79,527.90 73.41,528.60 72.14,529.30 71.94,530.00 70.13,530.70 68.63,531.40 66.50,531.90" fill="none" stroke="#148c14" stroke-width="2.8" stroke-linejoin="round"/>
<line x1="61.39" y1="446.00" x2="69.00" y2="446.00" stroke="#148c14" stroke-width="1.3" stroke-linecap="butt"/>
<line x1="71.61" y1="447.40" x2="78.16" y2="447.40" stroke="#148c14" stroke-width="1.3" stroke-linecap="butt"/>
<line x1="67.90" y1="448.80" x2="75.38" y2="448.80" stroke="#148c14" stroke-width="1.3" stroke-linecap="butt"/>
<line x1="71.39" y1="450.20" x2="80.49" y2="450.20" stroke="#148c14" stroke-width="1.3" stroke-linecap="butt"/>
<line x1="76.02" y1="451.60" x2="81.87" y2="451.60" stroke="#148c14" stroke-width="1.3" stroke-linecap="butt"/>
<line x1="73.70" y1="453.00" x2="80.91" y2="453.00" stroke="#148c14" stroke-width="1.3" stroke-linecap="butt"/>
<line x1="73.78" y1="454.40" x2="79.43" y2="454.40" stroke="#148c14" stroke-width="1.3" stroke-linecap="butt"/>
<line x1="70.70" y1="455.80" x2="79.31" y2="455.80" stroke="#148c14" stroke-width="1.3" stroke-linecap="butt"/>
<line x1="74.53" y1="457.20" x2="78.59" y2="457.20" stroke="#148c14" stroke-width="1.3" stroke-linecap="butt"/>
<line x1="78.07" y1="458.60" x2="86.18" y2="458.60" stroke="#148c14" stroke-width="1.3" stroke-linecap="butt"/>
<line x1="80.04" y1="460.00" x2="89.76" y2="460.00" stroke="#148c14" stroke-width="1.3" stroke-linecap="butt"/>
<line x1="83.61" y1="461.40" x2="87.75" y2="461.40" stroke="#148c14" stroke-width="1.3" stroke-linecap="butt"/>
<line x1="86.66" y1="462.80" x2="97.00" y2="462.80" stroke="#148c14" stroke-width="1.3" stroke-linecap="butt"/>
<line x1="95.42" y1="464.20" x2="106.22" y2="464.20" stroke="#148c14" stroke-width="1.3" stroke-linecap="butt"/>
<line x1="95.46" y1="465.60" x2="108.13" y2="465.60" stroke="#148c14" stroke-width="1.3" stroke-linecap="butt"/>
<line x1="100.99" y1="467.00" x2="111.25" y2="467.00" stroke="#148c14" stroke-width="1.3" stroke-linecap="butt"/>
<line x1="101.53" y1="468.40" x2="108.85" y2="468.40" stroke="#148c14" stroke-width="1.3" stroke-linecap="butt"/>
<line x1="93.82" y1="469.80" x2="102.47" y2="469.80" stroke="#148c14" stroke-width="1.3" stroke-linecap="butt"/>
<line x1="92.02" y1="471.20" x2="105.65" y2="471.20" stroke="#148c14" stroke-width="1.3" stroke-linecap="butt"/>
<line x1="98.45" y1="472.60" x2="111.60" y2="472.60" stroke="#148c14" stroke-width="1.3" stroke-linecap="butt"/>
<line x1="100.05" y1="474.00" x2="106.25" y2="474.00" stroke="#148c14" stroke-width="1.3" stroke-linecap="butt"/>
<line x1="98.02" y1="475.40" x2="103.87" y2="475.40" stroke="#148c14" stroke-width="1.3" stroke-linecap="butt"/>
<line x1="93.80" y1="476.80" x2="99.65" y2="476.80" stroke="#148c14" stroke-width="1.3" stroke-linecap="butt"/>
<line x1="95.49" y1="478.20" x2="100.72" y2="478.20" stroke="#148c14" stroke-width="1.3" stroke-linecap="butt"/>
<line x1="94.45" y1="479.60" x2="103.47" y2="479.60" stroke="#148c14" stroke-width="1.3" stroke-linecap="butt"/>
<line x1="102.50" y1="481.00" x2="108.77" y2="481.00" stroke="#148c14" stroke-width="1.3" stroke-linecap="butt"/>
<line x1="104.38" y1="482.40" x2="117.19" y2="482.40" stroke="#148c14" stroke-width="1.3" stroke-linecap="butt"/>
<line x1="107.43" y1="483.80" x2="118.33" y2="483.80" stroke="#148c14" stroke-width="1.3" stroke-linecap="butt"/>
<line x1="106.69" y1="485.20" x2="112.83" y2="485.20" stroke="#148c14" stroke-width="1.3" stroke-linecap="butt"/>
<line x1="102.88" y1="486.60" x2="112.73" y2="486.60" stroke="#148c14" stroke-width="1.3" stroke-linecap="butt"/>
<line x1="100.34" y1="488.00" x2="108.26" y2="488.00" stroke="#148c14" stroke-width="1.3" stroke-linecap="butt"/>
<line x1="106.77" y1="489.40" x2="116.21" y2="489.40" stroke="#148c14" stroke-width="1.3" stroke-linecap="butt"/>
<line x1="107.69" y1="490.80" x2="114.67" y2="490.80" stroke="#148c14" stroke-width="1.3" stroke-linecap="butt"/>
<line x1="106.80" y1="492.20" x2="113.30" y2="492.20" stroke="#148c14" stroke-width="1.3" stroke-linecap="butt"/>
<line x1="103.68" y1="493.60" x2="110.34" y2="493.60" stroke="#148c14" stroke-width="1.3" stroke-linecap="butt"/>
<line x1="105.58" y1="495.00" x2="113.98" y2="495.00" stroke="#148c14" stroke-width="1.3" stroke-linecap="butt"/>
<line x1="104.31" y1="496.40" x2="115.70" y2="496.40" stroke="#148c14" stroke-width="1.3" stroke-linecap="butt"/>
<line x1="107.97" y1="497.80" x2="117.92" y2="497.80" stroke="#148c14" stroke-width="1.3" stroke-linecap="butt"/>
<line x1="112.93" y1="499.20" x2="118.34" y2="499.20" stroke="#148c14" stroke-width="1.3" stroke-linecap="butt"/>
<line x1="112.53" y1="500.60" x2="123.93" y2="500.60" stroke="#148c14" stroke-width="1.3" stroke-linecap="butt"/>
<line x1="109.06" y1="502.00" x2="121.93" y2="502.00" stroke="#148c14" stroke-width="1.3" stroke-linecap="butt"/>
<line x1="109.80" y1="503.40" x2="121.77" y2="503.40" stroke="#148c14" stroke-width="1.3" stroke-linecap="butt"/>
<line x1="110.79" y1="504.80" x2="122.91" y2="504.80" stroke="#148c14" stroke-width="1.3" stroke-linecap="butt"/>
<line x1="120.52" y1="506.20" x2="125.60" y2="506.20" stroke="#148c14" stroke-width="1.3" stroke-linecap="butt"/>
<line x1="123.40" y1="507.60" x2="132.58" y2="507.60" stroke="#148c14" stroke-width="1.3" stroke-linecap="butt"/>
<line x1="138.38" y1="509.00" x2="143.95" y2="509.00" stroke="#148c14" stroke-width="1.3" stroke-linecap="butt"/>
<line x1="145.38" y1="510.40" x2="154.97" y2="510.40" stroke="#148c14" stroke-width="1.3" stroke-linecap="butt"/>
<line x1="138.68" y1="511.80" x2="144.73" y2="511.80" stroke="#148c14" stroke-width="1.3" stroke-linecap="butt"/>
<line x1="111.50" y1="513.20" x2="120.77" y2="513.20" stroke="#148c14" stroke-width="1.3" stroke-linecap="butt"/>
<line x1="104.58" y1="514.60" x2="111.10" y2="514.60" stroke="#148c14" stroke-width="1.3" stroke-linecap="butt"/>
<line x1="100.96" y1="516.00" x2="110.14" y2="516.00" stroke="#148c14" stroke-width="1.3" stroke-linecap="butt"/>
<line x1="98.28" y1="517.40" x2="105.16" y2="517.40" stroke="#148c14" stroke-width="1.3" stroke-linecap="butt"/>
<line x1="93.85" y1="518.80" x2="99.10" y2="518.80" stroke="#148c14" stroke-width="1.3" stroke-linecap="butt"/>
<line x1="90.06" y1="520.20" x2="97.39" y2="520.20" stroke="#148c14" stroke-width="1.3" stroke-linecap="butt"/>
<line x1="86.32" y1="521.60" x2="93.18" y2="521.60" stroke="#148c14" stroke-width="1.3" stroke-linecap="butt"/>
<line x1="83.40" y1="523.00" x2="93.81" y2="523.00" stroke="#148c14" stroke-width="1.3" stroke-linecap="butt"/>
<line x1="81.72" y1="524.40" x2="88.49" y2="524.40" stroke="#148c14" stroke-width="1.3" stroke-linecap="butt"/>
<line x1="76.75" y1="525.80" x2="84.77" y2="525.80" stroke="#148c14" stroke-width="1.3" stroke-linecap="butt"/>
<line x1="73.86" y1="527.20" x2="82.16" y2="527.20" stroke="#148c14" stroke-width="1.3" stroke-linecap="butt"/>
<line x1="68.06" y1="528.60" x2="78.75" y2="528.60" stroke="#148c14" stroke-width="1.3" stroke-linecap="butt"/>
<line x1="69.14" y1="530.00" x2="74.73" y2="530.00" stroke="#148c14" stroke-width="1.3" stroke-linecap="butt"/>
<line x1="64.33" y1="531.40" x2="72.94" y2="531.40" stroke="#148c14" stroke-width="1.3" stroke-linecap="butt"/>
<line x1="47.50" y1="375.70" x2="47.50" y2="639.30" stroke="#000" stroke-width="1.8" stroke-linecap="butt"/>
<line x1="46.60" y1="638.50" x2="157.40" y2="638.50" stroke="#000" stroke-width="1.6" stroke-linecap="butt"/>
<line x1="46.60" y1="376.50" x2="431.50" y2="376.50" stroke="#000" stroke-width="1.5" stroke-linecap="butt"/>
<line x1="157.40" y1="376.50" x2="157.40" y2="639.30" stroke="#000" stroke-width="2.4" stroke-linecap="butt"/>
<line x1="47.50" y1="625.40" x2="51.50" y2="625.40" stroke="#000" stroke-width="1.3" stroke-linecap="butt"/>
<line x1="153.40" y1="625.40" x2="160.40" y2="625.40" stroke="#000" stroke-width="1.3" stroke-linecap="butt"/>
<line x1="47.50" y1="612.30" x2="55.50" y2="612.30" stroke="#000" stroke-width="1.3" stroke-linecap="butt"/>
<line x1="149.40" y1="612.30" x2="162.40" y2="612.30" stroke="#000" stroke-width="1.3" stroke-linecap="butt"/>
<line x1="47.50" y1="599.20" x2="51.50" y2="599.20" stroke="#000" stroke-width="1.3" stroke-linecap="butt"/>
<line x1="153.40" y1="599.20" x2="160.40" y2="599.20" stroke="#000" stroke-width="1.3" stroke-linecap="butt"/>
<line x1="47.50" y1="586.10" x2="55.50" y2="586.10" stroke="#000" stroke-width="1.3" stroke-linecap="butt"/>
<line x1="149.40" y1="586.10" x2="162.40" y2="586.10" stroke="#000" stroke-width="1.3" stroke-linecap="butt"/>
<line x1="47.50" y1="573.00" x2="51.50" y2="573.00" stroke="#000" stroke-width="1.3" stroke-linecap="butt"/>
<line x1="153.40" y1="573.00" x2="160.40" y2="573.00" stroke="#000" stroke-width="1.3" stroke-linecap="butt"/>
<line x1="47.50" y1="559.90" x2="55.50" y2="559.90" stroke="#000" stroke-width="1.3" stroke-linecap="butt"/>
<line x1="149.40" y1="559.90" x2="162.40" y2="559.90" stroke="#000" stroke-width="1.3" stroke-linecap="butt"/>
<line x1="47.50" y1="546.80" x2="51.50" y2="546.80" stroke="#000" stroke-width="1.3" stroke-linecap="butt"/>
<line x1="153.40" y1="546.80" x2="160.40" y2="546.80" stroke="#000" stroke-width="1.3" stroke-linecap="butt"/>
<line x1="47.50" y1="533.70" x2="55.50" y2="533.70" stroke="#000" stroke-width="1.3" stroke-linecap="butt"/>
<line x1="149.40" y1="533.70" x2="162.40" y2="533.70" stroke="#000" stroke-width="1.3" stroke-linecap="butt"/>
<line x1="47.50" y1="520.60" x2="51.50" y2="520.60" stroke="#000" stroke-width="1.3" stroke-linecap="butt"/>
<line x1="153.40" y1="520.60" x2="160.40" y2="520.60" stroke="#000" stroke-width="1.3" stroke-linecap="butt"/>
<line x1="47.50" y1="507.50" x2="55.50" y2="507.50" stroke="#000" stroke-width="1.3" stroke-linecap="butt"/>
<line x1="149.40" y1="507.50" x2="162.40" y2="507.50" stroke="#000" stroke-width="1.3" stroke-linecap="butt"/>
<line x1="47.50" y1="494.40" x2="51.50" y2="494.40" stroke="#000" stroke-width="1.3" stroke-linecap="butt"/>
<line x1="153.40" y1="494.40" x2="160.40" y2="494.40" stroke="#000" stroke-width="1.3" stroke-linecap="butt"/>
<line x1="47.50" y1="481.30" x2="55.50" y2="481.30" stroke="#000" stroke-width="1.3" stroke-linecap="butt"/>
<line x1="149.40" y1="481.30" x2="162.40" y2="481.30" stroke="#000" stroke-width="1.3" stroke-linecap="butt"/>
<line x1="47.50" y1="468.20" x2="51.50" y2="468.20" stroke="#000" stroke-width="1.3" stroke-linecap="butt"/>
<line x1="153.40" y1="468.20" x2="160.40" y2="468.20" stroke="#000" stroke-width="1.3" stroke-linecap="butt"/>
<line x1="47.50" y1="455.10" x2="55.50" y2="455.10" stroke="#000" stroke-width="1.3" stroke-linecap="butt"/>
<line x1="149.40" y1="455.10" x2="162.40" y2="455.10" stroke="#000" stroke-width="1.3" stroke-linecap="butt"/>
<line x1="47.50" y1="442.00" x2="51.50" y2="442.00" stroke="#000" stroke-width="1.3" stroke-linecap="butt"/>
<line x1="153.40" y1="442.00" x2="160.40" y2="442.00" stroke="#000" stroke-width="1.3" stroke-linecap="butt"/>
<line x1="47.50" y1="428.90" x2="55.50" y2="428.90" stroke="#000" stroke-width="1.3" stroke-linecap="butt"/>
<line x1="149.40" y1="428.90" x2="162.40" y2="428.90" stroke="#000" stroke-width="1.3" stroke-linecap="butt"/>
<line x1="47.50" y1="415.80" x2="51.50" y2="415.80" stroke="#000" stroke-width="1.3" stroke-linecap="butt"/>
<line x1="153.40" y1="415.80" x2="160.40" y2="415.80" stroke="#000" stroke-width="1.3" stroke-linecap="butt"/>
<line x1="47.50" y1="402.70" x2="55.50" y2="402.70" stroke="#000" stroke-width="1.3" stroke-linecap="butt"/>
<line x1="149.40" y1="402.70" x2="162.40" y2="402.70" stroke="#000" stroke-width="1.3" stroke-linecap="butt"/>
<line x1="47.50" y1="389.60" x2="51.50" y2="389.60" stroke="#000" stroke-width="1.3" stroke-linecap="butt"/>
<line x1="153.40" y1="389.60" x2="160.40" y2="389.60" stroke="#000" stroke-width="1.3" stroke-linecap="butt"/>
<line x1="61.24" y1="638.50" x2="61.24" y2="634.50" stroke="#000" stroke-width="1.3" stroke-linecap="butt"/>
<line x1="74.97" y1="638.50" x2="74.97" y2="630.50" stroke="#000" stroke-width="1.3" stroke-linecap="butt"/>
<line x1="88.71" y1="638.50" x2="88.71" y2="634.50" stroke="#000" stroke-width="1.3" stroke-linecap="butt"/>
<line x1="102.45" y1="638.50" x2="102.45" y2="630.50" stroke="#000" stroke-width="1.3" stroke-linecap="butt"/>
<line x1="116.19" y1="638.50" x2="116.19" y2="634.50" stroke="#000" stroke-width="1.3" stroke-linecap="butt"/>
<line x1="129.93" y1="638.50" x2="129.93" y2="630.50" stroke="#000" stroke-width="1.3" stroke-linecap="butt"/>
<line x1="143.66" y1="638.50" x2="143.66" y2="634.50" stroke="#000" stroke-width="1.3" stroke-linecap="butt"/>
<line x1="56.66" y1="376.50" x2="56.66" y2="379.50" stroke="#000" stroke-width="1.3" stroke-linecap="butt"/>
<line x1="65.82" y1="376.50" x2="65.82" y2="382.50" stroke="#000" stroke-width="1.3" stroke-linecap="butt"/>
<line x1="74.97" y1="376.50" x2="74.97" y2="379.50" stroke="#000" stroke-width="1.3" stroke-linecap="butt"/>
<line x1="84.13" y1="376.50" x2="84.13" y2="382.50" stroke="#000" stroke-width="1.3" stroke-linecap="butt"/>
<line x1="93.29" y1="376.50" x2="93.29" y2="379.50" stroke="#000" stroke-width="1.3" stroke-linecap="butt"/>
<line x1="102.45" y1="376.50" x2="102.45" y2="382.50" stroke="#000" stroke-width="1.3" stroke-linecap="butt"/>
<line x1="111.61" y1="376.50" x2="111.61" y2="379.50" stroke="#000" stroke-width="1.3" stroke-linecap="butt"/>
<line x1="120.77" y1="376.50" x2="120.77" y2="382.50" stroke="#000" stroke-width="1.3" stroke-linecap="butt"/>
<line x1="129.93" y1="376.50" x2="129.93" y2="379.50" stroke="#000" stroke-width="1.3" stroke-linecap="butt"/>
<line x1="139.08" y1="376.50" x2="139.08" y2="382.50" stroke="#000" stroke-width="1.3" stroke-linecap="butt"/>
<line x1="148.24" y1="376.50" x2="148.24" y2="379.50" stroke="#000" stroke-width="1.3" stroke-linecap="butt"/>
<text x="43.30" y="642.50" font-family='"Liberation Serif", serif' font-size="12" text-anchor="end" fill="#222">0</text>
<text x="43.30" y="616.30" font-family='"Liberation Serif", serif' font-size="12" text-anchor="end" fill="#222">1</text>
<text x="43.30" y="590.10" font-family='"Liberation Serif", serif' font-size="12" text-anchor="end" fill="#222">2</text>
<text x="43.30" y="563.90" font-family='"Liberation Serif", serif' font-size="12" text-anchor="end" fill="#222">3</text>
<text x="43.30" y="537.70" font-family='"Liberation Serif", serif' font-size="12" text-anchor="end" fill="#222">4</text>
<text x="43.30" y="511.50" font-family='"Liberation Serif", serif' font-size="12" text-anchor="end" fill="#222">5</text>
<text x="43.30" y="485.30" font-family='"Liberation Serif", serif' font-size="12" text-anchor="end" fill="#222">6</text>
<text x="43.30" y="459.10" font-family='"Liberation Serif", serif' font-size="12" text-anchor="end" fill="#222">7</text>
<text x="43.30" y="432.90" font-family='"Liberation Serif", serif' font-size="12" text-anchor="end" fill="#222">8</text>
<text x="43.30" y="406.70" font-family='"Liberation Serif", serif' font-size="12" text-anchor="end" fill="#222">9</text>
<text x="43.30" y="380.50" font-family='"Liberation Serif", serif' font-size="12" text-anchor="end" fill="#222">10</text>
<text x="47.50" y="650.00" font-family='"Liberation Serif", serif' font-size="12" text-anchor="middle" fill="#222">0</text>
<text x="74.97" y="650.00" font-family='"Liberation Serif", serif' font-size="12" text-anchor="middle" fill="#222">1</text>
<text x="102.45" y="650.00" font-family='"Liberation Serif", serif' font-size="12" text-anchor="middle" fill="#222">2</text>
<text x="129.93" y="650.00" font-family='"Liberation Serif", serif' font-size="12" text-anchor="middle" fill="#222">3</text>
<text x="157.40" y="650.00" font-family='"Liberation Serif", serif' font-size="12" text-anchor="middle" fill="#222">4</text>
<text x="47.50" y="370.30" font-family='"Liberation Serif", serif' font-size="12.5" text-anchor="middle" fill="#222">10</text>
<text x="65.82" y="370.30" font-family='"Liberation Serif", serif' font-size="12.5" text-anchor="middle" fill="#222">20</text>
<text x="84.13" y="370.30" font-family='"Liberation Serif", serif' font-size="12.5" text-anchor="middle" fill="#222">30</text>
<text x="102.45" y="370.30" font-family='"Liberation Serif", serif' font-size="12.5" text-anchor="middle" fill="#222">40</text>
<text x="120.77" y="370.30" font-family='"Liberation Serif", serif' font-size="12.5" text-anchor="middle" fill="#222">50</text>
<text x="139.08" y="370.30" font-family='"Liberation Serif", serif' font-size="12.5" text-anchor="middle" fill="#222">60</text>
<text x="157.40" y="370.30" font-family='"Liberation Serif", serif' font-size="12.5" text-anchor="middle" fill="#222">70</text>
<line x1="93.80" y1="567.90" x2="108.40" y2="567.90" stroke="#000" stroke-width="1.8" stroke-linecap="butt"/>
<text x="119.70" y="571.90" font-family='"Liberation Serif", serif' font-size="12" text-anchor="start" fill="#222">m=1</text>
<line x1="93.80" y1="584.40" x2="108.40" y2="584.40" stroke="#e0141e" stroke-width="1.8" stroke-linecap="butt"/>
<text x="119.70" y="588.40" font-family='"Liberation Serif", serif' font-size="12" text-anchor="start" fill="#222">m=2</text>
<line x1="93.80" y1="600.60" x2="108.40" y2="600.60" stroke="#20e020" stroke-width="1.8" stroke-linecap="butt"/>
<text x="119.70" y="604.60" font-family='"Liberation Serif", serif' font-size="12" text-anchor="start" fill="#222">m=3</text>
<line x1="93.80" y1="616.40" x2="108.40" y2="616.40" stroke="#40d0d0" stroke-width="1.8" stroke-linecap="butt"/>
<text x="119.70" y="620.40" font-family='"Liberation Serif", serif' font-size="12" text-anchor="start" fill="#222">m=4</text>
<text x="78.80" y="354.00" font-family='"Liberation Serif", serif' font-size="20" text-anchor="start" fill="#000" textLength="48.5" lengthAdjust="spacingAndGlyphs">Angle</text>
<text x="51.40" y="667.00" font-family='"Liberation Serif", serif' font-size="17" text-anchor="start" fill="#000" textLength="103" lengthAdjust="spacingAndGlyphs">Reflectance %</text>
<text x="9.70" y="394.00" font-family='"Liberation Sans", sans-serif' font-size="18.5" text-anchor="start" fill="#454545" font-weight="bold" textLength="20.5" lengthAdjust="spacingAndGlyphs">(d)</text>
<text transform="translate(17.5,590.6) rotate(-90)" font-family='"Liberation Sans", sans-serif' font-size="18.5" textLength="186" lengthAdjust="spacingAndGlyphs">Frequency (x 10<tspan dy="-6" font-size="12">14</tspan><tspan dy="6"> Hz)</tspan></text>
<line x1="432.00" y1="377.50" x2="577.60" y2="377.50" stroke="#000" stroke-width="1.2" stroke-linecap="butt"/>
<line x1="432.00" y1="376.90" x2="432.00" y2="641.60" stroke="#000" stroke-width="1.4" stroke-linecap="butt"/>
<line x1="432.00" y1="641.00" x2="577.60" y2="641.00" stroke="#000" stroke-width="1.4" stroke-linecap="butt"/>
<line x1="577.60" y1="376.90" x2="577.60" y2="641.60" stroke="#000" stroke-width="1.4" stroke-linecap="butt"/>
<polygon points="577.60,378.00 577.40,378.00 577.36,378.20 577.32,378.40 577.27,378.60 577.22,378.80 577.16,379.00 577.10,379.20 577.04,379.40 576.99,379.60 576.93,379.80 576.87,380.00 576.81,380.20 576.75,380.40 576.69,380.60 576.64,380.80 576.58,381.00 576.52,381.20 576.46,381.40 576.40,381.60 576.34,381.80 576.29,382.00 576.23,382.20 576.17,382.40 576.11,382.60 576.05,382.80 575.99,383.00 575.93,383.20 575.88,383.40 575.82,383.60 575.76,383.80 575.70,384.00 575.64,384.20 575.58,384.40 575.53,384.60 575.47,384.80 575.41,385.00 575.35,385.20 575.28,385.40 575.20,385.60 575.10,385.80 574.94,386.00 574.72,386.20 574.40,386.40 573.99,386.60 573.48,386.80 572.90,387.00 572.28,387.20 571.63,387.40 570.96,387.60 570.29,387.80 569.62,388.00 568.95,388.20 568.27,388.40 567.60,388.60 566.91,388.80 566.21,389.00 565.47,389.20 564.68,389.40 563.83,389.60 562.89,389.80 561.86,390.00 560.77,390.20 559.62,390.40 558.45,390.60 557.25,390.80 556.05,391.00 554.85,391.20 553.66,391.40 552.48,391.60 551.34,391.80 550.24,392.00 549.19,392.20 548.18,392.40 547.22,392.60 546.30,392.80 545.42,393.00 544.59,393.20 543.84,393.40 543.18,393.60 542.62,393.80 542.18,394.00 541.82,394.20 541.53,394.40 541.28,394.60 541.05,394.80 540.83,395.00 540.61,395.20 540.39,395.40 540.15,395.60 511.60,395.80 511.60,396.00 511.60,396.20 511.60,396.40 511.60,396.60 511.60,396.80 511.60,397.00 537.80,397.20 537.54,397.40 537.32,397.60 537.18,397.80 537.13,398.00 537.19,398.20 537.34,398.40 537.57,398.60 537.85,398.80 538.16,399.00 538.47,399.20 538.77,399.40 539.05,399.60 539.30,399.80 539.51,400.00 539.66,400.20 539.77,400.40 539.85,400.60 539.90,400.80 539.94,401.00 539.97,401.20 540.00,401.40 540.02,401.60 540.05,401.80 540.08,402.00 540.11,402.20 540.14,402.40 540.16,402.60 540.19,402.80 540.22,403.00 540.25,403.20 540.28,403.40 540.30,403.60 540.33,403.80 540.36,404.00 540.38,404.20 540.39,404.40 540.39,404.60 540.37,404.80 540.32,405.00 540.24,405.20 540.13,405.40 540.00,405.60 539.85,405.80 539.70,406.00 539.54,406.20 539.38,406.40 539.22,406.60 539.06,406.80 538.90,407.00 538.74,407.20 538.58,407.40 538.42,407.60 538.26,407.80 538.09,408.00 537.91,408.20 537.71,408.40 537.46,408.60 537.14,408.80 536.74,409.00 536.25,409.20 535.68,409.40 535.04,409.60 534.34,409.80 533.59,410.00 532.74,410.20 531.75,410.40 530.53,410.60 529.04,410.80 527.32,411.00 525.58,411.20 524.18,411.40 509.20,411.60 509.20,411.80 509.20,412.00 509.20,412.20 509.20,412.40 509.20,412.60 509.20,412.80 543.32,413.00 546.42,413.20 548.91,413.40 550.78,413.60 552.11,413.80 553.00,414.00 553.56,414.20 553.89,414.40 554.07,414.60 554.15,414.80 554.18,415.00 554.20,415.20 554.20,415.40 554.20,415.60 554.20,415.80 554.20,416.00 554.20,416.20 554.20,416.40 554.20,416.60 554.20,416.80 554.20,417.00 554.20,417.20 554.20,417.40 554.20,417.60 554.20,417.80 554.20,418.00 554.20,418.20 554.20,418.40 554.20,418.60 554.20,418.80 554.20,419.00 554.20,419.20 554.20,419.40 554.20,419.60 554.20,419.80 554.20,420.00 554.20,420.20 554.20,420.40 554.20,420.60 554.20,420.80 554.20,421.00 554.20,421.20 554.20,421.40 554.20,421.60 554.19,421.80 554.14,422.00 554.00,422.20 553.69,422.40 553.08,422.60 552.05,422.80 550.52,423.00 548.53,423.20 546.25,423.40 543.91,423.60 526.10,423.80 526.10,424.00 526.10,424.20 526.10,424.40 526.10,424.60 526.10,424.80 535.15,425.00 534.90,425.20 534.83,425.40 534.90,425.60 535.06,425.80 535.27,426.00 535.51,426.20 535.76,426.40 536.02,426.60 536.29,426.80 536.57,427.00 536.87,427.20 537.18,427.40 537.49,427.60 537.81,427.80 538.13,428.00 538.46,428.20 538.79,428.40 539.11,428.60 539.44,428.80 539.76,429.00 540.08,429.20 540.38,429.40 540.66,429.60 540.91,429.80 541.11,430.00 541.27,430.20 541.38,430.40 541.46,430.60 541.51,430.80 541.56,431.00 541.59,431.20 541.62,431.40 541.66,431.60 541.69,431.80 541.72,432.00 541.75,432.20 541.78,432.40 541.82,432.60 541.85,432.80 541.88,433.00 541.91,433.20 541.94,433.40 541.98,433.60 542.01,433.80 542.04,434.00 542.07,434.20 542.09,434.40 542.10,434.60 542.10,434.80 542.08,435.00 542.03,435.20 541.97,435.40 541.90,435.60 541.81,435.80 541.72,436.00 541.62,436.20 541.53,436.40 541.43,436.60 541.34,436.80 541.24,437.00 541.14,437.20 541.05,437.40 540.95,437.60 540.86,437.80 540.76,438.00 540.66,438.20 540.57,438.40 540.47,438.60 540.38,438.80 540.28,439.00 540.18,439.20 540.07,439.40 539.96,439.60 539.83,439.80 539.68,440.00 539.51,440.20 539.32,440.40 539.12,440.60 538.91,440.80 538.70,441.00 538.48,441.20 538.26,441.40 538.04,441.60 537.82,441.80 537.60,442.00 537.39,442.20 537.18,442.40 536.99,442.60 536.82,442.80 536.68,443.00 536.57,443.20 536.49,443.40 536.42,443.60 536.38,443.80 536.34,444.00 536.30,444.20 536.27,444.40 536.23,444.60 536.20,444.80 536.17,445.00 536.13,445.20 536.10,445.40 536.06,445.60 536.01,445.80 535.97,446.00 535.91,446.20 535.86,446.40 535.80,446.60 535.73,446.80 535.67,447.00 535.60,447.20 535.53,447.40 535.47,447.60 535.40,447.80 535.31,448.00 535.19,448.20 535.01,448.40 534.72,448.60 534.25,448.80 533.57,449.00 532.67,449.20 531.61,449.40 530.48,449.60 529.43,449.80 528.63,450.00 528.22,450.20 512.40,450.40 512.40,450.60 512.40,450.80 512.40,451.00 512.40,451.20 512.40,451.40 534.43,451.60 535.37,451.80 536.16,452.00 536.85,452.20 537.46,452.40 538.04,452.60 538.59,452.80 539.12,453.00 539.64,453.20 540.15,453.40 493.90,453.60 493.90,453.80 493.90,454.00 493.90,454.20 493.90,454.40 493.90,454.60 543.19,454.80 543.36,455.00 543.29,455.20 542.91,455.40 542.17,455.60 541.11,455.80 539.82,456.00 538.45,456.20 518.00,456.40 518.00,456.60 518.00,456.80 518.00,457.00 518.00,457.20 518.00,457.40 518.00,457.60 533.06,457.80 533.15,458.00 533.44,458.20 533.89,458.40 534.49,458.60 535.18,458.80 535.91,459.00 536.65,459.20 537.37,459.40 538.03,459.60 538.62,459.80 539.09,460.00 539.45,460.20 539.70,460.40 539.87,460.60 539.98,460.80 540.06,461.00 540.12,461.20 540.17,461.40 540.23,461.60 540.28,461.80 540.33,462.00 540.37,462.20 540.40,462.40 540.41,462.60 540.38,462.80 540.31,463.00 540.20,463.20 540.04,463.40 539.84,463.60 539.63,463.80 539.40,464.00 539.16,464.20 538.92,464.40 538.68,464.60 538.44,464.80 538.19,465.00 537.93,465.20 537.64,465.40 537.29,465.60 536.87,465.80 536.36,466.00 535.73,466.20 535.01,466.40 534.22,466.60 533.36,466.80 532.46,467.00 531.49,467.20 530.43,467.40 529.20,467.60 527.73,467.80 525.98,468.00 523.97,468.20 521.85,468.40 519.90,468.60 518.49,468.80 518.06,469.00 518.92,469.20 491.40,469.40 491.40,469.60 491.40,469.80 491.40,470.00 491.40,470.20 491.40,470.40 491.40,470.60 551.46,470.80 553.85,471.00 555.43,471.20 556.36,471.40 556.84,471.60 557.02,471.80 557.05,472.00 557.01,472.20 556.94,472.40 556.86,472.60 556.78,472.80 556.70,473.00 556.62,473.20 556.54,473.40 556.46,473.60 556.38,473.80 556.30,474.00 556.21,474.20 556.12,474.40 556.02,474.60 555.90,474.80 555.76,475.00 555.60,475.20 555.42,475.40 555.22,475.60 555.01,475.80 554.80,476.00 554.58,476.20 554.36,476.40 554.14,476.60 553.92,476.80 553.68,477.00 553.41,477.20 553.09,477.40 552.66,477.60 552.08,477.80 551.31,478.00 550.32,478.20 549.14,478.40 547.80,478.60 546.36,478.80 544.86,479.00 543.33,479.20 541.76,479.40 540.13,479.60 538.38,479.80 536.44,480.00 534.25,480.20 531.82,480.40 529.34,480.60 527.20,480.80 525.91,481.00 495.00,481.20 495.00,481.40 495.00,481.60 495.00,481.80 495.00,482.00 495.00,482.20 547.11,482.40 550.14,482.60 552.43,482.80 554.04,483.00 555.12,483.20 555.84,483.40 556.30,483.60 556.63,483.80 556.88,484.00 557.10,484.20 557.30,484.40 557.50,484.60 557.70,484.80 557.90,485.00 558.10,485.20 558.30,485.40 558.50,485.60 558.70,485.80 558.90,486.00 559.09,486.20 559.28,486.40 559.45,486.60 559.59,486.80 559.72,487.00 559.81,487.20 559.87,487.40 559.91,487.60 559.93,487.80 559.95,488.00 559.96,488.20 559.98,488.40 559.99,488.60 560.00,488.80 560.01,489.00 560.02,489.20 560.03,489.40 560.04,489.60 560.05,489.80 560.06,490.00 560.07,490.20 560.08,490.40 560.09,490.60 560.10,490.80 560.12,491.00 560.13,491.20 560.14,491.40 560.15,491.60 560.16,491.80 560.17,492.00 560.18,492.20 560.19,492.40 560.20,492.60 560.21,492.80 560.22,493.00 560.23,493.20 560.24,493.40 560.26,493.60 560.27,493.80 560.28,494.00 560.29,494.20 560.30,494.40 560.31,494.60 560.32,494.80 560.33,495.00 560.34,495.20 560.35,495.40 560.36,495.60 560.37,495.80 560.38,496.00 560.40,496.20 560.41,496.40 560.42,496.60 560.43,496.80 560.44,497.00 560.45,497.20 560.46,497.40 560.47,497.60 560.48,497.80 560.49,498.00 560.50,498.20 560.51,498.40 560.52,498.60 560.54,498.80 560.55,499.00 560.56,499.20 560.57,499.40 560.57,499.60 560.58,499.80 560.58,500.00 560.58,500.20 560.58,500.40 560.57,500.60 560.56,500.80 560.55,501.00 560.54,501.20 560.53,501.40 560.53,501.60 560.52,501.80 560.51,502.00 560.50,502.20 560.49,502.40 560.48,502.60 560.47,502.80 560.46,503.00 560.45,503.20 560.44,503.40 560.43,503.60 560.42,503.80 560.41,504.00 560.40,504.20 560.39,504.40 560.39,504.60 560.38,504.80 560.37,505.00 560.36,505.20 560.35,505.40 560.34,505.60 560.33,505.80 560.32,506.00 560.31,506.20 560.30,506.40 560.29,506.60 560.28,506.80 560.27,507.00 560.26,507.20 560.25,507.40 560.25,507.60 560.24,507.80 560.23,508.00 560.22,508.20 560.21,508.40 560.20,508.60 560.19,508.80 560.18,509.00 560.17,509.20 560.16,509.40 560.15,509.60 560.14,509.80 560.13,510.00 560.12,510.20 560.11,510.40 560.11,510.60 560.10,510.80 560.09,511.00 560.08,511.20 560.07,511.40 560.06,511.60 560.05,511.80 560.04,512.00 560.03,512.20 560.02,512.40 560.01,512.60 560.00,512.80 559.99,513.00 559.98,513.20 559.97,513.40 559.97,513.60 559.96,513.80 559.95,514.00 559.94,514.20 559.92,514.40 559.91,514.60 559.89,514.80 559.86,515.00 559.83,515.20 559.80,515.40 559.76,515.60 559.72,515.80 559.67,516.00 559.63,516.20 559.58,516.40 559.53,516.60 559.49,516.80 559.44,517.00 559.40,517.20 559.35,517.40 559.31,517.60 559.26,517.80 559.21,518.00 559.17,518.20 559.12,518.40 559.08,518.60 559.03,518.80 558.99,519.00 558.94,519.20 558.89,519.40 558.85,519.60 558.80,519.80 558.76,520.00 558.71,520.20 558.67,520.40 558.62,520.60 558.57,520.80 558.53,521.00 558.47,521.20 558.41,521.40 558.33,521.60 558.22,521.80 558.08,522.00 557.90,522.20 557.69,522.40 557.45,522.60 557.20,522.80 556.93,523.00 556.66,523.20 556.39,523.40 556.11,523.60 555.84,523.80 555.55,524.00 555.24,524.20 554.87,524.40 554.42,524.60 553.84,524.80 553.08,525.00 552.14,525.20 551.03,525.40 549.79,525.60 548.46,525.80 547.07,526.00 545.63,526.20 544.16,526.40 542.68,526.60 541.24,526.80 539.97,527.00 539.07,527.20 530.10,527.40 530.10,527.60 530.10,527.80 530.10,528.00 530.10,528.20 530.10,528.40 530.10,528.60 554.17,528.80 556.00,529.00 557.35,529.20 558.29,529.40 558.90,529.60 559.26,529.80 559.43,530.00 559.48,530.20 559.45,530.40 559.39,530.60 559.30,530.80 559.21,531.00 559.12,531.20 559.03,531.40 558.94,531.60 558.85,531.80 558.75,532.00 558.65,532.20 558.54,532.40 558.40,532.60 558.23,532.80 558.02,533.00 557.76,533.20 557.46,533.40 557.12,533.60 556.77,533.80 556.40,534.00 556.02,534.20 555.64,534.40 555.26,534.60 554.87,534.80 554.48,535.00 554.04,535.20 553.54,535.40 552.91,535.60 552.10,535.80 551.06,536.00 549.76,536.20 548.23,536.40 546.52,536.60 544.66,536.80 542.68,537.00 540.53,537.20 538.08,537.40 535.19,537.60 531.74,537.80 527.76,538.00 523.58,538.20 519.89,538.40 436.00,538.60 436.00,538.80 436.00,539.00 436.00,539.20 436.00,539.40 436.00,539.60 436.00,539.80 546.22,540.00 549.66,540.20 552.09,540.40 553.74,540.60 554.87,540.80 555.66,541.00 556.20,541.20 556.57,541.40 556.81,541.60 556.97,541.80 557.08,542.00 557.18,542.20 557.26,542.40 557.34,542.60 557.42,542.80 557.50,543.00 557.58,543.20 557.66,543.40 557.74,543.60 557.82,543.80 557.89,544.00 557.96,544.20 558.01,544.40 558.04,544.60 558.02,544.80 557.94,545.00 557.81,545.20 557.62,545.40 557.39,545.60 557.14,545.80 556.86,546.00 556.58,546.20 556.29,546.40 556.01,546.60 555.72,546.80 555.42,547.00 555.09,547.20 554.72,547.40 554.26,547.60 553.67,547.80 552.91,548.00 551.98,548.20 550.88,548.40 549.66,548.60 548.34,548.80 546.93,549.00 545.44,549.20 543.79,549.40 541.89,549.60 539.61,549.80 536.88,550.00 533.72,550.20 530.30,550.40 526.95,550.60 524.20,550.80 522.63,551.00 493.00,551.20 493.00,551.40 493.00,551.60 493.00,551.80 493.00,552.00 493.00,552.20 493.00,552.40 558.35,552.60 562.04,552.80 564.62,553.00 566.31,553.20 567.33,553.40 567.92,553.60 568.26,553.80 568.46,554.00 568.61,554.20 568.74,554.40 568.86,554.60 568.98,554.80 569.10,555.00 569.22,555.20 569.34,555.40 569.46,555.60 569.58,555.80 569.70,556.00 569.81,556.20 569.93,556.40 570.03,556.60 570.12,556.80 570.19,557.00 570.24,557.20 570.27,557.40 570.29,557.60 570.31,557.80 570.31,558.00 570.32,558.20 570.32,558.40 570.33,558.60 570.33,558.80 570.33,559.00 570.34,559.20 570.34,559.40 570.34,559.60 570.35,559.80 570.35,560.00 570.35,560.20 570.36,560.40 570.36,560.60 570.36,560.80 570.37,561.00 570.37,561.20 570.37,561.40 570.37,561.60 570.38,561.80 570.38,562.00 570.38,562.20 570.39,562.40 570.39,562.60 570.39,562.80 570.40,563.00 570.40,563.20 570.40,563.40 570.41,563.60 570.41,563.80 570.41,564.00 570.42,564.20 570.42,564.40 570.42,564.60 570.43,564.80 570.43,565.00 570.43,565.20 570.44,565.40 570.44,565.60 570.44,565.80 570.45,566.00 570.45,566.20 570.45,566.40 570.46,566.60 570.46,566.80 570.46,567.00 570.47,567.20 570.47,567.40 570.47,567.60 570.48,567.80 570.48,568.00 570.48,568.20 570.49,568.40 570.49,568.60 570.49,568.80 570.50,569.00 570.50,569.20 570.50,569.40 570.51,569.60 570.51,569.80 570.51,570.00 570.51,570.20 570.52,570.40 570.52,570.60 570.52,570.80 570.53,571.00 570.53,571.20 570.53,571.40 570.54,571.60 570.54,571.80 570.54,572.00 570.55,572.20 570.55,572.40 570.55,572.60 570.56,572.80 570.56,573.00 570.56,573.20 570.57,573.40 570.57,573.60 570.57,573.80 570.58,574.00 570.58,574.20 570.58,574.40 570.59,574.60 570.59,574.80 570.59,575.00 570.60,575.20 570.60,575.40 570.60,575.60 570.61,575.80 570.61,576.00 570.61,576.20 570.62,576.40 570.62,576.60 570.62,576.80 570.63,577.00 570.63,577.20 570.63,577.40 570.64,577.60 570.64,577.80 570.64,578.00 570.65,578.20 570.65,578.40 570.65,578.60 570.65,578.80 570.66,579.00 570.66,579.20 570.66,579.40 570.67,579.60 570.67,579.80 570.67,580.00 570.68,580.20 570.68,580.40 570.68,580.60 570.69,580.80 570.69,581.00 570.69,581.20 570.70,581.40 570.70,581.60 570.70,581.80 570.71,582.00 570.71,582.20 570.71,582.40 570.72,582.60 570.72,582.80 570.72,583.00 570.73,583.20 570.73,583.40 570.73,583.60 570.74,583.80 570.74,584.00 570.74,584.20 570.75,584.40 570.75,584.60 570.75,584.80 570.76,585.00 570.76,585.20 570.76,585.40 570.77,585.60 570.77,585.80 570.77,586.00 570.78,586.20 570.78,586.40 570.78,586.60 570.79,586.80 570.79,587.00 570.79,587.20 570.79,587.40 570.80,587.60 570.80,587.80 570.80,588.00 570.81,588.20 570.81,588.40 570.81,588.60 570.82,588.80 570.82,589.00 570.82,589.20 570.83,589.40 570.83,589.60 570.83,589.80 570.84,590.00 570.84,590.20 570.84,590.40 570.85,590.60 570.85,590.80 570.85,591.00 570.86,591.20 570.86,591.40 570.86,591.60 570.87,591.80 570.87,592.00 570.87,592.20 570.88,592.40 570.88,592.60 570.88,592.80 570.89,593.00 570.89,593.20 570.89,593.40 570.90,593.60 570.90,593.80 570.90,594.00 570.91,594.20 570.91,594.40 570.91,594.60 570.92,594.80 570.92,595.00 570.92,595.20 570.93,595.40 570.93,595.60 570.93,595.80 570.93,596.00 570.94,596.20 570.94,596.40 570.94,596.60 570.95,596.80 570.95,597.00 570.95,597.20 570.96,597.40 570.96,597.60 570.96,597.80 570.97,598.00 570.97,598.20 570.97,598.40 570.98,598.60 570.98,598.80 570.98,599.00 570.99,599.20 570.99,599.40 570.99,599.60 571.00,599.80 571.00,600.00 571.01,600.20 571.02,600.40 571.02,600.60 571.03,600.80 571.04,601.00 571.04,601.20 571.05,601.40 571.06,601.60 571.07,601.80 571.07,602.00 571.08,602.20 571.09,602.40 571.10,602.60 571.10,602.80 571.11,603.00 571.12,603.20 571.12,603.40 571.13,603.60 571.14,603.80 571.15,604.00 571.15,604.20 571.16,604.40 571.17,604.60 571.18,604.80 571.18,605.00 571.19,605.20 571.20,605.40 571.20,605.60 571.21,605.80 571.22,606.00 571.23,606.20 571.23,606.40 571.24,606.60 571.25,606.80 571.26,607.00 571.26,607.20 571.27,607.40 571.28,607.60 571.29,607.80 571.29,608.00 571.30,608.20 571.31,608.40 571.31,608.60 571.32,608.80 571.33,609.00 571.34,609.20 571.34,609.40 571.35,609.60 571.36,609.80 571.37,610.00 571.37,610.20 571.38,610.40 571.39,610.60 571.40,610.80 571.40,611.00 571.41,611.20 571.42,611.40 571.42,611.60 571.43,611.80 571.44,612.00 571.45,612.20 571.45,612.40 571.46,612.60 571.47,612.80 571.48,613.00 571.48,613.20 571.49,613.40 571.50,613.60 571.50,613.80 571.51,614.00 571.52,614.20 571.53,614.40 571.53,614.60 571.54,614.80 571.55,615.00 571.56,615.20 571.56,615.40 571.57,615.60 571.58,615.80 571.59,616.00 571.59,616.20 571.60,616.40 571.61,616.60 571.61,616.80 571.62,617.00 571.63,617.20 571.64,617.40 571.64,617.60 571.65,617.80 571.66,618.00 571.67,618.20 571.67,618.40 571.68,618.60 571.69,618.80 571.70,619.00 571.70,619.20 571.71,619.40 571.72,619.60 571.72,619.80 571.73,620.00 571.74,620.20 571.75,620.40 571.75,620.60 571.76,620.80 571.77,621.00 571.78,621.20 571.78,621.40 571.79,621.60 571.80,621.80 571.80,622.00 571.81,622.20 571.82,622.40 571.83,622.60 571.83,622.80 571.84,623.00 571.85,623.20 571.86,623.40 571.86,623.60 571.87,623.80 571.88,624.00 571.89,624.20 571.89,624.40 571.90,624.60 571.91,624.80 571.91,625.00 571.92,625.20 571.93,625.40 571.94,625.60 571.94,625.80 571.95,626.00 571.96,626.20 571.97,626.40 571.97,626.60 571.98,626.80 571.99,627.00 572.00,627.20 572.00,627.40 572.01,627.60 572.02,627.80 572.02,628.00 572.03,628.20 572.04,628.40 572.05,628.60 572.05,628.80 572.06,629.00 572.07,629.20 572.08,629.40 572.08,629.60 572.09,629.80 572.10,630.00 572.10,630.20 572.11,630.40 572.12,630.60 572.13,630.80 572.13,631.00 572.14,631.20 572.15,631.40 572.16,631.60 572.16,631.80 572.17,632.00 572.18,632.20 572.19,632.40 572.19,632.60 572.20,632.80 572.21,633.00 572.21,633.20 572.22,633.40 572.23,633.60 572.24,633.80 572.24,634.00 572.25,634.20 572.26,634.40 572.27,634.60 572.27,634.80 572.28,635.00 572.29,635.20 572.30,635.40 572.30,635.60 572.31,635.80 572.32,636.00 572.32,636.20 572.33,636.40 572.34,636.60 572.35,636.80 572.35,637.00 572.36,637.20 572.37,637.40 572.38,637.60 572.38,637.80 572.39,638.00 572.40,638.20 572.40,638.40 572.41,638.60 572.42,638.80 572.43,639.00 572.43,639.20 572.44,639.40 572.45,639.60 572.46,639.80 572.46,640.00 572.47,640.20 572.48,640.40 572.48,640.60 572.49,640.80 572.49,641.00 577.60,641.00" fill="#000"/>
<line x1="543.00" y1="395.30" x2="554.20" y2="395.30" stroke="#fff" stroke-width="1.0"/>
<line x1="520.00" y1="455.30" x2="558.30" y2="455.30" stroke="#fff" stroke-width="1.1"/>
<line x1="577.60" y1="641.00" x2="583.60" y2="641.00" stroke="#000" stroke-width="1.3" stroke-linecap="butt"/>
<text transform="translate(599.6,641.00) rotate(-90)" font-family='"Liberation Sans", sans-serif' font-size="14.5" text-anchor="middle">0</text>
<line x1="577.60" y1="614.65" x2="583.60" y2="614.65" stroke="#000" stroke-width="1.3" stroke-linecap="butt"/>
<text transform="translate(599.6,614.65) rotate(-90)" font-family='"Liberation Sans", sans-serif' font-size="14.5" text-anchor="middle">1</text>
<line x1="577.60" y1="588.30" x2="583.60" y2="588.30" stroke="#000" stroke-width="1.3" stroke-linecap="butt"/>
<text transform="translate(599.6,588.30) rotate(-90)" font-family='"Liberation Sans", sans-serif' font-size="14.5" text-anchor="middle">2</text>
<line x1="577.60" y1="561.95" x2="583.60" y2="561.95" stroke="#000" stroke-width="1.3" stroke-linecap="butt"/>
<text transform="translate(599.6,561.95) rotate(-90)" font-family='"Liberation Sans", sans-serif' font-size="14.5" text-anchor="middle">3</text>
<line x1="577.60" y1="535.60" x2="583.60" y2="535.60" stroke="#000" stroke-width="1.3" stroke-linecap="butt"/>
<text transform="translate(599.6,535.60) rotate(-90)" font-family='"Liberation Sans", sans-serif' font-size="14.5" text-anchor="middle">4</text>
<line x1="577.60" y1="509.25" x2="583.60" y2="509.25" stroke="#000" stroke-width="1.3" stroke-linecap="butt"/>
<text transform="translate(599.6,509.25) rotate(-90)" font-family='"Liberation Sans", sans-serif' font-size="14.5" text-anchor="middle">5</text>
<line x1="577.60" y1="482.90" x2="583.60" y2="482.90" stroke="#000" stroke-width="1.3" stroke-linecap="butt"/>
<text transform="translate(599.6,482.90) rotate(-90)" font-family='"Liberation Sans", sans-serif' font-size="14.5" text-anchor="middle">6</text>
<line x1="577.60" y1="456.55" x2="583.60" y2="456.55" stroke="#000" stroke-width="1.3" stroke-linecap="butt"/>
<text transform="translate(599.6,456.55) rotate(-90)" font-family='"Liberation Sans", sans-serif' font-size="14.5" text-anchor="middle">7</text>
<line x1="577.60" y1="430.20" x2="583.60" y2="430.20" stroke="#000" stroke-width="1.3" stroke-linecap="butt"/>
<text transform="translate(599.6,430.20) rotate(-90)" font-family='"Liberation Sans", sans-serif' font-size="14.5" text-anchor="middle">8</text>
<line x1="577.60" y1="403.85" x2="583.60" y2="403.85" stroke="#000" stroke-width="1.3" stroke-linecap="butt"/>
<text transform="translate(599.6,403.85) rotate(-90)" font-family='"Liberation Sans", sans-serif' font-size="14.5" text-anchor="middle">9</text>
<line x1="577.60" y1="377.50" x2="583.60" y2="377.50" stroke="#000" stroke-width="1.3" stroke-linecap="butt"/>
<text transform="translate(599.6,377.50) rotate(-90)" font-family='"Liberation Sans", sans-serif' font-size="14.5" text-anchor="middle">10</text>
<line x1="461.30" y1="641.00" x2="461.30" y2="646.00" stroke="#000" stroke-width="1.3" stroke-linecap="butt"/>
<line x1="490.30" y1="641.00" x2="490.30" y2="646.00" stroke="#000" stroke-width="1.3" stroke-linecap="butt"/>
<line x1="519.00" y1="641.00" x2="519.00" y2="646.00" stroke="#000" stroke-width="1.3" stroke-linecap="butt"/>
<line x1="548.10" y1="641.00" x2="548.10" y2="646.00" stroke="#000" stroke-width="1.3" stroke-linecap="butt"/>
<line x1="577.50" y1="641.00" x2="577.50" y2="646.00" stroke="#000" stroke-width="1.3" stroke-linecap="butt"/>
<line x1="432.00" y1="641.00" x2="432.00" y2="646.00" stroke="#000" stroke-width="1.3" stroke-linecap="butt"/>
<text transform="translate(615.5,585) rotate(-90)" font-family='"Liberation Sans", sans-serif' font-size="18.5" textLength="186.6" lengthAdjust="spacingAndGlyphs">Frequency (x 10<tspan dy="-6" font-size="12">14</tspan><tspan dy="6"> Hz)</tspan></text>
<text x="458.1" y="666" font-family='"Liberation Sans", sans-serif' font-size="17" textLength="101" lengthAdjust="spacingAndGlyphs">TE DoS (a.u.)</text>
<text x="441.90" y="397.00" font-family='"Liberation Sans", sans-serif' font-size="18.5" text-anchor="start" fill="#454545" font-weight="bold" textLength="17.4" lengthAdjust="spacingAndGlyphs">(f)</text>
<g transform="matrix(0.4240,-0.2260,0.2870,0.3560,450.5,590.4)">
<clipPath id="chc"><rect x="0" y="0" width="100" height="100"/></clipPath><g clip-path="url(#chc)">
<rect x="0" y="0" width="100" height="100" fill="#cfe055"/>
<ellipse cx="-13.0" cy="4.0" rx="8.6" ry="8.2" fill="#f2f27a"/>
<ellipse cx="-12.2" cy="4.8" rx="7.2" ry="6.8" fill="#1f8766"/>
<ellipse cx="6.0" cy="4.0" rx="8.6" ry="8.2" fill="#f2f27a"/>
<ellipse cx="6.8" cy="4.8" rx="7.2" ry="6.8" fill="#1f8766"/>
<ellipse cx="25.0" cy="4.0" rx="8.6" ry="8.2" fill="#f2f27a"/>
<ellipse cx="25.8" cy="4.8" rx="7.2" ry="6.8" fill="#1f8766"/>
<ellipse cx="44.0" cy="4.0" rx="8.6" ry="8.2" fill="#f2f27a"/>
<ellipse cx="44.8" cy="4.8" rx="7.2" ry="6.8" fill="#1f8766"/>
<ellipse cx="63.0" cy="4.0" rx="8.6" ry="8.2" fill="#f2f27a"/>
<ellipse cx="63.8" cy="4.8" rx="7.2" ry="6.8" fill="#1f8766"/>
<ellipse cx="82.0" cy="4.0" rx="8.6" ry="8.2" fill="#f2f27a"/>
<ellipse cx="82.8" cy="4.8" rx="7.2" ry="6.8" fill="#1f8766"/>
<ellipse cx="101.0" cy="4.0" rx="8.6" ry="8.2" fill="#f2f27a"/>
<ellipse cx="101.8" cy="4.8" rx="7.2" ry="6.8" fill="#1f8766"/>
<ellipse cx="120.0" cy="4.0" rx="8.6" ry="8.2" fill="#f2f27a"/>
<ellipse cx="120.8" cy="4.8" rx="7.2" ry="6.8" fill="#1f8766"/>
<ellipse cx="-3.5" cy="20.5" rx="8.6" ry="8.2" fill="#f2f27a"/>
<ellipse cx="-2.7" cy="21.3" rx="7.2" ry="6.8" fill="#1f8766"/>
<ellipse cx="15.5" cy="20.5" rx="8.6" ry="8.2" fill="#f2f27a"/>
<ellipse cx="16.3" cy="21.3" rx="7.2" ry="6.8" fill="#1f8766"/>
<ellipse cx="34.5" cy="20.5" rx="8.6" ry="8.2" fill="#f2f27a"/>
<ellipse cx="35.3" cy="21.3" rx="7.2" ry="6.8" fill="#1f8766"/>
<ellipse cx="53.5" cy="20.5" rx="8.6" ry="8.2" fill="#f2f27a"/>
<ellipse cx="54.3" cy="21.3" rx="7.2" ry="6.8" fill="#1f8766"/>
<ellipse cx="72.5" cy="20.5" rx="8.6" ry="8.2" fill="#f2f27a"/>
<ellipse cx="73.3" cy="21.3" rx="7.2" ry="6.8" fill="#1f8766"/>
<ellipse cx="91.5" cy="20.5" rx="8.6" ry="8.2" fill="#f2f27a"/>
<ellipse cx="92.3" cy="21.3" rx="7.2" ry="6.8" fill="#1f8766"/>
<ellipse cx="110.5" cy="20.5" rx="8.6" ry="8.2" fill="#f2f27a"/>
<ellipse cx="111.3" cy="21.3" rx="7.2" ry="6.8" fill="#1f8766"/>
<ellipse cx="129.5" cy="20.5" rx="8.6" ry="8.2" fill="#f2f27a"/>
<ellipse cx="130.3" cy="21.3" rx="7.2" ry="6.8" fill="#1f8766"/>
<ellipse cx="-13.0" cy="37.0" rx="8.6" ry="8.2" fill="#f2f27a"/>
<ellipse cx="-12.2" cy="37.8" rx="7.2" ry="6.8" fill="#1f8766"/>
<ellipse cx="6.0" cy="37.0" rx="8.6" ry="8.2" fill="#f2f27a"/>
<ellipse cx="6.8" cy="37.8" rx="7.2" ry="6.8" fill="#1f8766"/>
<ellipse cx="25.0" cy="37.0" rx="8.6" ry="8.2" fill="#f2f27a"/>
<ellipse cx="25.8" cy="37.8" rx="7.2" ry="6.8" fill="#1f8766"/>
<ellipse cx="44.0" cy="37.0" rx="8.6" ry="8.2" fill="#f2f27a"/>
<ellipse cx="44.8" cy="37.8" rx="7.2" ry="6.8" fill="#1f8766"/>
<ellipse cx="63.0" cy="37.0" rx="8.6" ry="8.2" fill="#f2f27a"/>
<ellipse cx="63.8" cy="37.8" rx="7.2" ry="6.8" fill="#1f8766"/>
<ellipse cx="82.0" cy="37.0" rx="8.6" ry="8.2" fill="#f2f27a"/>
<ellipse cx="82.8" cy="37.8" rx="7.2" ry="6.8" fill="#1f8766"/>
<ellipse cx="101.0" cy="37.0" rx="8.6" ry="8.2" fill="#f2f27a"/>
<ellipse cx="101.8" cy="37.8" rx="7.2" ry="6.8" fill="#1f8766"/>
<ellipse cx="120.0" cy="37.0" rx="8.6" ry="8.2" fill="#f2f27a"/>
<ellipse cx="120.8" cy="37.8" rx="7.2" ry="6.8" fill="#1f8766"/>
<ellipse cx="-3.5" cy="53.5" rx="8.6" ry="8.2" fill="#f2f27a"/>
<ellipse cx="-2.7" cy="54.3" rx="7.2" ry="6.8" fill="#1f8766"/>
<ellipse cx="15.5" cy="53.5" rx="8.6" ry="8.2" fill="#f2f27a"/>
<ellipse cx="16.3" cy="54.3" rx="7.2" ry="6.8" fill="#1f8766"/>
<ellipse cx="34.5" cy="53.5" rx="8.6" ry="8.2" fill="#f2f27a"/>
<ellipse cx="35.3" cy="54.3" rx="7.2" ry="6.8" fill="#1f8766"/>
<ellipse cx="53.5" cy="53.5" rx="8.6" ry="8.2" fill="#f2f27a"/>
<ellipse cx="54.3" cy="54.3" rx="7.2" ry="6.8" fill="#1f8766"/>
<ellipse cx="72.5" cy="53.5" rx="8.6" ry="8.2" fill="#f2f27a"/>
<ellipse cx="73.3" cy="54.3" rx="7.2" ry="6.8" fill="#1f8766"/>
<ellipse cx="91.5" cy="53.5" rx="8.6" ry="8.2" fill="#f2f27a"/>
<ellipse cx="92.3" cy="54.3" rx="7.2" ry="6.8" fill="#1f8766"/>
<ellipse cx="110.5" cy="53.5" rx="8.6" ry="8.2" fill="#f2f27a"/>
<ellipse cx="111.3" cy="54.3" rx="7.2" ry="6.8" fill="#1f8766"/>
<ellipse cx="129.5" cy="53.5" rx="8.6" ry="8.2" fill="#f2f27a"/>
<ellipse cx="130.3" cy="54.3" rx="7.2" ry="6.8" fill="#1f8766"/>
<ellipse cx="-13.0" cy="70.0" rx="8.6" ry="8.2" fill="#f2f27a"/>
<ellipse cx="-12.2" cy="70.8" rx="7.2" ry="6.8" fill="#1f8766"/>
<ellipse cx="6.0" cy="70.0" rx="8.6" ry="8.2" fill="#f2f27a"/>
<ellipse cx="6.8" cy="70.8" rx="7.2" ry="6.8" fill="#1f8766"/>
<ellipse cx="25.0" cy="70.0" rx="8.6" ry="8.2" fill="#f2f27a"/>
<ellipse cx="25.8" cy="70.8" rx="7.2" ry="6.8" fill="#1f8766"/>
<ellipse cx="44.0" cy="70.0" rx="8.6" ry="8.2" fill="#f2f27a"/>
<ellipse cx="44.8" cy="70.8" rx="7.2" ry="6.8" fill="#1f8766"/>
<ellipse cx="63.0" cy="70.0" rx="8.6" ry="8.2" fill="#f2f27a"/>
<ellipse cx="63.8" cy="70.8" rx="7.2" ry="6.8" fill="#1f8766"/>
<ellipse cx="82.0" cy="70.0" rx="8.6" ry="8.2" fill="#f2f27a"/>
<ellipse cx="82.8" cy="70.8" rx="7.2" ry="6.8" fill="#1f8766"/>
<ellipse cx="101.0" cy="70.0" rx="8.6" ry="8.2" fill="#f2f27a"/>
<ellipse cx="101.8" cy="70.8" rx="7.2" ry="6.8" fill="#1f8766"/>
<ellipse cx="120.0" cy="70.0" rx="8.6" ry="8.2" fill="#f2f27a"/>
<ellipse cx="120.8" cy="70.8" rx="7.2" ry="6.8" fill="#1f8766"/>
<ellipse cx="-3.5" cy="86.5" rx="8.6" ry="8.2" fill="#f2f27a"/>
<ellipse cx="-2.7" cy="87.3" rx="7.2" ry="6.8" fill="#1f8766"/>
<ellipse cx="15.5" cy="86.5" rx="8.6" ry="8.2" fill="#f2f27a"/>
<ellipse cx="16.3" cy="87.3" rx="7.2" ry="6.8" fill="#1f8766"/>
<ellipse cx="34.5" cy="86.5" rx="8.6" ry="8.2" fill="#f2f27a"/>
<ellipse cx="35.3" cy="87.3" rx="7.2" ry="6.8" fill="#1f8766"/>
<ellipse cx="53.5" cy="86.5" rx="8.6" ry="8.2" fill="#f2f27a"/>
<ellipse cx="54.3" cy="87.3" rx="7.2" ry="6.8" fill="#1f8766"/>
<ellipse cx="72.5" cy="86.5" rx="8.6" ry="8.2" fill="#f2f27a"/>
<ellipse cx="73.3" cy="87.3" rx="7.2" ry="6.8" fill="#1f8766"/>
<ellipse cx="91.5" cy="86.5" rx="8.6" ry="8.2" fill="#f2f27a"/>
<ellipse cx="92.3" cy="87.3" rx="7.2" ry="6.8" fill="#1f8766"/>
<ellipse cx="110.5" cy="86.5" rx="8.6" ry="8.2" fill="#f2f27a"/>
<ellipse cx="111.3" cy="87.3" rx="7.2" ry="6.8" fill="#1f8766"/>
<ellipse cx="129.5" cy="86.5" rx="8.6" ry="8.2" fill="#f2f27a"/>
<ellipse cx="130.3" cy="87.3" rx="7.2" ry="6.8" fill="#1f8766"/>
<ellipse cx="-13.0" cy="103.0" rx="8.6" ry="8.2" fill="#f2f27a"/>
<ellipse cx="-12.2" cy="103.8" rx="7.2" ry="6.8" fill="#1f8766"/>
<ellipse cx="6.0" cy="103.0" rx="8.6" ry="8.2" fill="#f2f27a"/>
<ellipse cx="6.8" cy="103.8" rx="7.2" ry="6.8" fill="#1f8766"/>
<ellipse cx="25.0" cy="103.0" rx="8.6" ry="8.2" fill="#f2f27a"/>
<ellipse cx="25.8" cy="103.8" rx="7.2" ry="6.8" fill="#1f8766"/>
<ellipse cx="44.0" cy="103.0" rx="8.6" ry="8.2" fill="#f2f27a"/>
<ellipse cx="44.8" cy="103.8" rx="7.2" ry="6.8" fill="#1f8766"/>
<ellipse cx="63.0" cy="103.0" rx="8.6" ry="8.2" fill="#f2f27a"/>
<ellipse cx="63.8" cy="103.8" rx="7.2" ry="6.8" fill="#1f8766"/>
<ellipse cx="82.0" cy="103.0" rx="8.6" ry="8.2" fill="#f2f27a"/>
<ellipse cx="82.8" cy="103.8" rx="7.2" ry="6.8" fill="#1f8766"/>
<ellipse cx="101.0" cy="103.0" rx="8.6" ry="8.2" fill="#f2f27a"/>
<ellipse cx="101.8" cy="103.8" rx="7.2" ry="6.8" fill="#1f8766"/>
<ellipse cx="120.0" cy="103.0" rx="8.6" ry="8.2" fill="#f2f27a"/>
<ellipse cx="120.8" cy="103.8" rx="7.2" ry="6.8" fill="#1f8766"/>
</g>
</g>
<clipPath id="ce"><rect x="157.4" y="376.5" width="273.79999999999995" height="262.0"/></clipPath>
<path d="M157.40,638.50 C167.42,628.83 202.82,594.62 217.50,580.50 C232.18,566.38 239.88,558.62 245.50,553.80 C251.12,548.98 250.25,551.97 251.20,551.60 M251.20,551.60 C259.33,550.67 284.77,548.43 300.00,546.00 C315.23,543.57 335.50,538.50 342.60,537.00 M342.60,537.00 C344.83,539.00 347.10,539.00 356.00,549.00 C364.90,559.00 383.47,582.08 396.00,597.00 C408.53,611.92 425.33,631.58 431.20,638.50" fill="none" stroke="#40c8c0" stroke-width="1.9" stroke-linecap="round" clip-path="url(#ce)"/>
<path d="M157.40,482.50 C161.13,483.75 171.08,485.42 179.80,490.00 C188.52,494.58 199.67,502.25 209.70,510.00 C219.73,517.75 233.83,531.23 240.00,536.50 C246.17,541.77 244.83,540.55 246.70,541.60 C248.57,542.65 250.45,542.60 251.20,542.80 M251.20,542.80 C259.33,542.33 284.77,540.97 300.00,540.00 C315.23,539.03 335.50,537.50 342.60,537.00 M342.60,537.00 C348.83,532.83 367.68,519.83 380.00,512.00 C392.32,504.17 407.97,494.83 416.50,490.00 C425.03,485.17 428.75,484.17 431.20,483.00" fill="none" stroke="#40c8c0" stroke-width="1.9" stroke-linecap="round" clip-path="url(#ce)"/>
<path d="M157.40,461.20 C167.00,464.00 199.37,474.33 215.00,478.00 C230.63,481.67 245.17,482.33 251.20,483.20 M251.20,483.20 C254.00,484.50 252.77,484.70 268.00,491.00 C283.23,497.30 330.17,516.00 342.60,521.00 M342.60,521.00 C345.83,519.17 354.77,514.25 362.00,510.00 C369.23,505.75 378.33,501.50 386.00,495.50 C393.67,489.50 400.47,480.15 408.00,474.00 C415.53,467.85 427.33,461.17 431.20,458.60" fill="none" stroke="#40c8c0" stroke-width="1.9" stroke-linecap="round" clip-path="url(#ce)"/>
<path d="M157.40,450.60 C167.00,454.20 199.37,468.22 215.00,472.20 C230.63,476.18 245.17,474.12 251.20,474.50 M251.20,474.50 C254.33,473.42 254.77,475.25 270.00,468.00 C285.23,460.75 330.50,437.17 342.60,431.00 M342.60,431.00 C350.18,433.92 373.33,443.67 388.10,448.50 C402.87,453.33 424.02,458.08 431.20,460.00" fill="none" stroke="#40c8c0" stroke-width="1.9" stroke-linecap="round" clip-path="url(#ce)"/>
<path d="M157.40,450.60 C163.95,449.00 186.27,444.77 196.70,441.00 C207.13,437.23 210.92,432.92 220.00,428.00 C229.08,423.08 246.00,414.25 251.20,411.50 M251.20,411.50 C259.33,412.83 284.77,416.67 300.00,419.50 C315.23,422.33 335.50,427.00 342.60,428.50 M342.60,428.50 C350.18,431.45 373.33,441.18 388.10,446.20 C402.87,451.22 424.02,456.53 431.20,458.60" fill="none" stroke="#40c8c0" stroke-width="1.9" stroke-linecap="round" clip-path="url(#ce)"/>
<path d="M157.40,431.00 C164.50,426.27 187.80,411.68 200.00,402.60 C212.20,393.52 225.50,380.85 230.60,376.50" fill="none" stroke="#40c8c0" stroke-width="1.9" stroke-linecap="round" clip-path="url(#ce)"/>
<path d="M157.40,431.00 C164.50,428.95 184.37,425.87 200.00,418.70 C215.63,411.53 242.67,393.12 251.20,388.00 M251.20,388.00 C259.33,386.83 289.87,382.92 300.00,381.00 C310.13,379.08 310.00,377.25 312.00,376.50" fill="none" stroke="#40c8c0" stroke-width="1.9" stroke-linecap="round" clip-path="url(#ce)"/>
<path d="M197.50,376.50 L251.20,411.50" fill="none" stroke="#40c8c0" stroke-width="1.9" stroke-linecap="round" clip-path="url(#ce)"/>
<path d="M251.20,384.00 C259.33,383.07 290.20,379.65 300.00,378.40 C309.80,377.15 308.33,376.82 310.00,376.50" fill="none" stroke="#40c8c0" stroke-width="1.9" stroke-linecap="round" clip-path="url(#ce)"/>
<path d="M352.70,376.50 C359.75,381.25 381.92,395.92 395.00,405.00 C408.08,414.08 425.17,426.67 431.20,431.00" fill="none" stroke="#40c8c0" stroke-width="1.9" stroke-linecap="round" clip-path="url(#ce)"/>
<path d="M374.00,376.50 C379.17,381.25 395.47,395.92 405.00,405.00 C414.53,414.08 426.83,426.67 431.20,431.00" fill="none" stroke="#40c8c0" stroke-width="1.9" stroke-linecap="round" clip-path="url(#ce)"/>
<path d="M342.60,422.30 L402.30,376.50" fill="none" stroke="#40c8c0" stroke-width="1.9" stroke-linecap="round" clip-path="url(#ce)"/>
<path d="M157.40,638.50 C167.18,628.75 201.67,594.50 216.10,580.00 C230.53,565.50 238.15,556.62 244.00,551.50 C249.85,546.38 250.00,549.67 251.20,549.30 M251.20,549.30 C259.33,548.45 284.77,546.25 300.00,544.20 C315.23,542.15 335.50,538.20 342.60,537.00 M342.60,537.00 C344.67,538.67 346.27,537.50 355.00,547.00 C363.73,556.50 382.30,578.75 395.00,594.00 C407.70,609.25 425.17,631.08 431.20,638.50" fill="none" stroke="#e020e0" stroke-width="1.9" stroke-linecap="round" clip-path="url(#ce)"/>
<path d="M157.40,455.00 C161.17,458.58 169.82,467.33 180.00,476.50 C190.18,485.67 208.50,500.83 218.50,510.00 C228.50,519.17 235.30,527.03 240.00,531.50 C244.70,535.97 244.83,535.75 246.70,536.80 C248.57,537.85 250.45,537.63 251.20,537.80 M251.20,537.80 C259.33,537.00 284.77,535.22 300.00,533.00 C315.23,530.78 335.50,525.92 342.60,524.50 M342.60,524.50 C345.50,522.92 353.30,519.08 360.00,515.00 C366.70,510.92 375.30,506.17 382.80,500.00 C390.30,493.83 396.93,485.50 405.00,478.00 C413.07,470.50 426.83,458.83 431.20,455.00" fill="none" stroke="#e020e0" stroke-width="1.9" stroke-linecap="round" clip-path="url(#ce)"/>
<path d="M157.40,455.00 C167.00,458.30 199.37,470.75 215.00,474.80 C230.63,478.85 245.17,478.55 251.20,479.30 M251.20,479.30 C254.33,480.92 254.77,481.47 270.00,489.00 C285.23,496.53 330.50,518.58 342.60,524.50 M342.60,524.50 C345.83,522.50 355.10,517.00 362.00,512.50 C368.90,508.00 376.67,503.67 384.00,497.50 C391.33,491.33 398.13,483.08 406.00,475.50 C413.87,467.92 427.00,455.92 431.20,452.00" fill="none" stroke="#e020e0" stroke-width="1.9" stroke-linecap="round" clip-path="url(#ce)"/>
<path d="M157.40,450.60 C167.00,452.92 199.37,461.72 215.00,464.50 C230.63,467.28 245.17,466.83 251.20,467.30 M251.20,467.30 C254.00,466.25 252.77,468.38 268.00,461.00 C283.23,453.62 330.17,429.33 342.60,423.00 M342.60,423.00 C350.18,425.08 373.33,431.33 388.10,435.50 C402.87,439.67 424.02,445.92 431.20,448.00" fill="none" stroke="#e020e0" stroke-width="1.9" stroke-linecap="round" clip-path="url(#ce)"/>
<path d="M157.40,450.60 C164.50,446.00 184.37,432.48 200.00,423.00 C215.63,413.52 242.67,398.58 251.20,393.70 M251.20,393.70 C259.33,396.52 284.77,405.38 300.00,410.60 C315.23,415.82 335.50,422.60 342.60,425.00 M342.60,425.00 C350.18,427.65 373.33,436.48 388.10,440.90 C402.87,445.32 424.02,449.73 431.20,451.50" fill="none" stroke="#e020e0" stroke-width="1.9" stroke-linecap="round" clip-path="url(#ce)"/>
<path d="M157.40,450.60 C164.50,445.58 184.37,430.52 200.00,420.50 C215.63,410.48 242.67,395.50 251.20,390.50 M251.20,390.50 C253.50,390.08 256.87,386.25 265.00,388.00 C273.13,389.75 287.07,397.27 300.00,401.00 C312.93,404.73 335.50,408.83 342.60,410.40 M342.60,410.40 C343.83,410.25 347.10,410.73 350.00,409.50 C352.90,408.27 356.67,406.08 360.00,403.00 C363.33,399.92 367.23,393.92 370.00,391.00 C372.77,388.08 374.60,386.00 376.60,385.50 C378.60,385.00 378.93,385.25 382.00,388.00 C385.07,390.75 386.80,392.00 395.00,402.00 C403.20,412.00 425.17,440.33 431.20,448.00" fill="none" stroke="#e020e0" stroke-width="1.9" stroke-linecap="round" clip-path="url(#ce)"/>
<path d="M230.60,377.00 L251.20,390.00" fill="none" stroke="#e020e0" stroke-width="1.9" stroke-linecap="round" clip-path="url(#ce)"/>
<path d="M235.00,376.00 C237.70,376.17 243.70,376.92 251.20,377.00 C258.70,377.08 275.20,376.58 280.00,376.50" fill="none" stroke="#e020e0" stroke-width="1.9" stroke-linecap="round" clip-path="url(#ce)"/>
<path d="M359.80,376.00 C365.67,381.67 383.10,398.00 395.00,410.00 C406.90,422.00 425.17,441.67 431.20,448.00" fill="none" stroke="#e020e0" stroke-width="1.9" stroke-linecap="round" clip-path="url(#ce)"/>
<path d="M251.20,413.50 C259.33,414.83 284.77,418.67 300.00,421.50 C315.23,424.33 335.50,429.00 342.60,430.50" fill="none" stroke="#40c8c0" stroke-width="1.9" stroke-linecap="round" clip-path="url(#ce)"/>
<line x1="251.20" y1="376.50" x2="251.20" y2="638.50" stroke="#000" stroke-width="1.5" stroke-linecap="butt"/>
<line x1="342.60" y1="376.50" x2="342.60" y2="638.50" stroke="#000" stroke-width="1.5" stroke-linecap="butt"/>
<line x1="157.40" y1="638.50" x2="431.20" y2="638.50" stroke="#000" stroke-width="1.6" stroke-linecap="butt"/>
<line x1="426.70" y1="612.30" x2="431.20" y2="612.30" stroke="#000" stroke-width="1.1" stroke-linecap="butt"/>
<line x1="426.70" y1="586.10" x2="431.20" y2="586.10" stroke="#000" stroke-width="1.1" stroke-linecap="butt"/>
<line x1="426.70" y1="559.90" x2="431.20" y2="559.90" stroke="#000" stroke-width="1.1" stroke-linecap="butt"/>
<line x1="426.70" y1="533.70" x2="431.20" y2="533.70" stroke="#000" stroke-width="1.1" stroke-linecap="butt"/>
<line x1="426.70" y1="507.50" x2="431.20" y2="507.50" stroke="#000" stroke-width="1.1" stroke-linecap="butt"/>
<line x1="426.70" y1="481.30" x2="431.20" y2="481.30" stroke="#000" stroke-width="1.1" stroke-linecap="butt"/>
<line x1="426.70" y1="455.10" x2="431.20" y2="455.10" stroke="#000" stroke-width="1.1" stroke-linecap="butt"/>
<line x1="426.70" y1="428.90" x2="431.20" y2="428.90" stroke="#000" stroke-width="1.1" stroke-linecap="butt"/>
<line x1="426.70" y1="402.70" x2="431.20" y2="402.70" stroke="#000" stroke-width="1.1" stroke-linecap="butt"/>
<line x1="259.50" y1="591.00" x2="274.50" y2="591.00" stroke="#e020e0" stroke-width="1.8" stroke-linecap="butt"/>
<line x1="259.50" y1="603.40" x2="274.50" y2="603.40" stroke="#40c8c0" stroke-width="1.8" stroke-linecap="butt"/>
<text x="282.20" y="595.00" font-family='"Liberation Serif", serif' font-size="11.5" text-anchor="start" fill="#222" textLength="45" lengthAdjust="spacingAndGlyphs">TE mode</text>
<text x="282.20" y="607.40" font-family='"Liberation Serif", serif' font-size="11.5" text-anchor="start" fill="#222" textLength="55" lengthAdjust="spacingAndGlyphs">TM modes</text>
<text x="164.60" y="650.80" font-family='"Liberation Serif", serif' font-size="12.5" text-anchor="middle" fill="#222">Γ</text>
<text x="249.50" y="650.50" font-family='"Liberation Serif", serif' font-size="12" text-anchor="middle" fill="#222">M</text>
<text x="345.20" y="650.50" font-family='"Liberation Serif", serif' font-size="12" text-anchor="middle" fill="#222">K</text>
<text x="214" y="675" font-family='"Liberation Sans", sans-serif' font-size="18" textLength="176.5" lengthAdjust="spacingAndGlyphs">Wave vector (ka/2π)</text>
<text x="169.80" y="393.50" font-family='"Liberation Sans", sans-serif' font-size="18.5" text-anchor="start" fill="#454545" font-weight="bold" textLength="21.2" lengthAdjust="spacingAndGlyphs">(e)</text>
<clipPath id="cg"><rect x="46.7" y="689.5" width="362.3" height="254.79999999999995"/></clipPath>
<path d="M46.70,944.00 C64.92,930.17 135.98,875.60 156.00,861.00 C176.02,846.40 165.00,857.17 166.80,856.40 M166.80,855.80 C177.33,855.17 209.87,853.77 230.00,852.00 C250.13,850.23 278.00,846.33 287.60,845.20 M287.60,845.20 C289.33,845.75 293.93,846.20 298.00,848.50 C302.07,850.80 305.83,853.83 312.00,859.00 C318.17,864.17 320.33,866.42 335.00,879.50 C349.67,892.58 387.67,926.75 400.00,937.50 C412.33,948.25 407.50,942.92 409.00,944.00" fill="none" stroke="#5ccbc6" stroke-width="1.6" stroke-linecap="round" clip-path="url(#cg)"/>
<path d="M46.70,786.40 C50.58,787.00 61.12,786.73 70.00,790.00 C78.88,793.27 85.83,796.25 100.00,806.00 C114.17,815.75 143.87,840.83 155.00,848.50 C166.13,856.17 164.83,851.42 166.80,852.00 M166.80,849.00 C177.33,848.17 209.87,846.33 230.00,844.00 C250.13,841.67 278.00,836.50 287.60,835.00 M287.60,835.00 C289.67,834.08 293.77,832.08 300.00,829.50 C306.23,826.92 315.00,823.83 325.00,819.50 C335.00,815.17 346.00,812.58 360.00,803.50 C374.00,794.42 400.83,771.42 409.00,765.00" fill="none" stroke="#5ccbc6" stroke-width="1.6" stroke-linecap="round" clip-path="url(#cg)"/>
<path d="M46.70,763.40 C55.58,765.67 79.98,773.73 100.00,777.00 C120.02,780.27 155.67,782.00 166.80,783.00 M166.80,783.00 C172.33,785.92 186.13,794.50 200.00,800.50 C213.87,806.50 235.40,813.23 250.00,819.00 C264.60,824.77 281.33,832.42 287.60,835.10 M287.60,835.10 C290.08,835.28 296.27,836.58 302.50,836.20 C308.73,835.82 315.42,835.62 325.00,832.80 C334.58,829.98 347.50,824.93 360.00,819.30 C372.50,813.67 391.83,804.48 400.00,799.00 C408.17,793.52 407.50,788.50 409.00,786.40" fill="none" stroke="#5ccbc6" stroke-width="1.6" stroke-linecap="round" clip-path="url(#cg)"/>
<path d="M46.70,763.40 C55.58,766.67 79.98,778.60 100.00,783.00 C120.02,787.40 155.67,788.67 166.80,789.80 M166.80,781.90 C172.33,780.58 186.13,778.23 200.00,774.00 C213.87,769.77 235.40,759.87 250.00,756.50 C264.60,753.13 281.33,754.25 287.60,753.80 M287.60,753.80 C296.33,755.17 319.77,759.75 340.00,762.00 C360.23,764.25 397.50,766.42 409.00,767.30" fill="none" stroke="#5ccbc6" stroke-width="1.6" stroke-linecap="round" clip-path="url(#cg)"/>
<path d="M46.70,752.60 C57.25,748.50 89.98,734.20 110.00,728.00 C130.02,721.80 157.33,717.50 166.80,715.40 M166.80,715.40 C180.67,717.10 229.87,724.47 250.00,725.60 C270.13,726.73 281.33,722.77 287.60,722.20 M287.60,722.20 C298.00,724.83 329.77,732.93 350.00,738.00 C370.23,743.07 399.17,750.17 409.00,752.60" fill="none" stroke="#5ccbc6" stroke-width="1.6" stroke-linecap="round" clip-path="url(#cg)"/>
<path d="M46.70,752.60 C57.25,747.50 89.98,729.70 110.00,722.00 C130.02,714.30 157.33,709.00 166.80,706.40 M166.80,706.40 C174.00,705.17 196.85,701.82 210.00,699.00 C223.15,696.18 239.75,691.08 245.70,689.50" fill="none" stroke="#5ccbc6" stroke-width="1.6" stroke-linecap="round" clip-path="url(#cg)"/>
<path d="M46.70,742.50 C55.58,737.42 84.58,719.70 100.00,712.00 C115.42,704.30 130.03,698.13 139.20,696.30 C148.37,694.47 150.40,699.68 155.00,701.00 C159.60,702.32 164.83,703.67 166.80,704.20 M166.80,703.00 C172.05,702.82 178.17,698.70 198.30,701.90 C218.43,705.10 272.72,718.82 287.60,722.20" fill="none" stroke="#5ccbc6" stroke-width="1.6" stroke-linecap="round" clip-path="url(#cg)"/>
<path d="M287.60,722.20 C289.67,720.67 294.32,715.45 300.00,713.00 C305.68,710.55 314.20,706.67 321.70,707.50 C329.20,708.33 330.45,710.48 345.00,718.00 C359.55,725.52 398.33,746.83 409.00,752.60" fill="none" stroke="#5ccbc6" stroke-width="1.6" stroke-linecap="round" clip-path="url(#cg)"/>
<path d="M321.70,689.50 C328.92,693.25 350.45,703.55 365.00,712.00 C379.55,720.45 401.67,735.50 409.00,740.20" fill="none" stroke="#5ccbc6" stroke-width="1.6" stroke-linecap="round" clip-path="url(#cg)"/>
<path d="M46.70,944.00 C64.75,929.58 134.98,873.02 155.00,857.50 C175.02,841.98 164.83,852.00 166.80,850.90 M166.80,849.70 C177.33,848.42 209.87,844.62 230.00,842.00 C250.13,839.38 278.00,835.33 287.60,834.00 M287.60,834.00 C289.00,835.17 277.27,824.08 296.00,841.00 C314.73,857.92 381.17,918.33 400.00,935.50 C418.83,952.67 407.50,942.58 409.00,944.00" fill="none" stroke="#e04ae6" stroke-width="1.6" stroke-linecap="round" clip-path="url(#cg)"/>
<path d="M46.70,763.40 C49.25,764.92 44.45,759.48 62.00,772.50 C79.55,785.52 134.53,829.38 152.00,841.50 C169.47,853.62 164.33,844.58 166.80,845.20 M166.80,845.20 C177.33,844.33 209.87,842.25 230.00,840.00 C250.13,837.75 278.00,833.08 287.60,831.70 M287.60,831.70 C289.67,830.92 293.77,829.45 300.00,827.00 C306.23,824.55 315.00,821.28 325.00,817.00 C335.00,812.72 346.00,810.15 360.00,801.30 C374.00,792.45 400.83,770.13 409.00,763.90" fill="none" stroke="#e04ae6" stroke-width="1.6" stroke-linecap="round" clip-path="url(#cg)"/>
<path d="M46.70,752.60 C55.58,755.33 79.98,764.87 100.00,769.00 C120.02,773.13 155.67,776.00 166.80,777.40 M166.80,777.40 C177.33,773.17 209.87,760.45 230.00,752.00 C250.13,743.55 278.00,730.92 287.60,726.70 M287.60,726.70 C296.33,730.25 323.60,742.93 340.00,748.00 C356.40,753.07 374.50,756.33 386.00,757.10 C397.50,757.87 405.17,753.35 409.00,752.60" fill="none" stroke="#e04ae6" stroke-width="1.6" stroke-linecap="round" clip-path="url(#cg)"/>
<path d="M46.70,763.40 C55.58,765.17 79.98,771.10 100.00,774.00 C120.02,776.90 155.67,779.67 166.80,780.80 M166.80,780.80 C168.17,781.50 161.13,779.90 175.00,785.00 C188.87,790.10 231.23,803.62 250.00,811.40 C268.77,819.18 281.33,828.32 287.60,831.70 M287.60,831.70 C289.67,831.08 293.77,830.25 300.00,828.00 C306.23,825.75 315.00,822.48 325.00,818.20 C335.00,813.92 346.00,811.35 360.00,802.30 C374.00,793.25 400.83,770.30 409.00,763.90" fill="none" stroke="#e04ae6" stroke-width="1.6" stroke-linecap="round" clip-path="url(#cg)"/>
<path d="M46.70,752.60 C57.25,748.00 89.98,733.27 110.00,725.00 C130.02,716.73 157.33,706.67 166.80,703.00 M166.80,703.00 C177.33,704.83 209.87,710.23 230.00,714.00 C250.13,717.77 278.00,723.67 287.60,725.60 M287.60,725.60 C298.00,728.00 329.77,736.43 350.00,740.00 C370.23,743.57 399.17,745.83 409.00,747.00" fill="none" stroke="#e04ae6" stroke-width="1.6" stroke-linecap="round" clip-path="url(#cg)"/>
<path d="M46.70,744.00 C57.25,738.67 89.98,720.70 110.00,712.00 C130.02,703.30 157.33,695.17 166.80,691.80 M166.80,692.90 C177.33,695.58 209.87,703.37 230.00,709.00 C250.13,714.63 275.93,722.82 287.60,726.70 C299.27,730.58 297.93,731.37 300.00,732.30" fill="none" stroke="#e04ae6" stroke-width="1.6" stroke-linecap="round" clip-path="url(#cg)"/>
<path d="M46.70,742.50 C53.92,737.42 77.22,720.83 90.00,712.00 C102.78,703.17 117.83,693.25 123.40,689.50" fill="none" stroke="#e04ae6" stroke-width="1.6" stroke-linecap="round" clip-path="url(#cg)"/>
<path d="M287.60,722.20 C291.33,718.83 303.57,706.32 310.00,702.00 C316.43,697.68 320.37,695.80 326.20,696.30 C332.03,696.80 331.20,697.12 345.00,705.00 C358.80,712.88 398.33,737.17 409.00,743.60" fill="none" stroke="#e04ae6" stroke-width="1.6" stroke-linecap="round" clip-path="url(#cg)"/>
<path d="M339.70,689.50 C345.58,693.75 363.45,706.35 375.00,715.00 C386.55,723.65 403.33,737.00 409.00,741.40" fill="none" stroke="#e04ae6" stroke-width="1.6" stroke-linecap="round" clip-path="url(#cg)"/>
<path d="M166.80,690.50 L180.00,689.50" fill="none" stroke="#e04ae6" stroke-width="1.6" stroke-linecap="round" clip-path="url(#cg)"/>
<line x1="46.70" y1="689.50" x2="46.70" y2="945.10" stroke="#000" stroke-width="1.8" stroke-linecap="butt"/>
<line x1="45.80" y1="689.50" x2="578.80" y2="689.50" stroke="#000" stroke-width="1.7" stroke-linecap="butt"/>
<line x1="45.80" y1="944.30" x2="409.00" y2="944.30" stroke="#000" stroke-width="1.6" stroke-linecap="butt"/>
<line x1="166.80" y1="689.50" x2="166.80" y2="944.30" stroke="#000" stroke-width="1.4" stroke-linecap="butt"/>
<line x1="287.60" y1="689.50" x2="287.60" y2="944.30" stroke="#000" stroke-width="1.4" stroke-linecap="butt"/>
<line x1="409.00" y1="689.50" x2="409.00" y2="944.90" stroke="#000" stroke-width="1.3" stroke-linecap="butt"/>
<line x1="46.70" y1="931.56" x2="50.20" y2="931.56" stroke="#000" stroke-width="1.3" stroke-linecap="butt"/>
<line x1="405.50" y1="931.56" x2="409.00" y2="931.56" stroke="#000" stroke-width="1.2" stroke-linecap="butt"/>
<line x1="46.70" y1="918.82" x2="52.70" y2="918.82" stroke="#000" stroke-width="1.3" stroke-linecap="butt"/>
<line x1="403.00" y1="918.82" x2="409.00" y2="918.82" stroke="#000" stroke-width="1.2" stroke-linecap="butt"/>
<line x1="46.70" y1="906.08" x2="50.20" y2="906.08" stroke="#000" stroke-width="1.3" stroke-linecap="butt"/>
<line x1="405.50" y1="906.08" x2="409.00" y2="906.08" stroke="#000" stroke-width="1.2" stroke-linecap="butt"/>
<line x1="46.70" y1="893.34" x2="52.70" y2="893.34" stroke="#000" stroke-width="1.3" stroke-linecap="butt"/>
<line x1="403.00" y1="893.34" x2="409.00" y2="893.34" stroke="#000" stroke-width="1.2" stroke-linecap="butt"/>
<line x1="46.70" y1="880.60" x2="50.20" y2="880.60" stroke="#000" stroke-width="1.3" stroke-linecap="butt"/>
<line x1="405.50" y1="880.60" x2="409.00" y2="880.60" stroke="#000" stroke-width="1.2" stroke-linecap="butt"/>
<line x1="46.70" y1="867.86" x2="52.70" y2="867.86" stroke="#000" stroke-width="1.3" stroke-linecap="butt"/>
<line x1="403.00" y1="867.86" x2="409.00" y2="867.86" stroke="#000" stroke-width="1.2" stroke-linecap="butt"/>
<line x1="46.70" y1="855.12" x2="50.20" y2="855.12" stroke="#000" stroke-width="1.3" stroke-linecap="butt"/>
<line x1="405.50" y1="855.12" x2="409.00" y2="855.12" stroke="#000" stroke-width="1.2" stroke-linecap="butt"/>
<line x1="46.70" y1="842.38" x2="52.70" y2="842.38" stroke="#000" stroke-width="1.3" stroke-linecap="butt"/>
<line x1="403.00" y1="842.38" x2="409.00" y2="842.38" stroke="#000" stroke-width="1.2" stroke-linecap="butt"/>
<line x1="46.70" y1="829.64" x2="50.20" y2="829.64" stroke="#000" stroke-width="1.3" stroke-linecap="butt"/>
<line x1="405.50" y1="829.64" x2="409.00" y2="829.64" stroke="#000" stroke-width="1.2" stroke-linecap="butt"/>
<line x1="46.70" y1="816.90" x2="52.70" y2="816.90" stroke="#000" stroke-width="1.3" stroke-linecap="butt"/>
<line x1="403.00" y1="816.90" x2="409.00" y2="816.90" stroke="#000" stroke-width="1.2" stroke-linecap="butt"/>
<line x1="46.70" y1="804.16" x2="50.20" y2="804.16" stroke="#000" stroke-width="1.3" stroke-linecap="butt"/>
<line x1="405.50" y1="804.16" x2="409.00" y2="804.16" stroke="#000" stroke-width="1.2" stroke-linecap="butt"/>
<line x1="46.70" y1="791.42" x2="52.70" y2="791.42" stroke="#000" stroke-width="1.3" stroke-linecap="butt"/>
<line x1="403.00" y1="791.42" x2="409.00" y2="791.42" stroke="#000" stroke-width="1.2" stroke-linecap="butt"/>
<line x1="46.70" y1="778.68" x2="50.20" y2="778.68" stroke="#000" stroke-width="1.3" stroke-linecap="butt"/>
<line x1="405.50" y1="778.68" x2="409.00" y2="778.68" stroke="#000" stroke-width="1.2" stroke-linecap="butt"/>
<line x1="46.70" y1="765.94" x2="52.70" y2="765.94" stroke="#000" stroke-width="1.3" stroke-linecap="butt"/>
<line x1="403.00" y1="765.94" x2="409.00" y2="765.94" stroke="#000" stroke-width="1.2" stroke-linecap="butt"/>
<line x1="46.70" y1="753.20" x2="50.20" y2="753.20" stroke="#000" stroke-width="1.3" stroke-linecap="butt"/>
<line x1="405.50" y1="753.20" x2="409.00" y2="753.20" stroke="#000" stroke-width="1.2" stroke-linecap="butt"/>
<line x1="46.70" y1="740.46" x2="52.70" y2="740.46" stroke="#000" stroke-width="1.3" stroke-linecap="butt"/>
<line x1="403.00" y1="740.46" x2="409.00" y2="740.46" stroke="#000" stroke-width="1.2" stroke-linecap="butt"/>
<line x1="46.70" y1="727.72" x2="50.20" y2="727.72" stroke="#000" stroke-width="1.3" stroke-linecap="butt"/>
<line x1="405.50" y1="727.72" x2="409.00" y2="727.72" stroke="#000" stroke-width="1.2" stroke-linecap="butt"/>
<line x1="46.70" y1="714.98" x2="52.70" y2="714.98" stroke="#000" stroke-width="1.3" stroke-linecap="butt"/>
<line x1="403.00" y1="714.98" x2="409.00" y2="714.98" stroke="#000" stroke-width="1.2" stroke-linecap="butt"/>
<line x1="46.70" y1="702.24" x2="50.20" y2="702.24" stroke="#000" stroke-width="1.3" stroke-linecap="butt"/>
<line x1="405.50" y1="702.24" x2="409.00" y2="702.24" stroke="#000" stroke-width="1.2" stroke-linecap="butt"/>
<text x="42.80" y="949.30" font-family='"Liberation Serif", serif' font-size="15" text-anchor="end" fill="#222">0</text>
<text x="42.80" y="923.82" font-family='"Liberation Serif", serif' font-size="15" text-anchor="end" fill="#222">1</text>
<text x="42.80" y="898.34" font-family='"Liberation Serif", serif' font-size="15" text-anchor="end" fill="#222">2</text>
<text x="42.80" y="872.86" font-family='"Liberation Serif", serif' font-size="15" text-anchor="end" fill="#222">3</text>
<text x="42.80" y="847.38" font-family='"Liberation Serif", serif' font-size="15" text-anchor="end" fill="#222">4</text>
<text x="42.80" y="821.90" font-family='"Liberation Serif", serif' font-size="15" text-anchor="end" fill="#222">5</text>
<text x="42.80" y="796.42" font-family='"Liberation Serif", serif' font-size="15" text-anchor="end" fill="#222">6</text>
<text x="42.80" y="770.94" font-family='"Liberation Serif", serif' font-size="15" text-anchor="end" fill="#222">7</text>
<text x="42.80" y="745.46" font-family='"Liberation Serif", serif' font-size="15" text-anchor="end" fill="#222">8</text>
<text x="42.80" y="719.98" font-family='"Liberation Serif", serif' font-size="15" text-anchor="end" fill="#222">9</text>
<text x="42.80" y="694.50" font-family='"Liberation Serif", serif' font-size="15" text-anchor="end" fill="#222">10</text>
<text x="46.70" y="963.00" font-family='"Liberation Serif", serif' font-size="17.5" text-anchor="middle" fill="#222">Γ</text>
<text x="166.80" y="963.00" font-family='"Liberation Serif", serif' font-size="17.5" text-anchor="middle" fill="#222">M</text>
<text x="287.60" y="963.00" font-family='"Liberation Serif", serif' font-size="17.5" text-anchor="middle" fill="#222">K</text>
<text x="409.00" y="963.00" font-family='"Liberation Serif", serif' font-size="17.5" text-anchor="middle" fill="#222">Γ</text>
<line x1="176.80" y1="895.70" x2="191.40" y2="895.70" stroke="#e020e0" stroke-width="1.6" stroke-linecap="butt"/>
<line x1="176.80" y1="911.20" x2="191.40" y2="911.20" stroke="#40c8c0" stroke-width="1.6" stroke-linecap="butt"/>
<text x="195.60" y="900.50" font-family='"Liberation Serif", serif' font-size="15" text-anchor="start" fill="#222" textLength="70.4" lengthAdjust="spacingAndGlyphs">TE modes</text>
<text x="195.60" y="916.00" font-family='"Liberation Serif", serif' font-size="15" text-anchor="start" fill="#222" textLength="75.4" lengthAdjust="spacingAndGlyphs">TM modes</text>
<text x="214.4" y="981" font-family='"Liberation Sans", sans-serif' font-size="19" textLength="175" lengthAdjust="spacingAndGlyphs">Wave vector (ka/2π)</text>
<text x="2.60" y="703.00" font-family='"Liberation Serif", serif' font-size="17" text-anchor="start" fill="#333" font-weight="bold" textLength="20" lengthAdjust="spacingAndGlyphs">(g)</text>
<text transform="translate(15.8,906) rotate(-90)" font-family='"Liberation Sans", sans-serif' font-size="18.5" textLength="187" lengthAdjust="spacingAndGlyphs">Frequency (x 10<tspan dy="-6" font-size="12">14</tspan><tspan dy="6"> Hz)</tspan></text>
<line x1="578.80" y1="688.90" x2="578.80" y2="946.10" stroke="#000" stroke-width="1.3" stroke-linecap="butt"/>
<line x1="409.00" y1="945.50" x2="578.80" y2="945.50" stroke="#000" stroke-width="1.5" stroke-linecap="butt"/>
<polygon points="578.80,689.80 555.94,689.80 555.88,690.00 555.79,690.20 555.67,690.40 555.51,690.60 536.50,690.80 536.50,691.00 536.50,691.20 536.50,691.40 536.50,691.60 536.50,691.80 536.50,692.00 553.87,692.20 553.67,692.40 553.49,692.60 553.33,692.80 553.21,693.00 553.12,693.20 553.06,693.40 553.03,693.60 553.01,693.80 552.99,694.00 552.95,694.20 552.86,694.40 552.70,694.60 552.41,694.80 551.96,695.00 551.34,695.20 550.57,695.40 549.69,695.60 548.76,695.80 547.84,696.00 546.99,696.20 546.26,696.40 545.67,696.60 545.22,696.80 524.40,697.00 524.40,697.20 524.40,697.40 524.40,697.60 524.40,697.80 524.40,698.00 543.99,698.20 543.88,698.40 543.77,698.60 543.69,698.80 543.62,699.00 543.57,699.20 543.53,699.40 543.52,699.60 543.50,699.80 543.47,700.00 543.41,700.20 543.27,700.40 542.99,700.60 542.50,700.80 541.74,701.00 540.70,701.20 539.38,701.40 537.85,701.60 536.15,701.80 534.34,702.00 532.42,702.20 530.41,702.40 528.28,702.60 526.06,702.80 478.10,703.00 478.10,703.20 478.10,703.40 478.10,703.60 478.10,703.80 478.10,704.00 512.15,704.20 511.58,704.40 511.53,704.60 511.91,704.80 512.53,705.00 513.26,705.20 514.00,705.40 514.69,705.60 515.32,705.80 515.91,706.00 516.43,706.20 516.89,706.40 517.29,706.60 517.63,706.80 517.92,707.00 518.16,707.20 518.39,707.40 518.60,707.60 518.80,707.80 519.00,708.00 519.19,708.20 519.38,708.40 519.55,708.60 519.70,708.80 519.83,709.00 519.93,709.20 520.00,709.40 520.06,709.60 520.10,709.80 520.13,710.00 520.16,710.20 520.19,710.40 520.21,710.60 520.24,710.80 520.27,711.00 520.29,711.20 520.31,711.40 520.33,711.60 520.34,711.80 520.35,712.00 520.34,712.20 520.33,712.40 520.31,712.60 520.29,712.80 520.27,713.00 520.24,713.20 520.21,713.40 520.19,713.60 520.16,713.80 520.13,714.00 520.10,714.20 520.06,714.40 520.00,714.60 519.93,714.80 519.83,715.00 519.70,715.20 519.55,715.40 519.38,715.60 519.19,715.80 519.00,716.00 518.80,716.20 518.60,716.40 518.39,716.60 518.18,716.80 517.95,717.00 517.70,717.20 517.41,717.40 517.08,717.60 516.72,717.80 516.32,718.00 515.90,718.20 515.46,718.40 515.00,718.60 514.51,718.80 513.96,719.00 513.35,719.20 512.63,719.40 511.80,719.60 510.89,719.80 509.98,720.00 509.18,720.20 508.68,720.40 508.66,720.60 509.28,720.80 510.60,721.00 479.10,721.20 479.10,721.40 479.10,721.60 479.10,721.80 479.10,722.00 479.10,722.20 479.10,722.40 531.64,722.60 533.61,722.80 535.17,723.00 536.35,723.20 537.19,723.40 537.76,723.60 538.11,723.80 538.31,724.00 538.41,724.20 538.41,724.40 538.33,724.60 538.11,724.80 537.71,725.00 537.05,725.20 536.09,725.40 534.83,725.60 533.29,725.80 531.52,726.00 529.59,726.20 499.30,726.40 499.30,726.60 499.30,726.80 499.30,727.00 499.30,727.20 499.30,727.40 516.15,727.60 515.33,727.80 515.05,728.00 515.26,728.20 515.82,728.40 516.58,728.60 517.39,728.80 518.13,729.00 518.77,729.20 519.28,729.40 519.69,729.60 520.02,729.80 520.32,730.00 520.60,730.20 520.87,730.40 521.13,730.60 521.40,730.80 521.66,731.00 521.92,731.20 522.18,731.40 522.42,731.60 522.64,731.80 522.83,732.00 523.00,732.20 523.14,732.40 523.26,732.60 523.36,732.80 523.46,733.00 523.56,733.20 523.65,733.40 523.75,733.60 523.84,733.80 523.93,734.00 524.01,734.20 524.09,734.40 524.14,734.60 524.17,734.80 524.15,735.00 524.10,735.20 524.01,735.40 523.89,735.60 523.75,735.80 523.60,736.00 523.44,736.20 523.28,736.40 523.12,736.60 522.96,736.80 522.80,737.00 522.62,737.20 522.44,737.40 522.23,737.60 521.98,737.80 521.69,738.00 521.34,738.20 520.95,738.40 520.52,738.60 520.06,738.80 519.60,739.00 519.12,739.20 518.63,739.40 518.14,739.60 517.63,739.80 517.07,740.00 516.46,740.20 515.77,740.40 514.98,740.60 514.09,740.80 513.12,741.00 512.10,741.20 511.06,741.40 510.04,741.60 509.12,741.80 508.39,742.00 507.95,742.20 507.92,742.40 508.37,742.60 509.30,742.80 510.64,743.00 436.30,743.20 436.30,743.40 436.30,743.60 436.30,743.80 436.30,744.00 436.30,744.20 436.30,744.40 525.44,744.60 527.02,744.80 528.43,745.00 529.67,745.20 530.75,745.40 531.68,745.60 532.44,745.80 533.05,746.00 533.49,746.20 533.78,746.40 533.96,746.60 534.07,746.80 534.13,747.00 534.17,747.20 534.20,747.40 534.23,747.60 534.26,747.80 534.29,748.00 534.31,748.20 534.34,748.40 534.35,748.60 534.35,748.80 534.30,749.00 534.20,749.20 534.02,749.40 533.75,749.60 533.38,749.80 532.94,750.00 532.43,750.20 531.89,750.40 531.33,750.60 530.76,750.80 530.18,751.00 529.61,751.20 529.03,751.40 528.46,751.60 527.89,751.80 527.33,752.00 526.80,752.20 526.31,752.40 525.90,752.60 525.56,752.80 525.32,753.00 496.20,753.20 496.20,753.40 496.20,753.60 496.20,753.80 496.20,754.00 496.20,754.20 496.20,754.40 525.00,754.60 525.00,754.80 525.00,755.00 525.00,755.20 525.00,755.40 525.00,755.60 525.01,755.80 525.04,756.00 525.14,756.20 525.35,756.40 525.79,756.60 526.54,756.80 527.71,757.00 529.32,757.20 470.00,757.40 470.00,757.60 470.00,757.80 470.00,758.00 470.00,758.20 470.00,758.40 547.26,758.60 550.00,758.80 552.63,759.00 555.06,759.20 557.17,759.40 558.85,759.60 560.08,759.80 560.87,760.00 561.33,760.20 561.56,760.40 561.66,760.60 561.69,760.80 561.70,761.00 561.70,761.20 561.69,761.40 561.66,761.60 561.59,761.80 561.40,762.00 561.04,762.20 560.39,762.40 559.38,762.60 557.96,762.80 556.09,763.00 553.79,763.20 551.06,763.40 547.91,763.60 544.38,763.80 448.50,764.00 448.50,764.20 448.50,764.40 448.50,764.60 448.50,764.80 448.50,765.00 517.72,765.20 515.75,765.40 514.70,765.60 514.50,765.80 514.92,766.00 515.70,766.20 516.62,766.40 517.51,766.60 518.31,766.80 519.00,767.00 519.59,767.20 520.13,767.40 520.63,767.60 521.12,767.80 521.60,768.00 522.06,768.20 522.52,768.40 522.95,768.60 523.34,768.80 523.69,769.00 523.98,769.20 524.23,769.40 524.44,769.60 524.62,769.80 524.80,770.00 524.96,770.20 525.12,770.40 525.28,770.60 525.44,770.80 525.59,771.00 525.74,771.20 525.88,771.40 525.98,771.60 526.04,771.80 526.06,772.00 526.01,772.20 525.92,772.40 525.78,772.60 525.61,772.80 525.43,773.00 525.25,773.20 525.05,773.40 524.85,773.60 524.63,773.80 524.37,774.00 524.07,774.20 523.70,774.40 523.25,774.60 522.73,774.80 522.12,775.00 521.46,775.20 520.71,775.40 519.87,775.60 518.87,775.80 517.67,776.00 516.24,776.20 514.63,776.40 512.99,776.60 511.58,776.80 510.69,777.00 510.56,777.20 446.70,777.40 446.70,777.60 446.70,777.80 446.70,778.00 446.70,778.20 446.70,778.40 446.70,778.60 526.95,778.80 528.26,779.00 529.11,779.20 529.60,779.40 529.85,779.60 529.95,779.80 529.99,780.00 530.00,780.20 530.00,780.40 530.00,780.60 530.00,780.80 480.10,781.00 480.10,781.20 480.10,781.40 480.10,781.60 480.10,781.80 480.10,782.00 480.10,782.20 533.52,782.40 535.55,782.60 538.02,782.80 540.72,783.00 543.38,783.20 545.79,783.40 547.78,783.60 549.32,783.80 550.44,784.00 551.26,784.20 551.88,784.40 552.39,784.60 552.85,784.80 553.29,785.00 553.72,785.20 554.13,785.40 554.52,785.60 554.86,785.80 555.14,786.00 555.37,786.20 555.55,786.40 555.68,786.60 555.78,786.80 555.87,787.00 555.95,787.20 556.03,787.40 556.10,787.60 556.18,787.80 556.25,788.00 556.33,788.20 556.40,788.40 556.48,788.60 556.55,788.80 556.62,789.00 556.70,789.20 556.76,789.40 556.83,789.60 556.88,789.80 556.92,790.00 556.94,790.20 556.95,790.40 556.95,790.60 556.95,790.80 556.94,791.00 556.93,791.20 556.92,791.40 556.90,791.60 556.89,791.80 556.88,792.00 556.87,792.20 556.86,792.40 556.84,792.60 556.83,792.80 556.82,793.00 556.81,793.20 556.80,793.40 556.78,793.60 556.77,793.80 556.76,794.00 556.75,794.20 556.74,794.40 556.72,794.60 556.71,794.80 556.70,795.00 556.69,795.20 556.68,795.40 556.66,795.60 556.65,795.80 556.64,796.00 556.63,796.20 556.62,796.40 556.60,796.60 556.59,796.80 556.58,797.00 556.57,797.20 556.56,797.40 556.54,797.60 556.53,797.80 556.52,798.00 556.51,798.20 556.50,798.40 556.48,798.60 556.47,798.80 556.46,799.00 556.45,799.20 556.44,799.40 556.42,799.60 556.41,799.80 556.40,800.00 556.39,800.20 556.38,800.40 556.36,800.60 556.35,800.80 556.34,801.00 556.33,801.20 556.32,801.40 556.30,801.60 556.29,801.80 556.28,802.00 556.27,802.20 556.26,802.40 556.24,802.60 556.23,802.80 556.22,803.00 556.21,803.20 556.20,803.40 556.18,803.60 556.17,803.80 556.16,804.00 556.15,804.20 556.14,804.40 556.12,804.60 556.11,804.80 556.10,805.00 556.09,805.20 556.08,805.40 556.06,805.60 556.05,805.80 556.04,806.00 556.03,806.20 556.02,806.40 556.00,806.60 555.99,806.80 555.98,807.00 555.97,807.20 555.96,807.40 555.94,807.60 555.93,807.80 555.92,808.00 555.91,808.20 555.90,808.40 555.88,808.60 555.87,808.80 555.86,809.00 555.85,809.20 555.84,809.40 555.82,809.60 555.81,809.80 555.80,810.00 555.79,810.20 555.78,810.40 555.76,810.60 555.75,810.80 555.74,811.00 555.73,811.20 555.72,811.40 555.70,811.60 555.69,811.80 555.68,812.00 555.67,812.20 555.66,812.40 555.64,812.60 555.63,812.80 555.62,813.00 555.61,813.20 555.60,813.40 555.58,813.60 555.57,813.80 555.56,814.00 555.54,814.20 555.52,814.40 555.50,814.60 555.46,814.80 555.41,815.00 555.35,815.20 555.28,815.40 555.19,815.60 555.10,815.80 555.00,816.00 554.90,816.20 554.80,816.40 554.70,816.60 554.60,816.80 554.50,817.00 554.40,817.20 554.30,817.40 554.20,817.60 554.10,817.80 554.00,818.00 553.90,818.20 553.80,818.40 553.70,818.60 553.60,818.80 553.50,819.00 553.40,819.20 553.30,819.40 553.20,819.60 553.10,819.80 553.00,820.00 552.90,820.20 552.80,820.40 552.70,820.60 552.60,820.80 552.50,821.00 552.39,821.20 552.27,821.40 552.14,821.60 551.98,821.80 551.79,822.00 551.56,822.20 551.31,822.40 551.02,822.60 550.72,822.80 550.42,823.00 550.10,823.20 549.79,823.40 549.47,823.60 549.15,823.80 548.84,824.00 548.52,824.20 548.20,824.40 547.89,824.60 547.57,824.80 547.26,825.00 546.94,825.20 546.62,825.40 546.31,825.60 545.99,825.80 545.67,826.00 545.35,826.20 545.02,826.40 544.69,826.60 544.36,826.80 544.03,827.00 543.70,827.20 543.37,827.40 543.03,827.60 542.70,827.80 542.37,828.00 542.03,828.20 541.70,828.40 541.37,828.60 541.03,828.80 540.70,829.00 540.37,829.20 540.03,829.40 539.70,829.60 539.38,829.80 539.06,830.00 538.75,830.20 538.45,830.40 538.18,830.60 537.92,830.80 537.67,831.00 537.44,831.20 537.22,831.40 537.01,831.60 536.82,831.80 536.68,832.00 536.59,832.20 536.58,832.40 536.67,832.60 536.86,832.80 537.13,833.00 537.45,833.20 537.81,833.40 538.17,833.60 538.50,833.80 538.75,834.00 538.90,834.20 538.88,834.40 538.69,834.60 538.33,834.80 537.84,835.00 537.26,835.20 536.67,835.40 536.10,835.60 535.57,835.80 535.08,836.00 534.64,836.20 534.21,836.40 533.80,836.60 533.40,836.80 533.00,837.00 532.60,837.20 532.20,837.40 531.80,837.60 531.40,837.80 531.00,838.00 530.60,838.20 530.20,838.40 529.80,838.60 529.40,838.80 528.99,839.00 528.56,839.20 528.10,839.40 527.57,839.60 526.96,839.80 526.22,840.00 525.36,840.20 524.37,840.40 523.30,840.60 522.16,840.80 520.99,841.00 519.80,841.20 518.60,841.40 517.40,841.60 516.19,841.80 514.97,842.00 513.72,842.20 512.38,842.40 510.92,842.60 509.25,842.80 507.34,843.00 505.15,843.20 502.72,843.40 500.08,843.60 497.31,843.80 494.44,844.00 491.49,844.20 488.43,844.40 485.24,844.60 481.92,844.80 478.55,845.00 475.40,845.20 472.88,845.40 471.55,845.60 471.87,845.80 474.06,846.00 414.20,846.20 414.20,846.40 414.20,846.60 414.20,846.80 414.20,847.00 414.20,847.20 414.20,847.40 523.62,847.60 529.13,847.80 533.68,848.00 537.20,848.20 539.76,848.40 541.58,848.60 542.87,848.80 543.86,849.00 544.64,849.20 545.24,849.40 545.62,849.60 545.72,849.80 545.51,850.00 545.07,850.20 544.60,850.40 460.70,850.60 460.70,850.80 460.70,851.00 460.70,851.20 460.70,851.40 460.70,851.60 554.46,851.80 557.03,852.00 559.45,852.20 561.65,852.40 563.56,852.60 565.17,852.80 566.47,853.00 567.46,853.20 568.16,853.40 568.61,853.60 568.88,853.80 569.02,854.00 569.09,854.20 569.14,854.40 569.16,854.60 569.19,854.80 569.21,855.00 569.24,855.20 569.26,855.40 569.28,855.60 569.31,855.80 569.33,856.00 569.35,856.20 569.38,856.40 569.40,856.60 569.42,856.80 569.45,857.00 569.47,857.20 569.49,857.40 569.52,857.60 569.54,857.80 569.56,858.00 569.59,858.20 569.61,858.40 569.64,858.60 569.66,858.80 569.68,859.00 569.70,859.20 569.73,859.40 569.75,859.60 569.76,859.80 569.78,860.00 569.79,860.20 569.79,860.40 569.80,860.60 569.80,860.80 569.80,861.00 569.80,861.20 569.80,861.40 569.80,861.60 569.80,861.80 569.80,862.00 569.81,862.20 569.81,862.40 569.81,862.60 569.81,862.80 569.81,863.00 569.81,863.20 569.81,863.40 569.81,863.60 569.81,863.80 569.81,864.00 569.81,864.20 569.81,864.40 569.81,864.60 569.81,864.80 569.81,865.00 569.81,865.20 569.81,865.40 569.81,865.60 569.81,865.80 569.81,866.00 569.81,866.20 569.81,866.40 569.82,866.60 569.82,866.80 569.82,867.00 569.82,867.20 569.82,867.40 569.82,867.60 569.82,867.80 569.82,868.00 569.82,868.20 569.82,868.40 569.82,868.60 569.82,868.80 569.82,869.00 569.82,869.20 569.82,869.40 569.82,869.60 569.82,869.80 569.82,870.00 569.82,870.20 569.82,870.40 569.82,870.60 569.83,870.80 569.83,871.00 569.83,871.20 569.83,871.40 569.83,871.60 569.83,871.80 569.83,872.00 569.83,872.20 569.83,872.40 569.83,872.60 569.83,872.80 569.83,873.00 569.83,873.20 569.83,873.40 569.83,873.60 569.83,873.80 569.83,874.00 569.83,874.20 569.83,874.40 569.83,874.60 569.83,874.80 569.84,875.00 569.84,875.20 569.84,875.40 569.84,875.60 569.84,875.80 569.84,876.00 569.84,876.20 569.84,876.40 569.84,876.60 569.84,876.80 569.84,877.00 569.84,877.20 569.84,877.40 569.84,877.60 569.84,877.80 569.84,878.00 569.84,878.20 569.84,878.40 569.84,878.60 569.84,878.80 569.84,879.00 569.84,879.20 569.85,879.40 569.85,879.60 569.85,879.80 569.85,880.00 569.85,880.20 569.85,880.40 569.85,880.60 569.85,880.80 569.85,881.00 569.85,881.20 569.85,881.40 569.85,881.60 569.85,881.80 569.85,882.00 569.85,882.20 569.85,882.40 569.85,882.60 569.85,882.80 569.85,883.00 569.85,883.20 569.85,883.40 569.86,883.60 569.86,883.80 569.86,884.00 569.86,884.20 569.86,884.40 569.86,884.60 569.86,884.80 569.86,885.00 569.86,885.20 569.86,885.40 569.86,885.60 569.86,885.80 569.86,886.00 569.86,886.20 569.86,886.40 569.86,886.60 569.86,886.80 569.86,887.00 569.86,887.20 569.86,887.40 569.86,887.60 569.87,887.80 569.87,888.00 569.87,888.20 569.87,888.40 569.87,888.60 569.87,888.80 569.87,889.00 569.87,889.20 569.87,889.40 569.87,889.60 569.87,889.80 569.87,890.00 569.87,890.20 569.87,890.40 569.87,890.60 569.87,890.80 569.87,891.00 569.87,891.20 569.87,891.40 569.87,891.60 569.87,891.80 569.87,892.00 569.88,892.20 569.88,892.40 569.88,892.60 569.88,892.80 569.88,893.00 569.88,893.20 569.88,893.40 569.88,893.60 569.88,893.80 569.88,894.00 569.88,894.20 569.88,894.40 569.88,894.60 569.88,894.80 569.88,895.00 569.88,895.20 569.88,895.40 569.88,895.60 569.88,895.80 569.88,896.00 569.88,896.20 569.89,896.40 569.89,896.60 569.89,896.80 569.89,897.00 569.89,897.20 569.89,897.40 569.89,897.60 569.89,897.80 569.89,898.00 569.89,898.20 569.89,898.40 569.89,898.60 569.89,898.80 569.89,899.00 569.89,899.20 569.89,899.40 569.89,899.60 569.89,899.80 569.89,900.00 569.89,900.20 569.89,900.40 569.89,900.60 569.90,900.80 569.90,901.00 569.90,901.20 569.90,901.40 569.90,901.60 569.90,901.80 569.90,902.00 569.90,902.20 569.90,902.40 569.90,902.60 569.90,902.80 569.90,903.00 569.90,903.20 569.90,903.40 569.90,903.60 569.90,903.80 569.90,904.00 569.90,904.20 569.90,904.40 569.90,904.60 569.90,904.80 569.91,905.00 569.91,905.20 569.91,905.40 569.91,905.60 569.91,905.80 569.91,906.00 569.91,906.20 569.91,906.40 569.91,906.60 569.91,906.80 569.91,907.00 569.91,907.20 569.91,907.40 569.91,907.60 569.91,907.80 569.91,908.00 569.91,908.20 569.91,908.40 569.91,908.60 569.91,908.80 569.91,909.00 569.92,909.20 569.92,909.40 569.92,909.60 569.92,909.80 569.92,910.00 569.92,910.20 569.92,910.40 569.92,910.60 569.92,910.80 569.92,911.00 569.92,911.20 569.92,911.40 569.92,911.60 569.92,911.80 569.92,912.00 569.92,912.20 569.92,912.40 569.92,912.60 569.92,912.80 569.92,913.00 569.92,913.20 569.92,913.40 569.93,913.60 569.93,913.80 569.93,914.00 569.93,914.20 569.93,914.40 569.93,914.60 569.93,914.80 569.93,915.00 569.93,915.20 569.93,915.40 569.93,915.60 569.93,915.80 569.93,916.00 569.93,916.20 569.93,916.40 569.93,916.60 569.93,916.80 569.93,917.00 569.93,917.20 569.93,917.40 569.93,917.60 569.94,917.80 569.94,918.00 569.94,918.20 569.94,918.40 569.94,918.60 569.94,918.80 569.94,919.00 569.94,919.20 569.94,919.40 569.94,919.60 569.94,919.80 569.94,920.00 569.94,920.20 569.94,920.40 569.94,920.60 569.94,920.80 569.94,921.00 569.94,921.20 569.94,921.40 569.94,921.60 569.94,921.80 569.95,922.00 569.95,922.20 569.95,922.40 569.95,922.60 569.95,922.80 569.95,923.00 569.95,923.20 569.95,923.40 569.95,923.60 569.95,923.80 569.95,924.00 569.95,924.20 569.95,924.40 569.95,924.60 569.95,924.80 569.95,925.00 569.95,925.20 569.95,925.40 569.95,925.60 569.95,925.80 569.95,926.00 569.95,926.20 569.96,926.40 569.96,926.60 569.96,926.80 569.96,927.00 569.96,927.20 569.96,927.40 569.96,927.60 569.96,927.80 569.96,928.00 569.96,928.20 569.96,928.40 569.96,928.60 569.96,928.80 569.96,929.00 569.96,929.20 569.96,929.40 569.96,929.60 569.96,929.80 569.96,930.00 569.96,930.20 569.96,930.40 569.97,930.60 569.97,930.80 569.97,931.00 569.97,931.20 569.97,931.40 569.97,931.60 569.97,931.80 569.97,932.00 569.97,932.20 569.97,932.40 569.97,932.60 569.97,932.80 569.97,933.00 569.97,933.20 569.97,933.40 569.97,933.60 569.97,933.80 569.97,934.00 569.97,934.20 569.97,934.40 569.97,934.60 569.97,934.80 569.98,935.00 569.98,935.20 569.98,935.40 569.98,935.60 569.98,935.80 569.98,936.00 569.98,936.20 569.98,936.40 569.98,936.60 569.98,936.80 569.98,937.00 569.98,937.20 569.98,937.40 569.98,937.60 569.98,937.80 569.98,938.00 569.98,938.20 569.98,938.40 569.98,938.60 569.98,938.80 569.98,939.00 569.99,939.20 569.99,939.40 569.99,939.60 569.99,939.80 569.99,940.00 569.99,940.20 569.99,940.40 569.99,940.60 569.99,940.80 569.99,941.00 569.99,941.20 569.99,941.40 569.99,941.60 569.99,941.80 569.99,942.00 569.99,942.20 569.99,942.40 569.99,942.60 569.99,942.80 569.99,943.00 569.99,943.20 570.00,943.40 570.00,943.60 570.00,943.80 570.00,944.00 570.00,944.20 570.00,944.40 570.00,944.60 570.00,944.80 570.00,945.00 570.00,945.20 570.00,945.40 578.80,945.50" fill="#000"/>
<line x1="535.50" y1="694.00" x2="552.60" y2="694.00" stroke="#fff" stroke-width="1.1"/>
<line x1="526.40" y1="700.10" x2="543.50" y2="700.10" stroke="#fff" stroke-width="1.1"/>
<line x1="500.00" y1="724.30" x2="538.50" y2="724.30" stroke="#fff" stroke-width="1.3"/>
<line x1="500.00" y1="750.40" x2="538.50" y2="750.40" stroke="#fff" stroke-width="1.0"/>
<line x1="497.00" y1="755.90" x2="533.50" y2="755.90" stroke="#fff" stroke-width="1.1"/>
<line x1="470.00" y1="761.10" x2="561.70" y2="761.10" stroke="#fff" stroke-width="2.2"/>
<line x1="447.00" y1="779.60" x2="538.50" y2="779.60" stroke="#fff" stroke-width="1.1"/>
<line x1="538.20" y1="833.30" x2="566.40" y2="833.30" stroke="#fff" stroke-width="1.3"/>
<line x1="460.70" y1="848.80" x2="548.10" y2="848.80" stroke="#fff" stroke-width="1.5"/>
<line x1="578.80" y1="945.50" x2="584.80" y2="945.50" stroke="#000" stroke-width="1.3" stroke-linecap="butt"/>
<text x="590.00" y="950.50" font-family='"Liberation Serif", serif' font-size="15" text-anchor="start" fill="#222">0</text>
<line x1="578.80" y1="919.90" x2="584.80" y2="919.90" stroke="#000" stroke-width="1.3" stroke-linecap="butt"/>
<text x="590.00" y="924.90" font-family='"Liberation Serif", serif' font-size="15" text-anchor="start" fill="#222">1</text>
<line x1="578.80" y1="894.30" x2="584.80" y2="894.30" stroke="#000" stroke-width="1.3" stroke-linecap="butt"/>
<text x="590.00" y="899.30" font-family='"Liberation Serif", serif' font-size="15" text-anchor="start" fill="#222">2</text>
<line x1="578.80" y1="868.70" x2="584.80" y2="868.70" stroke="#000" stroke-width="1.3" stroke-linecap="butt"/>
<text x="590.00" y="873.70" font-family='"Liberation Serif", serif' font-size="15" text-anchor="start" fill="#222">3</text>
<line x1="578.80" y1="843.10" x2="584.80" y2="843.10" stroke="#000" stroke-width="1.3" stroke-linecap="butt"/>
<text x="590.00" y="848.10" font-family='"Liberation Serif", serif' font-size="15" text-anchor="start" fill="#222">4</text>
<line x1="578.80" y1="817.50" x2="584.80" y2="817.50" stroke="#000" stroke-width="1.3" stroke-linecap="butt"/>
<text x="590.00" y="822.50" font-family='"Liberation Serif", serif' font-size="15" text-anchor="start" fill="#222">5</text>
<line x1="578.80" y1="791.90" x2="584.80" y2="791.90" stroke="#000" stroke-width="1.3" stroke-linecap="butt"/>
<text x="590.00" y="796.90" font-family='"Liberation Serif", serif' font-size="15" text-anchor="start" fill="#222">6</text>
<line x1="578.80" y1="766.30" x2="584.80" y2="766.30" stroke="#000" stroke-width="1.3" stroke-linecap="butt"/>
<text x="590.00" y="771.30" font-family='"Liberation Serif", serif' font-size="15" text-anchor="start" fill="#222">7</text>
<line x1="578.80" y1="740.70" x2="584.80" y2="740.70" stroke="#000" stroke-width="1.3" stroke-linecap="butt"/>
<text x="590.00" y="745.70" font-family='"Liberation Serif", serif' font-size="15" text-anchor="start" fill="#222">8</text>
<line x1="578.80" y1="715.10" x2="584.80" y2="715.10" stroke="#000" stroke-width="1.3" stroke-linecap="butt"/>
<text x="590.00" y="720.10" font-family='"Liberation Serif", serif' font-size="15" text-anchor="start" fill="#222">9</text>
<line x1="578.80" y1="689.50" x2="584.80" y2="689.50" stroke="#000" stroke-width="1.3" stroke-linecap="butt"/>
<text x="590.00" y="694.50" font-family='"Liberation Serif", serif' font-size="15" text-anchor="start" fill="#222">10</text>
<line x1="408.50" y1="945.50" x2="408.50" y2="952.50" stroke="#000" stroke-width="1.3" stroke-linecap="butt"/>
<line x1="432.80" y1="945.50" x2="432.80" y2="952.50" stroke="#000" stroke-width="1.3" stroke-linecap="butt"/>
<line x1="457.20" y1="945.50" x2="457.20" y2="952.50" stroke="#000" stroke-width="1.3" stroke-linecap="butt"/>
<line x1="481.50" y1="945.50" x2="481.50" y2="952.50" stroke="#000" stroke-width="1.3" stroke-linecap="butt"/>
<line x1="505.90" y1="945.50" x2="505.90" y2="952.50" stroke="#000" stroke-width="1.3" stroke-linecap="butt"/>
<line x1="530.20" y1="945.50" x2="530.20" y2="952.50" stroke="#000" stroke-width="1.3" stroke-linecap="butt"/>
<line x1="554.60" y1="945.50" x2="554.60" y2="952.50" stroke="#000" stroke-width="1.3" stroke-linecap="butt"/>
<line x1="577.90" y1="945.50" x2="577.90" y2="952.50" stroke="#000" stroke-width="1.3" stroke-linecap="butt"/>
<text transform="translate(614.5,897.7) rotate(-90)" font-family='"Liberation Sans", sans-serif' font-size="18.5" textLength="185.5" lengthAdjust="spacingAndGlyphs">Frequency (x 10<tspan dy="-6" font-size="12">14</tspan><tspan dy="6"> Hz)</tspan></text>
<text x="458.9" y="971" font-family='"Liberation Sans", sans-serif' font-size="17" textLength="89.4" lengthAdjust="spacingAndGlyphs">TE DoS (a.u.)</text>
<text x="423.50" y="719.00" font-family='"Liberation Sans", sans-serif' font-size="18.5" text-anchor="start" fill="#454545" font-weight="bold" textLength="20.1" lengthAdjust="spacingAndGlyphs">(h)</text>
<text x="427.00" y="876.50" font-family='"Liberation Sans", sans-serif' font-size="17.5" text-anchor="start" fill="#4a4a4a" textLength="15" lengthAdjust="spacingAndGlyphs">(i)</text>
<clipPath id="ci"><rect x="445.5" y="855.5" width="74.5" height="69"/></clipPath><g clip-path="url(#ci)" fill="#000">
<circle cx="437.70" cy="864.20" r="2.7"/>
<circle cx="445.25" cy="864.20" r="1.2"/>
<circle cx="452.80" cy="864.20" r="2.7"/>
<circle cx="460.35" cy="864.20" r="1.2"/>
<circle cx="467.90" cy="864.20" r="2.7"/>
<circle cx="475.45" cy="864.20" r="1.2"/>
<circle cx="483.00" cy="864.20" r="2.7"/>
<circle cx="490.55" cy="864.20" r="1.2"/>
<circle cx="498.10" cy="864.20" r="2.7"/>
<circle cx="505.65" cy="864.20" r="1.2"/>
<circle cx="513.20" cy="864.20" r="2.7"/>
<circle cx="520.75" cy="864.20" r="1.2"/>
<circle cx="528.30" cy="864.20" r="2.7"/>
<circle cx="535.85" cy="864.20" r="1.2"/>
<circle cx="543.40" cy="864.20" r="2.7"/>
<circle cx="550.95" cy="864.20" r="1.2"/>
<circle cx="445.25" cy="877.40" r="2.7"/>
<circle cx="452.80" cy="877.40" r="1.2"/>
<circle cx="460.35" cy="877.40" r="2.7"/>
<circle cx="467.90" cy="877.40" r="1.2"/>
<circle cx="475.45" cy="877.40" r="2.7"/>
<circle cx="483.00" cy="877.40" r="1.2"/>
<circle cx="490.55" cy="877.40" r="2.7"/>
<circle cx="498.10" cy="877.40" r="1.2"/>
<circle cx="505.65" cy="877.40" r="2.7"/>
<circle cx="513.20" cy="877.40" r="1.2"/>
<circle cx="520.75" cy="877.40" r="2.7"/>
<circle cx="528.30" cy="877.40" r="1.2"/>
<circle cx="535.85" cy="877.40" r="2.7"/>
<circle cx="543.40" cy="877.40" r="1.2"/>
<circle cx="550.95" cy="877.40" r="2.7"/>
<circle cx="558.50" cy="877.40" r="1.2"/>
<circle cx="437.70" cy="890.60" r="2.7"/>
<circle cx="445.25" cy="890.60" r="1.2"/>
<circle cx="452.80" cy="890.60" r="2.7"/>
<circle cx="460.35" cy="890.60" r="1.2"/>
<circle cx="467.90" cy="890.60" r="2.7"/>
<circle cx="475.45" cy="890.60" r="1.2"/>
<circle cx="483.00" cy="890.60" r="2.7"/>
<circle cx="490.55" cy="890.60" r="1.2"/>
<circle cx="498.10" cy="890.60" r="2.7"/>
<circle cx="505.65" cy="890.60" r="1.2"/>
<circle cx="513.20" cy="890.60" r="2.7"/>
<circle cx="520.75" cy="890.60" r="1.2"/>
<circle cx="528.30" cy="890.60" r="2.7"/>
<circle cx="535.85" cy="890.60" r="1.2"/>
<circle cx="543.40" cy="890.60" r="2.7"/>
<circle cx="550.95" cy="890.60" r="1.2"/>
<circle cx="445.25" cy="903.80" r="2.7"/>
<circle cx="452.80" cy="903.80" r="1.2"/>
<circle cx="460.35" cy="903.80" r="2.7"/>
<circle cx="467.90" cy="903.80" r="1.2"/>
<circle cx="475.45" cy="903.80" r="2.7"/>
<circle cx="483.00" cy="903.80" r="1.2"/>
<circle cx="490.55" cy="903.80" r="2.7"/>
<circle cx="498.10" cy="903.80" r="1.2"/>
<circle cx="505.65" cy="903.80" r="2.7"/>
<circle cx="513.20" cy="903.80" r="1.2"/>
<circle cx="520.75" cy="903.80" r="2.7"/>
<circle cx="528.30" cy="903.80" r="1.2"/>
<circle cx="535.85" cy="903.80" r="2.7"/>
<circle cx="543.40" cy="903.80" r="1.2"/>
<circle cx="550.95" cy="903.80" r="2.7"/>
<circle cx="558.50" cy="903.80" r="1.2"/>
<circle cx="437.70" cy="917.00" r="2.7"/>
<circle cx="445.25" cy="917.00" r="1.2"/>
<circle cx="452.80" cy="917.00" r="2.7"/>
<circle cx="460.35" cy="917.00" r="1.2"/>
<circle cx="467.90" cy="917.00" r="2.7"/>
<circle cx="475.45" cy="917.00" r="1.2"/>
<circle cx="483.00" cy="917.00" r="2.7"/>
<circle cx="490.55" cy="917.00" r="1.2"/>
<circle cx="498.10" cy="917.00" r="2.7"/>
<circle cx="505.65" cy="917.00" r="1.2"/>
<circle cx="513.20" cy="917.00" r="2.7"/>
<circle cx="520.75" cy="917.00" r="1.2"/>
<circle cx="528.30" cy="917.00" r="2.7"/>
<circle cx="535.85" cy="917.00" r="1.2"/>
<circle cx="543.40" cy="917.00" r="2.7"/>
<circle cx="550.95" cy="917.00" r="1.2"/>
<circle cx="441.65" cy="858.00" r="1.2"/>
<circle cx="449.20" cy="858.00" r="1.2"/>
<circle cx="456.75" cy="858.00" r="1.2"/>
<circle cx="464.30" cy="858.00" r="1.2"/>
<circle cx="471.85" cy="858.00" r="1.2"/>
<circle cx="479.40" cy="858.00" r="1.2"/>
<circle cx="486.95" cy="858.00" r="1.2"/>
<circle cx="494.50" cy="858.00" r="1.2"/>
<circle cx="502.05" cy="858.00" r="1.2"/>
<circle cx="509.60" cy="858.00" r="1.2"/>
<circle cx="517.15" cy="858.00" r="1.2"/>
<circle cx="524.70" cy="858.00" r="1.2"/>
<circle cx="532.25" cy="858.00" r="1.2"/>
<circle cx="441.65" cy="870.60" r="1.2"/>
<circle cx="449.20" cy="870.60" r="1.2"/>
<circle cx="456.75" cy="870.60" r="1.2"/>
<circle cx="464.30" cy="870.60" r="1.2"/>
<circle cx="471.85" cy="870.60" r="1.2"/>
<circle cx="479.40" cy="870.60" r="1.2"/>
<circle cx="486.95" cy="870.60" r="1.2"/>
<circle cx="494.50" cy="870.60" r="1.2"/>
<circle cx="502.05" cy="870.60" r="1.2"/>
<circle cx="509.60" cy="870.60" r="1.2"/>
<circle cx="517.15" cy="870.60" r="1.2"/>
<circle cx="524.70" cy="870.60" r="1.2"/>
<circle cx="532.25" cy="870.60" r="1.2"/>
<circle cx="441.65" cy="883.80" r="1.2"/>
<circle cx="449.20" cy="883.80" r="1.2"/>
<circle cx="456.75" cy="883.80" r="1.2"/>
<circle cx="464.30" cy="883.80" r="1.2"/>
<circle cx="471.85" cy="883.80" r="1.2"/>
<circle cx="479.40" cy="883.80" r="1.2"/>
<circle cx="486.95" cy="883.80" r="1.2"/>
<circle cx="494.50" cy="883.80" r="1.2"/>
<circle cx="502.05" cy="883.80" r="1.2"/>
<circle cx="509.60" cy="883.80" r="1.2"/>
<circle cx="517.15" cy="883.80" r="1.2"/>
<circle cx="524.70" cy="883.80" r="1.2"/>
<circle cx="532.25" cy="883.80" r="1.2"/>
<circle cx="441.65" cy="897.00" r="1.2"/>
<circle cx="449.20" cy="897.00" r="1.2"/>
<circle cx="456.75" cy="897.00" r="1.2"/>
<circle cx="464.30" cy="897.00" r="1.2"/>
<circle cx="471.85" cy="897.00" r="1.2"/>
<circle cx="479.40" cy="897.00" r="1.2"/>
<circle cx="486.95" cy="897.00" r="1.2"/>
<circle cx="494.50" cy="897.00" r="1.2"/>
<circle cx="502.05" cy="897.00" r="1.2"/>
<circle cx="509.60" cy="897.00" r="1.2"/>
<circle cx="517.15" cy="897.00" r="1.2"/>
<circle cx="524.70" cy="897.00" r="1.2"/>
<circle cx="532.25" cy="897.00" r="1.2"/>
<circle cx="441.65" cy="910.20" r="1.2"/>
<circle cx="449.20" cy="910.20" r="1.2"/>
<circle cx="456.75" cy="910.20" r="1.2"/>
<circle cx="464.30" cy="910.20" r="1.2"/>
<circle cx="471.85" cy="910.20" r="1.2"/>
<circle cx="479.40" cy="910.20" r="1.2"/>
<circle cx="486.95" cy="910.20" r="1.2"/>
<circle cx="494.50" cy="910.20" r="1.2"/>
<circle cx="502.05" cy="910.20" r="1.2"/>
<circle cx="509.60" cy="910.20" r="1.2"/>
<circle cx="517.15" cy="910.20" r="1.2"/>
<circle cx="524.70" cy="910.20" r="1.2"/>
<circle cx="532.25" cy="910.20" r="1.2"/>
<circle cx="441.65" cy="923.40" r="1.2"/>
<circle cx="449.20" cy="923.40" r="1.2"/>
<circle cx="456.75" cy="923.40" r="1.2"/>
<circle cx="464.30" cy="923.40" r="1.2"/>
<circle cx="471.85" cy="923.40" r="1.2"/>
<circle cx="479.40" cy="923.40" r="1.2"/>
<circle cx="486.95" cy="923.40" r="1.2"/>
<circle cx="494.50" cy="923.40" r="1.2"/>
<circle cx="502.05" cy="923.40" r="1.2"/>
<circle cx="509.60" cy="923.40" r="1.2"/>
<circle cx="517.15" cy="923.40" r="1.2"/>
<circle cx="524.70" cy="923.40" r="1.2"/>
<circle cx="532.25" cy="923.40" r="1.2"/>
</g>
</svg></body></html>
